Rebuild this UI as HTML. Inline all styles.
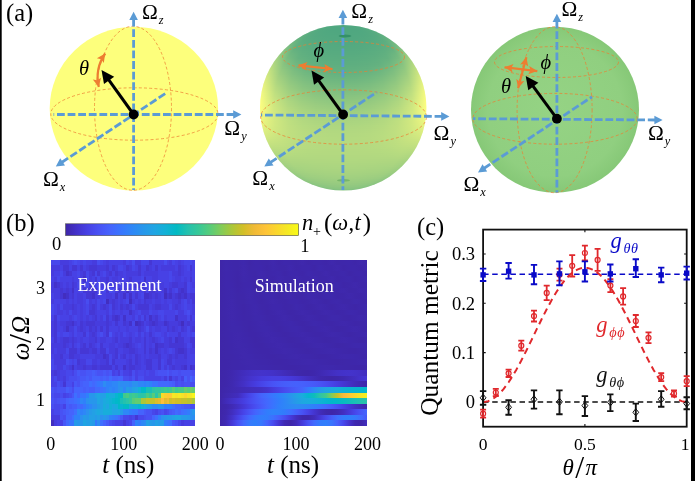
<!DOCTYPE html>
<html lang="en"><head><meta charset="utf-8"><title>Quantum metric figure</title>
<style>html,body{margin:0;padding:0;background:#fff;overflow:hidden}svg{display:block;will-change:transform}</style>
</head><body>
<svg width="695" height="481" viewBox="0 0 695 481">
<rect width="695" height="481" fill="#fff"/>
<ellipse cx="133.9" cy="108.6" rx="84.2" ry="81.9" fill="#fdff7c"/>
<ellipse cx="134.4" cy="114.0" rx="83.6" ry="26.2" fill="none" stroke="#ed7d31" stroke-width="0.9" stroke-dasharray="3 2.2" opacity="0.8"/>
<ellipse cx="133.0" cy="108.3" rx="38.5" ry="82.0" fill="none" stroke="#ed7d31" stroke-width="0.9" stroke-dasharray="3 2.2" opacity="0.8"/>
<line x1="133.6" y1="18.7" x2="133.6" y2="190.0" stroke="#5b9bd5" stroke-width="2.8" stroke-dasharray="7.8 2.8"/>
<polygon points="133.6,11.7 137.9,19.9 129.3,19.9" fill="#5b9bd5"/>
<line x1="234.4" y1="114.5" x2="53.5" y2="114.5" stroke="#5b9bd5" stroke-width="2.8" stroke-dasharray="7.8 2.8"/>
<polygon points="241.4,114.5 233.2,118.8 233.2,110.2" fill="#5b9bd5"/>
<line x1="61.6" y1="162.5" x2="167.2" y2="92.3" stroke="#5b9bd5" stroke-width="2.8" stroke-dasharray="7.8 2.8"/>
<polygon points="55.8,166.4 60.2,158.3 65.0,165.4" fill="#5b9bd5"/>
<line x1="133.6" y1="114.5" x2="106.8" y2="77.2" stroke="#000" stroke-width="3.0"/>
<polygon points="101.5,69.9 114.2,76.8 104.0,84.1" fill="#000"/>
<circle cx="133.6" cy="114.5" r="4.9" fill="#000"/>
<path d="M105.2 53.5Q94.6 68.8 98.8 87.0" fill="none" stroke="#ed7d31" stroke-width="2.2"/>
<polygon points="105.2,53.5 103.8,63.0 101.3,59.2 96.9,58.2" fill="#ed7d31"/>
<polygon points="98.8,87.0 92.8,79.6 97.3,80.3 101.0,77.7" fill="#ed7d31"/>
<text x="79" y="75" font-family="'Liberation Serif', serif" font-size="20.5" font-style="italic">θ</text>
<text x="142.0" y="18.7" font-family="'Liberation Serif', serif" font-size="21.3">Ω<tspan font-style="italic" font-size="12.3" dx="1" dy="5">z</tspan></text>
<text x="224.3" y="135.2" font-family="'Liberation Serif', serif" font-size="21.3">Ω<tspan font-style="italic" font-size="12.3" dx="1" dy="5">y</tspan></text>
<text x="43.0" y="186.1" font-family="'Liberation Serif', serif" font-size="21.3">Ω<tspan font-style="italic" font-size="12.3" dx="1" dy="5">x</tspan></text>
<defs><clipPath id="c2"><ellipse cx="343.2" cy="107.8" rx="83.2" ry="82.8"/></clipPath><linearGradient id="r0" gradientUnits="userSpaceOnUse" x1="330.3" x2="356.1" y1="0" y2="0"><stop offset="0.000" stop-color="#55aa80"/><stop offset="0.083" stop-color="#52a980"/><stop offset="0.167" stop-color="#51a880"/><stop offset="0.250" stop-color="#51a880"/><stop offset="0.333" stop-color="#50a880"/><stop offset="0.417" stop-color="#50a780"/><stop offset="0.500" stop-color="#50a780"/><stop offset="0.583" stop-color="#50a780"/><stop offset="0.667" stop-color="#50a880"/><stop offset="0.750" stop-color="#51a880"/><stop offset="0.833" stop-color="#51a880"/><stop offset="0.917" stop-color="#52a980"/><stop offset="1.000" stop-color="#55aa80"/></linearGradient><linearGradient id="r1" gradientUnits="userSpaceOnUse" x1="321.0" x2="365.4" y1="0" y2="0"><stop offset="0.000" stop-color="#58ab80"/><stop offset="0.083" stop-color="#52a980"/><stop offset="0.167" stop-color="#51a880"/><stop offset="0.250" stop-color="#50a780"/><stop offset="0.333" stop-color="#4fa780"/><stop offset="0.417" stop-color="#4fa780"/><stop offset="0.500" stop-color="#4fa780"/><stop offset="0.583" stop-color="#4fa780"/><stop offset="0.667" stop-color="#4fa780"/><stop offset="0.750" stop-color="#50a780"/><stop offset="0.833" stop-color="#51a880"/><stop offset="0.917" stop-color="#52a980"/><stop offset="1.000" stop-color="#58ab80"/></linearGradient><linearGradient id="r2" gradientUnits="userSpaceOnUse" x1="314.7" x2="371.7" y1="0" y2="0"><stop offset="0.000" stop-color="#5aad80"/><stop offset="0.083" stop-color="#53a980"/><stop offset="0.167" stop-color="#51a880"/><stop offset="0.250" stop-color="#50a780"/><stop offset="0.333" stop-color="#4fa780"/><stop offset="0.417" stop-color="#4fa780"/><stop offset="0.500" stop-color="#4fa780"/><stop offset="0.583" stop-color="#4fa780"/><stop offset="0.667" stop-color="#4fa780"/><stop offset="0.750" stop-color="#50a780"/><stop offset="0.833" stop-color="#51a880"/><stop offset="0.917" stop-color="#53a980"/><stop offset="1.000" stop-color="#5aad80"/></linearGradient><linearGradient id="r3" gradientUnits="userSpaceOnUse" x1="309.7" x2="376.7" y1="0" y2="0"><stop offset="0.000" stop-color="#5dae80"/><stop offset="0.083" stop-color="#54aa80"/><stop offset="0.167" stop-color="#52a880"/><stop offset="0.250" stop-color="#50a880"/><stop offset="0.333" stop-color="#50a780"/><stop offset="0.417" stop-color="#4fa780"/><stop offset="0.500" stop-color="#4fa780"/><stop offset="0.583" stop-color="#4fa780"/><stop offset="0.667" stop-color="#50a780"/><stop offset="0.750" stop-color="#50a880"/><stop offset="0.833" stop-color="#52a880"/><stop offset="0.917" stop-color="#54aa80"/><stop offset="1.000" stop-color="#5dae80"/></linearGradient><linearGradient id="r4" gradientUnits="userSpaceOnUse" x1="305.5" x2="380.9" y1="0" y2="0"><stop offset="0.000" stop-color="#5faf80"/><stop offset="0.083" stop-color="#56aa80"/><stop offset="0.167" stop-color="#53a980"/><stop offset="0.250" stop-color="#51a880"/><stop offset="0.333" stop-color="#50a880"/><stop offset="0.417" stop-color="#50a780"/><stop offset="0.500" stop-color="#50a780"/><stop offset="0.583" stop-color="#50a780"/><stop offset="0.667" stop-color="#50a880"/><stop offset="0.750" stop-color="#51a880"/><stop offset="0.833" stop-color="#53a980"/><stop offset="0.917" stop-color="#56aa80"/><stop offset="1.000" stop-color="#5faf80"/></linearGradient><linearGradient id="r5" gradientUnits="userSpaceOnUse" x1="301.8" x2="384.6" y1="0" y2="0"><stop offset="0.000" stop-color="#62b180"/><stop offset="0.083" stop-color="#57ab80"/><stop offset="0.167" stop-color="#54a980"/><stop offset="0.250" stop-color="#52a880"/><stop offset="0.333" stop-color="#51a880"/><stop offset="0.417" stop-color="#51a880"/><stop offset="0.500" stop-color="#51a880"/><stop offset="0.583" stop-color="#51a880"/><stop offset="0.667" stop-color="#51a880"/><stop offset="0.750" stop-color="#52a880"/><stop offset="0.833" stop-color="#54a980"/><stop offset="0.917" stop-color="#57ab80"/><stop offset="1.000" stop-color="#62b180"/></linearGradient><linearGradient id="r6" gradientUnits="userSpaceOnUse" x1="298.4" x2="388.0" y1="0" y2="0"><stop offset="0.000" stop-color="#66b280"/><stop offset="0.083" stop-color="#59ac80"/><stop offset="0.167" stop-color="#55aa80"/><stop offset="0.250" stop-color="#53a980"/><stop offset="0.333" stop-color="#52a880"/><stop offset="0.417" stop-color="#51a880"/><stop offset="0.500" stop-color="#51a880"/><stop offset="0.583" stop-color="#51a880"/><stop offset="0.667" stop-color="#52a880"/><stop offset="0.750" stop-color="#53a980"/><stop offset="0.833" stop-color="#55aa80"/><stop offset="0.917" stop-color="#59ac80"/><stop offset="1.000" stop-color="#66b280"/></linearGradient><linearGradient id="r7" gradientUnits="userSpaceOnUse" x1="295.4" x2="391.0" y1="0" y2="0"><stop offset="0.000" stop-color="#6cb580"/><stop offset="0.083" stop-color="#5bad80"/><stop offset="0.167" stop-color="#56ab80"/><stop offset="0.250" stop-color="#54a980"/><stop offset="0.333" stop-color="#52a980"/><stop offset="0.417" stop-color="#52a880"/><stop offset="0.500" stop-color="#52a880"/><stop offset="0.583" stop-color="#52a880"/><stop offset="0.667" stop-color="#52a980"/><stop offset="0.750" stop-color="#54a980"/><stop offset="0.833" stop-color="#56ab80"/><stop offset="0.917" stop-color="#5bad80"/><stop offset="1.000" stop-color="#6cb580"/></linearGradient><linearGradient id="r8" gradientUnits="userSpaceOnUse" x1="292.7" x2="393.7" y1="0" y2="0"><stop offset="0.000" stop-color="#72b880"/><stop offset="0.083" stop-color="#5dae80"/><stop offset="0.167" stop-color="#57ab80"/><stop offset="0.250" stop-color="#55aa80"/><stop offset="0.333" stop-color="#53a980"/><stop offset="0.417" stop-color="#53a980"/><stop offset="0.500" stop-color="#52a980"/><stop offset="0.583" stop-color="#53a980"/><stop offset="0.667" stop-color="#53a980"/><stop offset="0.750" stop-color="#55aa80"/><stop offset="0.833" stop-color="#57ab80"/><stop offset="0.917" stop-color="#5dae80"/><stop offset="1.000" stop-color="#72b880"/></linearGradient><linearGradient id="r9" gradientUnits="userSpaceOnUse" x1="290.2" x2="396.2" y1="0" y2="0"><stop offset="0.000" stop-color="#78bb80"/><stop offset="0.083" stop-color="#5faf80"/><stop offset="0.167" stop-color="#59ac80"/><stop offset="0.250" stop-color="#56aa80"/><stop offset="0.333" stop-color="#54aa80"/><stop offset="0.417" stop-color="#53a980"/><stop offset="0.500" stop-color="#53a980"/><stop offset="0.583" stop-color="#53a980"/><stop offset="0.667" stop-color="#54aa80"/><stop offset="0.750" stop-color="#56aa80"/><stop offset="0.833" stop-color="#59ac80"/><stop offset="0.917" stop-color="#5faf80"/><stop offset="1.000" stop-color="#78bb80"/></linearGradient><linearGradient id="r10" gradientUnits="userSpaceOnUse" x1="287.8" x2="398.6" y1="0" y2="0"><stop offset="0.000" stop-color="#7ebe80"/><stop offset="0.083" stop-color="#61b080"/><stop offset="0.167" stop-color="#5aad80"/><stop offset="0.250" stop-color="#57ab80"/><stop offset="0.333" stop-color="#55aa80"/><stop offset="0.417" stop-color="#54aa80"/><stop offset="0.500" stop-color="#54a980"/><stop offset="0.583" stop-color="#54aa80"/><stop offset="0.667" stop-color="#55aa80"/><stop offset="0.750" stop-color="#57ab80"/><stop offset="0.833" stop-color="#5aad80"/><stop offset="0.917" stop-color="#61b080"/><stop offset="1.000" stop-color="#7ebe80"/></linearGradient><linearGradient id="r11" gradientUnits="userSpaceOnUse" x1="285.7" x2="400.7" y1="0" y2="0"><stop offset="0.000" stop-color="#84c280"/><stop offset="0.083" stop-color="#63b180"/><stop offset="0.167" stop-color="#5cad80"/><stop offset="0.250" stop-color="#58ac80"/><stop offset="0.333" stop-color="#56aa80"/><stop offset="0.417" stop-color="#55aa80"/><stop offset="0.500" stop-color="#55aa80"/><stop offset="0.583" stop-color="#55aa80"/><stop offset="0.667" stop-color="#56aa80"/><stop offset="0.750" stop-color="#58ac80"/><stop offset="0.833" stop-color="#5cad80"/><stop offset="0.917" stop-color="#63b180"/><stop offset="1.000" stop-color="#84c280"/></linearGradient><linearGradient id="r12" gradientUnits="userSpaceOnUse" x1="283.6" x2="402.8" y1="0" y2="0"><stop offset="0.000" stop-color="#8ac580"/><stop offset="0.083" stop-color="#66b280"/><stop offset="0.167" stop-color="#5dae80"/><stop offset="0.250" stop-color="#59ac80"/><stop offset="0.333" stop-color="#57ab80"/><stop offset="0.417" stop-color="#56aa80"/><stop offset="0.500" stop-color="#56aa80"/><stop offset="0.583" stop-color="#56aa80"/><stop offset="0.667" stop-color="#57ab80"/><stop offset="0.750" stop-color="#59ac80"/><stop offset="0.833" stop-color="#5dae80"/><stop offset="0.917" stop-color="#66b280"/><stop offset="1.000" stop-color="#8ac580"/></linearGradient><linearGradient id="r13" gradientUnits="userSpaceOnUse" x1="281.7" x2="404.7" y1="0" y2="0"><stop offset="0.000" stop-color="#91c880"/><stop offset="0.083" stop-color="#6ab480"/><stop offset="0.167" stop-color="#5faf80"/><stop offset="0.250" stop-color="#5bad80"/><stop offset="0.333" stop-color="#58ac80"/><stop offset="0.417" stop-color="#57ab80"/><stop offset="0.500" stop-color="#57ab80"/><stop offset="0.583" stop-color="#57ab80"/><stop offset="0.667" stop-color="#58ac80"/><stop offset="0.750" stop-color="#5bad80"/><stop offset="0.833" stop-color="#5faf80"/><stop offset="0.917" stop-color="#6ab480"/><stop offset="1.000" stop-color="#91c880"/></linearGradient><linearGradient id="r14" gradientUnits="userSpaceOnUse" x1="280.0" x2="406.4" y1="0" y2="0"><stop offset="0.000" stop-color="#97cb80"/><stop offset="0.083" stop-color="#6eb780"/><stop offset="0.167" stop-color="#61b080"/><stop offset="0.250" stop-color="#5cad80"/><stop offset="0.333" stop-color="#59ac80"/><stop offset="0.417" stop-color="#58ab80"/><stop offset="0.500" stop-color="#58ab80"/><stop offset="0.583" stop-color="#58ab80"/><stop offset="0.667" stop-color="#59ac80"/><stop offset="0.750" stop-color="#5cad80"/><stop offset="0.833" stop-color="#61b080"/><stop offset="0.917" stop-color="#6eb780"/><stop offset="1.000" stop-color="#97cb80"/></linearGradient><linearGradient id="r15" gradientUnits="userSpaceOnUse" x1="278.3" x2="408.1" y1="0" y2="0"><stop offset="0.000" stop-color="#9dce80"/><stop offset="0.083" stop-color="#73b980"/><stop offset="0.167" stop-color="#63b180"/><stop offset="0.250" stop-color="#5dae80"/><stop offset="0.333" stop-color="#5bad80"/><stop offset="0.417" stop-color="#59ac80"/><stop offset="0.500" stop-color="#59ac80"/><stop offset="0.583" stop-color="#59ac80"/><stop offset="0.667" stop-color="#5bad80"/><stop offset="0.750" stop-color="#5dae80"/><stop offset="0.833" stop-color="#63b180"/><stop offset="0.917" stop-color="#73b980"/><stop offset="1.000" stop-color="#9dce80"/></linearGradient><linearGradient id="r16" gradientUnits="userSpaceOnUse" x1="276.7" x2="409.7" y1="0" y2="0"><stop offset="0.000" stop-color="#a3d180"/><stop offset="0.083" stop-color="#77bb80"/><stop offset="0.167" stop-color="#64b280"/><stop offset="0.250" stop-color="#5faf80"/><stop offset="0.333" stop-color="#5cad80"/><stop offset="0.417" stop-color="#5aad80"/><stop offset="0.500" stop-color="#5aac80"/><stop offset="0.583" stop-color="#5aad80"/><stop offset="0.667" stop-color="#5cad80"/><stop offset="0.750" stop-color="#5faf80"/><stop offset="0.833" stop-color="#64b280"/><stop offset="0.917" stop-color="#77bb80"/><stop offset="1.000" stop-color="#a3d180"/></linearGradient><linearGradient id="r17" gradientUnits="userSpaceOnUse" x1="275.3" x2="411.1" y1="0" y2="0"><stop offset="0.000" stop-color="#a9d480"/><stop offset="0.083" stop-color="#7cbe80"/><stop offset="0.167" stop-color="#68b380"/><stop offset="0.250" stop-color="#60b080"/><stop offset="0.333" stop-color="#5dae80"/><stop offset="0.417" stop-color="#5bad80"/><stop offset="0.500" stop-color="#5bad80"/><stop offset="0.583" stop-color="#5bad80"/><stop offset="0.667" stop-color="#5dae80"/><stop offset="0.750" stop-color="#60b080"/><stop offset="0.833" stop-color="#68b380"/><stop offset="0.917" stop-color="#7cbe80"/><stop offset="1.000" stop-color="#a9d480"/></linearGradient><linearGradient id="r18" gradientUnits="userSpaceOnUse" x1="273.9" x2="412.5" y1="0" y2="0"><stop offset="0.000" stop-color="#afd780"/><stop offset="0.083" stop-color="#81c080"/><stop offset="0.167" stop-color="#6bb580"/><stop offset="0.250" stop-color="#62b080"/><stop offset="0.333" stop-color="#5eaf80"/><stop offset="0.417" stop-color="#5dae80"/><stop offset="0.500" stop-color="#5cae80"/><stop offset="0.583" stop-color="#5dae80"/><stop offset="0.667" stop-color="#5eaf80"/><stop offset="0.750" stop-color="#62b080"/><stop offset="0.833" stop-color="#6bb580"/><stop offset="0.917" stop-color="#81c080"/><stop offset="1.000" stop-color="#afd780"/></linearGradient><linearGradient id="r19" gradientUnits="userSpaceOnUse" x1="272.6" x2="413.8" y1="0" y2="0"><stop offset="0.000" stop-color="#b5da80"/><stop offset="0.083" stop-color="#85c280"/><stop offset="0.167" stop-color="#6fb780"/><stop offset="0.250" stop-color="#63b180"/><stop offset="0.333" stop-color="#60af80"/><stop offset="0.417" stop-color="#5eae80"/><stop offset="0.500" stop-color="#5dae80"/><stop offset="0.583" stop-color="#5eae80"/><stop offset="0.667" stop-color="#60af80"/><stop offset="0.750" stop-color="#63b180"/><stop offset="0.833" stop-color="#6fb780"/><stop offset="0.917" stop-color="#85c280"/><stop offset="1.000" stop-color="#b5da80"/></linearGradient><linearGradient id="r20" gradientUnits="userSpaceOnUse" x1="271.4" x2="415.0" y1="0" y2="0"><stop offset="0.000" stop-color="#bbdd80"/><stop offset="0.083" stop-color="#8ac480"/><stop offset="0.167" stop-color="#73b980"/><stop offset="0.250" stop-color="#65b280"/><stop offset="0.333" stop-color="#61b080"/><stop offset="0.417" stop-color="#5faf80"/><stop offset="0.500" stop-color="#5faf80"/><stop offset="0.583" stop-color="#5faf80"/><stop offset="0.667" stop-color="#61b080"/><stop offset="0.750" stop-color="#65b280"/><stop offset="0.833" stop-color="#73b980"/><stop offset="0.917" stop-color="#8ac480"/><stop offset="1.000" stop-color="#bbdd80"/></linearGradient><linearGradient id="r21" gradientUnits="userSpaceOnUse" x1="270.2" x2="416.2" y1="0" y2="0"><stop offset="0.000" stop-color="#c0e080"/><stop offset="0.083" stop-color="#8ec780"/><stop offset="0.167" stop-color="#76bb80"/><stop offset="0.250" stop-color="#69b480"/><stop offset="0.333" stop-color="#63b180"/><stop offset="0.417" stop-color="#61b080"/><stop offset="0.500" stop-color="#60b080"/><stop offset="0.583" stop-color="#61b080"/><stop offset="0.667" stop-color="#63b180"/><stop offset="0.750" stop-color="#69b480"/><stop offset="0.833" stop-color="#76bb80"/><stop offset="0.917" stop-color="#8ec780"/><stop offset="1.000" stop-color="#c0e080"/></linearGradient><linearGradient id="r22" gradientUnits="userSpaceOnUse" x1="269.2" x2="417.2" y1="0" y2="0"><stop offset="0.000" stop-color="#c5e280"/><stop offset="0.083" stop-color="#93c980"/><stop offset="0.167" stop-color="#7abd80"/><stop offset="0.250" stop-color="#6cb580"/><stop offset="0.333" stop-color="#64b280"/><stop offset="0.417" stop-color="#62b180"/><stop offset="0.500" stop-color="#62b080"/><stop offset="0.583" stop-color="#62b180"/><stop offset="0.667" stop-color="#64b280"/><stop offset="0.750" stop-color="#6cb580"/><stop offset="0.833" stop-color="#7abd80"/><stop offset="0.917" stop-color="#93c980"/><stop offset="1.000" stop-color="#c5e280"/></linearGradient><linearGradient id="r23" gradientUnits="userSpaceOnUse" x1="268.2" x2="418.2" y1="0" y2="0"><stop offset="0.000" stop-color="#cbe580"/><stop offset="0.083" stop-color="#97cb80"/><stop offset="0.167" stop-color="#7ebe80"/><stop offset="0.250" stop-color="#6fb780"/><stop offset="0.333" stop-color="#67b380"/><stop offset="0.417" stop-color="#64b180"/><stop offset="0.500" stop-color="#63b180"/><stop offset="0.583" stop-color="#64b180"/><stop offset="0.667" stop-color="#67b380"/><stop offset="0.750" stop-color="#6fb780"/><stop offset="0.833" stop-color="#7ebe80"/><stop offset="0.917" stop-color="#97cb80"/><stop offset="1.000" stop-color="#cbe580"/></linearGradient><linearGradient id="r24" gradientUnits="userSpaceOnUse" x1="267.2" x2="419.2" y1="0" y2="0"><stop offset="0.000" stop-color="#d0e780"/><stop offset="0.083" stop-color="#9bcd80"/><stop offset="0.167" stop-color="#81c080"/><stop offset="0.250" stop-color="#72b980"/><stop offset="0.333" stop-color="#6ab480"/><stop offset="0.417" stop-color="#66b280"/><stop offset="0.500" stop-color="#64b280"/><stop offset="0.583" stop-color="#66b280"/><stop offset="0.667" stop-color="#6ab480"/><stop offset="0.750" stop-color="#72b980"/><stop offset="0.833" stop-color="#81c080"/><stop offset="0.917" stop-color="#9bcd80"/><stop offset="1.000" stop-color="#d0e780"/></linearGradient><linearGradient id="r25" gradientUnits="userSpaceOnUse" x1="266.4" x2="420.0" y1="0" y2="0"><stop offset="0.000" stop-color="#d4ea80"/><stop offset="0.083" stop-color="#a0cf80"/><stop offset="0.167" stop-color="#85c280"/><stop offset="0.250" stop-color="#76ba80"/><stop offset="0.333" stop-color="#6db680"/><stop offset="0.417" stop-color="#69b480"/><stop offset="0.500" stop-color="#67b380"/><stop offset="0.583" stop-color="#69b480"/><stop offset="0.667" stop-color="#6db680"/><stop offset="0.750" stop-color="#76ba80"/><stop offset="0.833" stop-color="#85c280"/><stop offset="0.917" stop-color="#a0cf80"/><stop offset="1.000" stop-color="#d4ea80"/></linearGradient><linearGradient id="r26" gradientUnits="userSpaceOnUse" x1="265.6" x2="420.8" y1="0" y2="0"><stop offset="0.000" stop-color="#d9ec80"/><stop offset="0.083" stop-color="#a4d180"/><stop offset="0.167" stop-color="#89c480"/><stop offset="0.250" stop-color="#79bc80"/><stop offset="0.333" stop-color="#70b880"/><stop offset="0.417" stop-color="#6cb580"/><stop offset="0.500" stop-color="#6ab580"/><stop offset="0.583" stop-color="#6cb580"/><stop offset="0.667" stop-color="#70b880"/><stop offset="0.750" stop-color="#79bc80"/><stop offset="0.833" stop-color="#89c480"/><stop offset="0.917" stop-color="#a4d180"/><stop offset="1.000" stop-color="#d9ec80"/></linearGradient><linearGradient id="r27" gradientUnits="userSpaceOnUse" x1="264.8" x2="421.6" y1="0" y2="0"><stop offset="0.000" stop-color="#ddee80"/><stop offset="0.083" stop-color="#a8d380"/><stop offset="0.167" stop-color="#8cc680"/><stop offset="0.250" stop-color="#7cbe80"/><stop offset="0.333" stop-color="#73b980"/><stop offset="0.417" stop-color="#6fb780"/><stop offset="0.500" stop-color="#6db680"/><stop offset="0.583" stop-color="#6fb780"/><stop offset="0.667" stop-color="#73b980"/><stop offset="0.750" stop-color="#7cbe80"/><stop offset="0.833" stop-color="#8cc680"/><stop offset="0.917" stop-color="#a8d380"/><stop offset="1.000" stop-color="#ddee80"/></linearGradient><linearGradient id="r28" gradientUnits="userSpaceOnUse" x1="264.1" x2="422.3" y1="0" y2="0"><stop offset="0.000" stop-color="#e1f080"/><stop offset="0.083" stop-color="#acd580"/><stop offset="0.167" stop-color="#90c780"/><stop offset="0.250" stop-color="#80bf80"/><stop offset="0.333" stop-color="#76bb80"/><stop offset="0.417" stop-color="#72b880"/><stop offset="0.500" stop-color="#70b880"/><stop offset="0.583" stop-color="#72b880"/><stop offset="0.667" stop-color="#76bb80"/><stop offset="0.750" stop-color="#80bf80"/><stop offset="0.833" stop-color="#90c780"/><stop offset="0.917" stop-color="#acd580"/><stop offset="1.000" stop-color="#e1f080"/></linearGradient><linearGradient id="r29" gradientUnits="userSpaceOnUse" x1="263.5" x2="422.9" y1="0" y2="0"><stop offset="0.000" stop-color="#e5f280"/><stop offset="0.083" stop-color="#afd780"/><stop offset="0.167" stop-color="#93c980"/><stop offset="0.250" stop-color="#83c180"/><stop offset="0.333" stop-color="#7abc80"/><stop offset="0.417" stop-color="#75ba80"/><stop offset="0.500" stop-color="#73b980"/><stop offset="0.583" stop-color="#75ba80"/><stop offset="0.667" stop-color="#7abc80"/><stop offset="0.750" stop-color="#83c180"/><stop offset="0.833" stop-color="#93c980"/><stop offset="0.917" stop-color="#afd780"/><stop offset="1.000" stop-color="#e5f280"/></linearGradient><linearGradient id="r30" gradientUnits="userSpaceOnUse" x1="262.9" x2="423.5" y1="0" y2="0"><stop offset="0.000" stop-color="#e9f480"/><stop offset="0.083" stop-color="#b3d980"/><stop offset="0.167" stop-color="#97cb80"/><stop offset="0.250" stop-color="#86c380"/><stop offset="0.333" stop-color="#7dbe80"/><stop offset="0.417" stop-color="#78bc80"/><stop offset="0.500" stop-color="#77bb80"/><stop offset="0.583" stop-color="#78bc80"/><stop offset="0.667" stop-color="#7dbe80"/><stop offset="0.750" stop-color="#86c380"/><stop offset="0.833" stop-color="#97cb80"/><stop offset="0.917" stop-color="#b3d980"/><stop offset="1.000" stop-color="#e9f480"/></linearGradient><linearGradient id="r31" gradientUnits="userSpaceOnUse" x1="262.4" x2="424.0" y1="0" y2="0"><stop offset="0.000" stop-color="#ecf580"/><stop offset="0.083" stop-color="#b7db80"/><stop offset="0.167" stop-color="#9acc80"/><stop offset="0.250" stop-color="#89c480"/><stop offset="0.333" stop-color="#80bf80"/><stop offset="0.417" stop-color="#7bbd80"/><stop offset="0.500" stop-color="#7abc80"/><stop offset="0.583" stop-color="#7bbd80"/><stop offset="0.667" stop-color="#80bf80"/><stop offset="0.750" stop-color="#89c480"/><stop offset="0.833" stop-color="#9acc80"/><stop offset="0.917" stop-color="#b7db80"/><stop offset="1.000" stop-color="#ecf580"/></linearGradient><linearGradient id="r32" gradientUnits="userSpaceOnUse" x1="261.9" x2="424.5" y1="0" y2="0"><stop offset="0.000" stop-color="#eff780"/><stop offset="0.083" stop-color="#badc80"/><stop offset="0.167" stop-color="#9dce80"/><stop offset="0.250" stop-color="#8cc680"/><stop offset="0.333" stop-color="#83c180"/><stop offset="0.417" stop-color="#7ebf80"/><stop offset="0.500" stop-color="#7dbe80"/><stop offset="0.583" stop-color="#7ebf80"/><stop offset="0.667" stop-color="#83c180"/><stop offset="0.750" stop-color="#8cc680"/><stop offset="0.833" stop-color="#9dce80"/><stop offset="0.917" stop-color="#badc80"/><stop offset="1.000" stop-color="#eff780"/></linearGradient><linearGradient id="r33" gradientUnits="userSpaceOnUse" x1="261.5" x2="424.9" y1="0" y2="0"><stop offset="0.000" stop-color="#f2f880"/><stop offset="0.083" stop-color="#bdde80"/><stop offset="0.167" stop-color="#a0d080"/><stop offset="0.250" stop-color="#90c780"/><stop offset="0.333" stop-color="#86c380"/><stop offset="0.417" stop-color="#81c080"/><stop offset="0.500" stop-color="#80bf80"/><stop offset="0.583" stop-color="#81c080"/><stop offset="0.667" stop-color="#86c380"/><stop offset="0.750" stop-color="#90c780"/><stop offset="0.833" stop-color="#a0d080"/><stop offset="0.917" stop-color="#bdde80"/><stop offset="1.000" stop-color="#f2f880"/></linearGradient><linearGradient id="r34" gradientUnits="userSpaceOnUse" x1="261.2" x2="425.2" y1="0" y2="0"><stop offset="0.000" stop-color="#f4fa80"/><stop offset="0.083" stop-color="#c0e080"/><stop offset="0.167" stop-color="#a3d180"/><stop offset="0.250" stop-color="#93c980"/><stop offset="0.333" stop-color="#89c480"/><stop offset="0.417" stop-color="#84c280"/><stop offset="0.500" stop-color="#83c180"/><stop offset="0.583" stop-color="#84c280"/><stop offset="0.667" stop-color="#89c480"/><stop offset="0.750" stop-color="#93c980"/><stop offset="0.833" stop-color="#a3d180"/><stop offset="0.917" stop-color="#c0e080"/><stop offset="1.000" stop-color="#f4fa80"/></linearGradient><linearGradient id="r35" gradientUnits="userSpaceOnUse" x1="260.8" x2="425.6" y1="0" y2="0"><stop offset="0.000" stop-color="#f6fb80"/><stop offset="0.083" stop-color="#c3e180"/><stop offset="0.167" stop-color="#a6d380"/><stop offset="0.250" stop-color="#96ca80"/><stop offset="0.333" stop-color="#8cc680"/><stop offset="0.417" stop-color="#88c380"/><stop offset="0.500" stop-color="#86c380"/><stop offset="0.583" stop-color="#88c380"/><stop offset="0.667" stop-color="#8cc680"/><stop offset="0.750" stop-color="#96ca80"/><stop offset="0.833" stop-color="#a6d380"/><stop offset="0.917" stop-color="#c3e180"/><stop offset="1.000" stop-color="#f6fb80"/></linearGradient><linearGradient id="r36" gradientUnits="userSpaceOnUse" x1="260.6" x2="425.8" y1="0" y2="0"><stop offset="0.000" stop-color="#f8fc80"/><stop offset="0.083" stop-color="#c6e280"/><stop offset="0.167" stop-color="#a9d480"/><stop offset="0.250" stop-color="#99cc80"/><stop offset="0.333" stop-color="#8fc780"/><stop offset="0.417" stop-color="#8bc580"/><stop offset="0.500" stop-color="#89c480"/><stop offset="0.583" stop-color="#8bc580"/><stop offset="0.667" stop-color="#8fc780"/><stop offset="0.750" stop-color="#99cc80"/><stop offset="0.833" stop-color="#a9d480"/><stop offset="0.917" stop-color="#c6e280"/><stop offset="1.000" stop-color="#f8fc80"/></linearGradient><linearGradient id="r37" gradientUnits="userSpaceOnUse" x1="260.4" x2="426.0" y1="0" y2="0"><stop offset="0.000" stop-color="#fafc80"/><stop offset="0.083" stop-color="#c8e480"/><stop offset="0.167" stop-color="#acd580"/><stop offset="0.250" stop-color="#9bcd80"/><stop offset="0.333" stop-color="#92c980"/><stop offset="0.417" stop-color="#8ec680"/><stop offset="0.500" stop-color="#8cc680"/><stop offset="0.583" stop-color="#8ec680"/><stop offset="0.667" stop-color="#92c980"/><stop offset="0.750" stop-color="#9bcd80"/><stop offset="0.833" stop-color="#acd580"/><stop offset="0.917" stop-color="#c8e480"/><stop offset="1.000" stop-color="#fafc80"/></linearGradient><linearGradient id="r38" gradientUnits="userSpaceOnUse" x1="260.2" x2="426.2" y1="0" y2="0"><stop offset="0.000" stop-color="#fbfd80"/><stop offset="0.083" stop-color="#cbe580"/><stop offset="0.167" stop-color="#afd780"/><stop offset="0.250" stop-color="#9ecf80"/><stop offset="0.333" stop-color="#95ca80"/><stop offset="0.417" stop-color="#90c880"/><stop offset="0.500" stop-color="#8fc780"/><stop offset="0.583" stop-color="#90c880"/><stop offset="0.667" stop-color="#95ca80"/><stop offset="0.750" stop-color="#9ecf80"/><stop offset="0.833" stop-color="#afd780"/><stop offset="0.917" stop-color="#cbe580"/><stop offset="1.000" stop-color="#fbfd80"/></linearGradient><linearGradient id="r39" gradientUnits="userSpaceOnUse" x1="260.1" x2="426.3" y1="0" y2="0"><stop offset="0.000" stop-color="#fcfd80"/><stop offset="0.083" stop-color="#cde680"/><stop offset="0.167" stop-color="#b1d880"/><stop offset="0.250" stop-color="#a1d080"/><stop offset="0.333" stop-color="#98cb80"/><stop offset="0.417" stop-color="#93c980"/><stop offset="0.500" stop-color="#92c880"/><stop offset="0.583" stop-color="#93c980"/><stop offset="0.667" stop-color="#98cb80"/><stop offset="0.750" stop-color="#a1d080"/><stop offset="0.833" stop-color="#b1d880"/><stop offset="0.917" stop-color="#cde680"/><stop offset="1.000" stop-color="#fcfd80"/></linearGradient><linearGradient id="r40" gradientUnits="userSpaceOnUse" x1="260.0" x2="426.4" y1="0" y2="0"><stop offset="0.000" stop-color="#fcfe80"/><stop offset="0.083" stop-color="#cfe780"/><stop offset="0.167" stop-color="#b3d980"/><stop offset="0.250" stop-color="#a4d180"/><stop offset="0.333" stop-color="#9bcd80"/><stop offset="0.417" stop-color="#96cb80"/><stop offset="0.500" stop-color="#95ca80"/><stop offset="0.583" stop-color="#96cb80"/><stop offset="0.667" stop-color="#9bcd80"/><stop offset="0.750" stop-color="#a4d180"/><stop offset="0.833" stop-color="#b3d980"/><stop offset="0.917" stop-color="#cfe780"/><stop offset="1.000" stop-color="#fcfe80"/></linearGradient><linearGradient id="r41" gradientUnits="userSpaceOnUse" x1="260.0" x2="426.4" y1="0" y2="0"><stop offset="0.000" stop-color="#fcfe80"/><stop offset="0.083" stop-color="#d0e880"/><stop offset="0.167" stop-color="#b6da80"/><stop offset="0.250" stop-color="#a6d380"/><stop offset="0.333" stop-color="#9dce80"/><stop offset="0.417" stop-color="#99cc80"/><stop offset="0.500" stop-color="#98cb80"/><stop offset="0.583" stop-color="#99cc80"/><stop offset="0.667" stop-color="#9dce80"/><stop offset="0.750" stop-color="#a6d380"/><stop offset="0.833" stop-color="#b6da80"/><stop offset="0.917" stop-color="#d0e880"/><stop offset="1.000" stop-color="#fcfe80"/></linearGradient><linearGradient id="r42" gradientUnits="userSpaceOnUse" x1="260.0" x2="426.4" y1="0" y2="0"><stop offset="0.000" stop-color="#fbfd80"/><stop offset="0.083" stop-color="#d1e880"/><stop offset="0.167" stop-color="#b8db80"/><stop offset="0.250" stop-color="#a9d480"/><stop offset="0.333" stop-color="#a0d080"/><stop offset="0.417" stop-color="#9cce80"/><stop offset="0.500" stop-color="#9bcd80"/><stop offset="0.583" stop-color="#9cce80"/><stop offset="0.667" stop-color="#a0d080"/><stop offset="0.750" stop-color="#a9d480"/><stop offset="0.833" stop-color="#b8db80"/><stop offset="0.917" stop-color="#d1e880"/><stop offset="1.000" stop-color="#fbfd80"/></linearGradient><linearGradient id="r43" gradientUnits="userSpaceOnUse" x1="260.1" x2="426.3" y1="0" y2="0"><stop offset="0.000" stop-color="#f9fc80"/><stop offset="0.083" stop-color="#d2e980"/><stop offset="0.167" stop-color="#b9dc80"/><stop offset="0.250" stop-color="#abd580"/><stop offset="0.333" stop-color="#a3d180"/><stop offset="0.417" stop-color="#9fcf80"/><stop offset="0.500" stop-color="#9ece80"/><stop offset="0.583" stop-color="#9fcf80"/><stop offset="0.667" stop-color="#a3d180"/><stop offset="0.750" stop-color="#abd580"/><stop offset="0.833" stop-color="#b9dc80"/><stop offset="0.917" stop-color="#d2e980"/><stop offset="1.000" stop-color="#f9fc80"/></linearGradient><linearGradient id="r44" gradientUnits="userSpaceOnUse" x1="260.2" x2="426.2" y1="0" y2="0"><stop offset="0.000" stop-color="#f8fb80"/><stop offset="0.083" stop-color="#d2e980"/><stop offset="0.167" stop-color="#bbdd80"/><stop offset="0.250" stop-color="#add680"/><stop offset="0.333" stop-color="#a5d280"/><stop offset="0.417" stop-color="#a2d080"/><stop offset="0.500" stop-color="#a0d080"/><stop offset="0.583" stop-color="#a2d080"/><stop offset="0.667" stop-color="#a5d280"/><stop offset="0.750" stop-color="#add680"/><stop offset="0.833" stop-color="#bbdd80"/><stop offset="0.917" stop-color="#d2e980"/><stop offset="1.000" stop-color="#f8fb80"/></linearGradient><linearGradient id="r45" gradientUnits="userSpaceOnUse" x1="260.4" x2="426.0" y1="0" y2="0"><stop offset="0.000" stop-color="#f5fa80"/><stop offset="0.083" stop-color="#d3e980"/><stop offset="0.167" stop-color="#bcde80"/><stop offset="0.250" stop-color="#afd780"/><stop offset="0.333" stop-color="#a8d380"/><stop offset="0.417" stop-color="#a4d280"/><stop offset="0.500" stop-color="#a3d180"/><stop offset="0.583" stop-color="#a4d280"/><stop offset="0.667" stop-color="#a8d380"/><stop offset="0.750" stop-color="#afd780"/><stop offset="0.833" stop-color="#bcde80"/><stop offset="0.917" stop-color="#d3e980"/><stop offset="1.000" stop-color="#f5fa80"/></linearGradient><linearGradient id="r46" gradientUnits="userSpaceOnUse" x1="260.6" x2="425.8" y1="0" y2="0"><stop offset="0.000" stop-color="#f3f980"/><stop offset="0.083" stop-color="#d3e980"/><stop offset="0.167" stop-color="#bdde80"/><stop offset="0.250" stop-color="#b1d880"/><stop offset="0.333" stop-color="#aad480"/><stop offset="0.417" stop-color="#a7d380"/><stop offset="0.500" stop-color="#a5d280"/><stop offset="0.583" stop-color="#a7d380"/><stop offset="0.667" stop-color="#aad480"/><stop offset="0.750" stop-color="#b1d880"/><stop offset="0.833" stop-color="#bdde80"/><stop offset="0.917" stop-color="#d3e980"/><stop offset="1.000" stop-color="#f3f980"/></linearGradient><linearGradient id="r47" gradientUnits="userSpaceOnUse" x1="260.9" x2="425.5" y1="0" y2="0"><stop offset="0.000" stop-color="#f0f880"/><stop offset="0.083" stop-color="#d2e980"/><stop offset="0.167" stop-color="#bedf80"/><stop offset="0.250" stop-color="#b2d980"/><stop offset="0.333" stop-color="#acd580"/><stop offset="0.417" stop-color="#a9d480"/><stop offset="0.500" stop-color="#a8d380"/><stop offset="0.583" stop-color="#a9d480"/><stop offset="0.667" stop-color="#acd580"/><stop offset="0.750" stop-color="#b2d980"/><stop offset="0.833" stop-color="#bedf80"/><stop offset="0.917" stop-color="#d2e980"/><stop offset="1.000" stop-color="#f0f880"/></linearGradient><linearGradient id="r48" gradientUnits="userSpaceOnUse" x1="261.2" x2="425.2" y1="0" y2="0"><stop offset="0.000" stop-color="#edf680"/><stop offset="0.083" stop-color="#d2e880"/><stop offset="0.167" stop-color="#bfdf80"/><stop offset="0.250" stop-color="#b4d980"/><stop offset="0.333" stop-color="#aed680"/><stop offset="0.417" stop-color="#abd580"/><stop offset="0.500" stop-color="#aad480"/><stop offset="0.583" stop-color="#abd580"/><stop offset="0.667" stop-color="#aed680"/><stop offset="0.750" stop-color="#b4d980"/><stop offset="0.833" stop-color="#bfdf80"/><stop offset="0.917" stop-color="#d2e880"/><stop offset="1.000" stop-color="#edf680"/></linearGradient><linearGradient id="r49" gradientUnits="userSpaceOnUse" x1="261.6" x2="424.8" y1="0" y2="0"><stop offset="0.000" stop-color="#eaf580"/><stop offset="0.083" stop-color="#d1e880"/><stop offset="0.167" stop-color="#bfdf80"/><stop offset="0.250" stop-color="#b5da80"/><stop offset="0.333" stop-color="#afd780"/><stop offset="0.417" stop-color="#acd680"/><stop offset="0.500" stop-color="#acd580"/><stop offset="0.583" stop-color="#acd680"/><stop offset="0.667" stop-color="#afd780"/><stop offset="0.750" stop-color="#b5da80"/><stop offset="0.833" stop-color="#bfdf80"/><stop offset="0.917" stop-color="#d1e880"/><stop offset="1.000" stop-color="#eaf580"/></linearGradient><linearGradient id="r50" gradientUnits="userSpaceOnUse" x1="262.0" x2="424.4" y1="0" y2="0"><stop offset="0.000" stop-color="#e7f380"/><stop offset="0.083" stop-color="#d0e880"/><stop offset="0.167" stop-color="#c0df80"/><stop offset="0.250" stop-color="#b6db80"/><stop offset="0.333" stop-color="#b1d880"/><stop offset="0.417" stop-color="#aed780"/><stop offset="0.500" stop-color="#add680"/><stop offset="0.583" stop-color="#aed780"/><stop offset="0.667" stop-color="#b1d880"/><stop offset="0.750" stop-color="#b6db80"/><stop offset="0.833" stop-color="#c0df80"/><stop offset="0.917" stop-color="#d0e880"/><stop offset="1.000" stop-color="#e7f380"/></linearGradient><linearGradient id="r51" gradientUnits="userSpaceOnUse" x1="262.5" x2="423.9" y1="0" y2="0"><stop offset="0.000" stop-color="#e4f180"/><stop offset="0.083" stop-color="#cfe780"/><stop offset="0.167" stop-color="#c0df80"/><stop offset="0.250" stop-color="#b7db80"/><stop offset="0.333" stop-color="#b2d880"/><stop offset="0.417" stop-color="#b0d780"/><stop offset="0.500" stop-color="#afd780"/><stop offset="0.583" stop-color="#b0d780"/><stop offset="0.667" stop-color="#b2d880"/><stop offset="0.750" stop-color="#b7db80"/><stop offset="0.833" stop-color="#c0df80"/><stop offset="0.917" stop-color="#cfe780"/><stop offset="1.000" stop-color="#e4f180"/></linearGradient><linearGradient id="r52" gradientUnits="userSpaceOnUse" x1="263.0" x2="423.4" y1="0" y2="0"><stop offset="0.000" stop-color="#e0f080"/><stop offset="0.083" stop-color="#cee780"/><stop offset="0.167" stop-color="#c0df80"/><stop offset="0.250" stop-color="#b8db80"/><stop offset="0.333" stop-color="#b3d980"/><stop offset="0.417" stop-color="#b1d880"/><stop offset="0.500" stop-color="#b0d880"/><stop offset="0.583" stop-color="#b1d880"/><stop offset="0.667" stop-color="#b3d980"/><stop offset="0.750" stop-color="#b8db80"/><stop offset="0.833" stop-color="#c0df80"/><stop offset="0.917" stop-color="#cee780"/><stop offset="1.000" stop-color="#e0f080"/></linearGradient><linearGradient id="r53" gradientUnits="userSpaceOnUse" x1="263.6" x2="422.8" y1="0" y2="0"><stop offset="0.000" stop-color="#dcee80"/><stop offset="0.083" stop-color="#cde680"/><stop offset="0.167" stop-color="#c0df80"/><stop offset="0.250" stop-color="#b8dc80"/><stop offset="0.333" stop-color="#b4d980"/><stop offset="0.417" stop-color="#b2d880"/><stop offset="0.500" stop-color="#b1d880"/><stop offset="0.583" stop-color="#b2d880"/><stop offset="0.667" stop-color="#b4d980"/><stop offset="0.750" stop-color="#b8dc80"/><stop offset="0.833" stop-color="#c0df80"/><stop offset="0.917" stop-color="#cde680"/><stop offset="1.000" stop-color="#dcee80"/></linearGradient><linearGradient id="r54" gradientUnits="userSpaceOnUse" x1="264.3" x2="422.1" y1="0" y2="0"><stop offset="0.000" stop-color="#d9ec80"/><stop offset="0.083" stop-color="#cbe580"/><stop offset="0.167" stop-color="#bfdf80"/><stop offset="0.250" stop-color="#b8dc80"/><stop offset="0.333" stop-color="#b5da80"/><stop offset="0.417" stop-color="#b3d980"/><stop offset="0.500" stop-color="#b2d980"/><stop offset="0.583" stop-color="#b3d980"/><stop offset="0.667" stop-color="#b5da80"/><stop offset="0.750" stop-color="#b8dc80"/><stop offset="0.833" stop-color="#bfdf80"/><stop offset="0.917" stop-color="#cbe580"/><stop offset="1.000" stop-color="#d9ec80"/></linearGradient><linearGradient id="r55" gradientUnits="userSpaceOnUse" x1="265.0" x2="421.4" y1="0" y2="0"><stop offset="0.000" stop-color="#d5ea80"/><stop offset="0.083" stop-color="#cae480"/><stop offset="0.167" stop-color="#bfdf80"/><stop offset="0.250" stop-color="#b9dc80"/><stop offset="0.333" stop-color="#b5da80"/><stop offset="0.417" stop-color="#b3d980"/><stop offset="0.500" stop-color="#b3d980"/><stop offset="0.583" stop-color="#b3d980"/><stop offset="0.667" stop-color="#b5da80"/><stop offset="0.750" stop-color="#b9dc80"/><stop offset="0.833" stop-color="#bfdf80"/><stop offset="0.917" stop-color="#cae480"/><stop offset="1.000" stop-color="#d5ea80"/></linearGradient><linearGradient id="r56" gradientUnits="userSpaceOnUse" x1="265.7" x2="420.7" y1="0" y2="0"><stop offset="0.000" stop-color="#d1e880"/><stop offset="0.083" stop-color="#c8e380"/><stop offset="0.167" stop-color="#bedf80"/><stop offset="0.250" stop-color="#b9dc80"/><stop offset="0.333" stop-color="#b6da80"/><stop offset="0.417" stop-color="#b4da80"/><stop offset="0.500" stop-color="#b4d980"/><stop offset="0.583" stop-color="#b4da80"/><stop offset="0.667" stop-color="#b6da80"/><stop offset="0.750" stop-color="#b9dc80"/><stop offset="0.833" stop-color="#bedf80"/><stop offset="0.917" stop-color="#c8e380"/><stop offset="1.000" stop-color="#d1e880"/></linearGradient><linearGradient id="r57" gradientUnits="userSpaceOnUse" x1="266.5" x2="419.9" y1="0" y2="0"><stop offset="0.000" stop-color="#cde680"/><stop offset="0.083" stop-color="#c6e280"/><stop offset="0.167" stop-color="#bdde80"/><stop offset="0.250" stop-color="#b8dc80"/><stop offset="0.333" stop-color="#b6da80"/><stop offset="0.417" stop-color="#b4da80"/><stop offset="0.500" stop-color="#b4da80"/><stop offset="0.583" stop-color="#b4da80"/><stop offset="0.667" stop-color="#b6da80"/><stop offset="0.750" stop-color="#b8dc80"/><stop offset="0.833" stop-color="#bdde80"/><stop offset="0.917" stop-color="#c6e280"/><stop offset="1.000" stop-color="#cde680"/></linearGradient><linearGradient id="r58" gradientUnits="userSpaceOnUse" x1="267.4" x2="419.0" y1="0" y2="0"><stop offset="0.000" stop-color="#c9e480"/><stop offset="0.083" stop-color="#c4e180"/><stop offset="0.167" stop-color="#bcde80"/><stop offset="0.250" stop-color="#b8dc80"/><stop offset="0.333" stop-color="#b6da80"/><stop offset="0.417" stop-color="#b5da80"/><stop offset="0.500" stop-color="#b4da80"/><stop offset="0.583" stop-color="#b5da80"/><stop offset="0.667" stop-color="#b6da80"/><stop offset="0.750" stop-color="#b8dc80"/><stop offset="0.833" stop-color="#bcde80"/><stop offset="0.917" stop-color="#c4e180"/><stop offset="1.000" stop-color="#c9e480"/></linearGradient><linearGradient id="r59" gradientUnits="userSpaceOnUse" x1="268.4" x2="418.0" y1="0" y2="0"><stop offset="0.000" stop-color="#c5e280"/><stop offset="0.083" stop-color="#c2e080"/><stop offset="0.167" stop-color="#bbdd80"/><stop offset="0.250" stop-color="#b8db80"/><stop offset="0.333" stop-color="#b6da80"/><stop offset="0.417" stop-color="#b5da80"/><stop offset="0.500" stop-color="#b4da80"/><stop offset="0.583" stop-color="#b5da80"/><stop offset="0.667" stop-color="#b6da80"/><stop offset="0.750" stop-color="#b8db80"/><stop offset="0.833" stop-color="#bbdd80"/><stop offset="0.917" stop-color="#c2e080"/><stop offset="1.000" stop-color="#c5e280"/></linearGradient><linearGradient id="r60" gradientUnits="userSpaceOnUse" x1="269.4" x2="417.0" y1="0" y2="0"><stop offset="0.000" stop-color="#c1e080"/><stop offset="0.083" stop-color="#c0df80"/><stop offset="0.167" stop-color="#badd80"/><stop offset="0.250" stop-color="#b7db80"/><stop offset="0.333" stop-color="#b5da80"/><stop offset="0.417" stop-color="#b5da80"/><stop offset="0.500" stop-color="#b4da80"/><stop offset="0.583" stop-color="#b5da80"/><stop offset="0.667" stop-color="#b5da80"/><stop offset="0.750" stop-color="#b7db80"/><stop offset="0.833" stop-color="#badd80"/><stop offset="0.917" stop-color="#c0df80"/><stop offset="1.000" stop-color="#c1e080"/></linearGradient><linearGradient id="r61" gradientUnits="userSpaceOnUse" x1="270.5" x2="415.9" y1="0" y2="0"><stop offset="0.000" stop-color="#bede80"/><stop offset="0.083" stop-color="#bdde80"/><stop offset="0.167" stop-color="#b9dc80"/><stop offset="0.250" stop-color="#b6db80"/><stop offset="0.333" stop-color="#b5da80"/><stop offset="0.417" stop-color="#b4da80"/><stop offset="0.500" stop-color="#b4da80"/><stop offset="0.583" stop-color="#b4da80"/><stop offset="0.667" stop-color="#b5da80"/><stop offset="0.750" stop-color="#b6db80"/><stop offset="0.833" stop-color="#b9dc80"/><stop offset="0.917" stop-color="#bdde80"/><stop offset="1.000" stop-color="#bede80"/></linearGradient><linearGradient id="r62" gradientUnits="userSpaceOnUse" x1="271.6" x2="414.8" y1="0" y2="0"><stop offset="0.000" stop-color="#badc80"/><stop offset="0.083" stop-color="#bbdd80"/><stop offset="0.167" stop-color="#b7db80"/><stop offset="0.250" stop-color="#b5da80"/><stop offset="0.333" stop-color="#b4da80"/><stop offset="0.417" stop-color="#b4d980"/><stop offset="0.500" stop-color="#b4d980"/><stop offset="0.583" stop-color="#b4d980"/><stop offset="0.667" stop-color="#b4da80"/><stop offset="0.750" stop-color="#b5da80"/><stop offset="0.833" stop-color="#b7db80"/><stop offset="0.917" stop-color="#bbdd80"/><stop offset="1.000" stop-color="#badc80"/></linearGradient><linearGradient id="r63" gradientUnits="userSpaceOnUse" x1="272.8" x2="413.6" y1="0" y2="0"><stop offset="0.000" stop-color="#b6db80"/><stop offset="0.083" stop-color="#b9dc80"/><stop offset="0.167" stop-color="#b6db80"/><stop offset="0.250" stop-color="#b4da80"/><stop offset="0.333" stop-color="#b4d980"/><stop offset="0.417" stop-color="#b3d980"/><stop offset="0.500" stop-color="#b3d980"/><stop offset="0.583" stop-color="#b3d980"/><stop offset="0.667" stop-color="#b4d980"/><stop offset="0.750" stop-color="#b4da80"/><stop offset="0.833" stop-color="#b6db80"/><stop offset="0.917" stop-color="#b9dc80"/><stop offset="1.000" stop-color="#b6db80"/></linearGradient><linearGradient id="r64" gradientUnits="userSpaceOnUse" x1="274.2" x2="412.2" y1="0" y2="0"><stop offset="0.000" stop-color="#b3d980"/><stop offset="0.083" stop-color="#b6db80"/><stop offset="0.167" stop-color="#b4da80"/><stop offset="0.250" stop-color="#b3d980"/><stop offset="0.333" stop-color="#b3d980"/><stop offset="0.417" stop-color="#b3d980"/><stop offset="0.500" stop-color="#b3d980"/><stop offset="0.583" stop-color="#b3d980"/><stop offset="0.667" stop-color="#b3d980"/><stop offset="0.750" stop-color="#b3d980"/><stop offset="0.833" stop-color="#b4da80"/><stop offset="0.917" stop-color="#b6db80"/><stop offset="1.000" stop-color="#b3d980"/></linearGradient><linearGradient id="r65" gradientUnits="userSpaceOnUse" x1="275.6" x2="410.8" y1="0" y2="0"><stop offset="0.000" stop-color="#afd780"/><stop offset="0.083" stop-color="#b4da80"/><stop offset="0.167" stop-color="#b3d980"/><stop offset="0.250" stop-color="#b2d980"/><stop offset="0.333" stop-color="#b2d880"/><stop offset="0.417" stop-color="#b2d880"/><stop offset="0.500" stop-color="#b2d880"/><stop offset="0.583" stop-color="#b2d880"/><stop offset="0.667" stop-color="#b2d880"/><stop offset="0.750" stop-color="#b2d980"/><stop offset="0.833" stop-color="#b3d980"/><stop offset="0.917" stop-color="#b4da80"/><stop offset="1.000" stop-color="#afd780"/></linearGradient><linearGradient id="r66" gradientUnits="userSpaceOnUse" x1="277.0" x2="409.4" y1="0" y2="0"><stop offset="0.000" stop-color="#acd680"/><stop offset="0.083" stop-color="#b2d880"/><stop offset="0.167" stop-color="#b1d880"/><stop offset="0.250" stop-color="#b1d880"/><stop offset="0.333" stop-color="#b1d880"/><stop offset="0.417" stop-color="#b1d880"/><stop offset="0.500" stop-color="#b1d880"/><stop offset="0.583" stop-color="#b1d880"/><stop offset="0.667" stop-color="#b1d880"/><stop offset="0.750" stop-color="#b1d880"/><stop offset="0.833" stop-color="#b1d880"/><stop offset="0.917" stop-color="#b2d880"/><stop offset="1.000" stop-color="#acd680"/></linearGradient><linearGradient id="r67" gradientUnits="userSpaceOnUse" x1="278.6" x2="407.8" y1="0" y2="0"><stop offset="0.000" stop-color="#a9d480"/><stop offset="0.083" stop-color="#afd780"/><stop offset="0.167" stop-color="#afd780"/><stop offset="0.250" stop-color="#b0d780"/><stop offset="0.333" stop-color="#b0d780"/><stop offset="0.417" stop-color="#b0d880"/><stop offset="0.500" stop-color="#b0d880"/><stop offset="0.583" stop-color="#b0d880"/><stop offset="0.667" stop-color="#b0d780"/><stop offset="0.750" stop-color="#b0d780"/><stop offset="0.833" stop-color="#afd780"/><stop offset="0.917" stop-color="#afd780"/><stop offset="1.000" stop-color="#a9d480"/></linearGradient><linearGradient id="r68" gradientUnits="userSpaceOnUse" x1="280.3" x2="406.1" y1="0" y2="0"><stop offset="0.000" stop-color="#a6d280"/><stop offset="0.083" stop-color="#add680"/><stop offset="0.167" stop-color="#aed680"/><stop offset="0.250" stop-color="#aed780"/><stop offset="0.333" stop-color="#afd780"/><stop offset="0.417" stop-color="#afd780"/><stop offset="0.500" stop-color="#afd780"/><stop offset="0.583" stop-color="#afd780"/><stop offset="0.667" stop-color="#afd780"/><stop offset="0.750" stop-color="#aed780"/><stop offset="0.833" stop-color="#aed680"/><stop offset="0.917" stop-color="#add680"/><stop offset="1.000" stop-color="#a6d280"/></linearGradient><linearGradient id="r69" gradientUnits="userSpaceOnUse" x1="282.1" x2="404.3" y1="0" y2="0"><stop offset="0.000" stop-color="#a3d180"/><stop offset="0.083" stop-color="#abd580"/><stop offset="0.167" stop-color="#acd580"/><stop offset="0.250" stop-color="#add680"/><stop offset="0.333" stop-color="#add680"/><stop offset="0.417" stop-color="#aed680"/><stop offset="0.500" stop-color="#aed680"/><stop offset="0.583" stop-color="#aed680"/><stop offset="0.667" stop-color="#add680"/><stop offset="0.750" stop-color="#add680"/><stop offset="0.833" stop-color="#acd580"/><stop offset="0.917" stop-color="#abd580"/><stop offset="1.000" stop-color="#a3d180"/></linearGradient><linearGradient id="r70" gradientUnits="userSpaceOnUse" x1="284.0" x2="402.4" y1="0" y2="0"><stop offset="0.000" stop-color="#a0d080"/><stop offset="0.083" stop-color="#a9d480"/><stop offset="0.167" stop-color="#aad580"/><stop offset="0.250" stop-color="#abd580"/><stop offset="0.333" stop-color="#acd580"/><stop offset="0.417" stop-color="#acd680"/><stop offset="0.500" stop-color="#acd680"/><stop offset="0.583" stop-color="#acd680"/><stop offset="0.667" stop-color="#acd580"/><stop offset="0.750" stop-color="#abd580"/><stop offset="0.833" stop-color="#aad580"/><stop offset="0.917" stop-color="#a9d480"/><stop offset="1.000" stop-color="#a0d080"/></linearGradient><linearGradient id="r71" gradientUnits="userSpaceOnUse" x1="286.1" x2="400.3" y1="0" y2="0"><stop offset="0.000" stop-color="#9ecf80"/><stop offset="0.083" stop-color="#a6d380"/><stop offset="0.167" stop-color="#a8d480"/><stop offset="0.250" stop-color="#aad480"/><stop offset="0.333" stop-color="#aad580"/><stop offset="0.417" stop-color="#abd580"/><stop offset="0.500" stop-color="#abd580"/><stop offset="0.583" stop-color="#abd580"/><stop offset="0.667" stop-color="#aad580"/><stop offset="0.750" stop-color="#aad480"/><stop offset="0.833" stop-color="#a8d480"/><stop offset="0.917" stop-color="#a6d380"/><stop offset="1.000" stop-color="#9ecf80"/></linearGradient><linearGradient id="r72" gradientUnits="userSpaceOnUse" x1="288.3" x2="398.1" y1="0" y2="0"><stop offset="0.000" stop-color="#9ccd80"/><stop offset="0.083" stop-color="#a4d280"/><stop offset="0.167" stop-color="#a7d380"/><stop offset="0.250" stop-color="#a8d380"/><stop offset="0.333" stop-color="#a9d480"/><stop offset="0.417" stop-color="#a9d480"/><stop offset="0.500" stop-color="#aad480"/><stop offset="0.583" stop-color="#a9d480"/><stop offset="0.667" stop-color="#a9d480"/><stop offset="0.750" stop-color="#a8d380"/><stop offset="0.833" stop-color="#a7d380"/><stop offset="0.917" stop-color="#a4d280"/><stop offset="1.000" stop-color="#9ccd80"/></linearGradient><linearGradient id="r73" gradientUnits="userSpaceOnUse" x1="290.7" x2="395.7" y1="0" y2="0"><stop offset="0.000" stop-color="#9acc80"/><stop offset="0.083" stop-color="#a2d180"/><stop offset="0.167" stop-color="#a5d280"/><stop offset="0.250" stop-color="#a6d380"/><stop offset="0.333" stop-color="#a7d380"/><stop offset="0.417" stop-color="#a8d380"/><stop offset="0.500" stop-color="#a8d380"/><stop offset="0.583" stop-color="#a8d380"/><stop offset="0.667" stop-color="#a7d380"/><stop offset="0.750" stop-color="#a6d380"/><stop offset="0.833" stop-color="#a5d280"/><stop offset="0.917" stop-color="#a2d180"/><stop offset="1.000" stop-color="#9acc80"/></linearGradient><linearGradient id="r74" gradientUnits="userSpaceOnUse" x1="293.2" x2="393.2" y1="0" y2="0"><stop offset="0.000" stop-color="#97cb80"/><stop offset="0.083" stop-color="#a0cf80"/><stop offset="0.167" stop-color="#a2d180"/><stop offset="0.250" stop-color="#a4d180"/><stop offset="0.333" stop-color="#a5d280"/><stop offset="0.417" stop-color="#a6d280"/><stop offset="0.500" stop-color="#a6d280"/><stop offset="0.583" stop-color="#a6d280"/><stop offset="0.667" stop-color="#a5d280"/><stop offset="0.750" stop-color="#a4d180"/><stop offset="0.833" stop-color="#a2d180"/><stop offset="0.917" stop-color="#a0cf80"/><stop offset="1.000" stop-color="#97cb80"/></linearGradient><linearGradient id="r75" gradientUnits="userSpaceOnUse" x1="296.0" x2="390.4" y1="0" y2="0"><stop offset="0.000" stop-color="#94ca80"/><stop offset="0.083" stop-color="#9dce80"/><stop offset="0.167" stop-color="#a0cf80"/><stop offset="0.250" stop-color="#a1d080"/><stop offset="0.333" stop-color="#a3d180"/><stop offset="0.417" stop-color="#a3d180"/><stop offset="0.500" stop-color="#a4d180"/><stop offset="0.583" stop-color="#a3d180"/><stop offset="0.667" stop-color="#a3d180"/><stop offset="0.750" stop-color="#a1d080"/><stop offset="0.833" stop-color="#a0cf80"/><stop offset="0.917" stop-color="#9dce80"/><stop offset="1.000" stop-color="#94ca80"/></linearGradient><linearGradient id="r76" gradientUnits="userSpaceOnUse" x1="299.1" x2="387.3" y1="0" y2="0"><stop offset="0.000" stop-color="#91c880"/><stop offset="0.083" stop-color="#9acd80"/><stop offset="0.167" stop-color="#9dce80"/><stop offset="0.250" stop-color="#9fcf80"/><stop offset="0.333" stop-color="#a0cf80"/><stop offset="0.417" stop-color="#a1d080"/><stop offset="0.500" stop-color="#a1d080"/><stop offset="0.583" stop-color="#a1d080"/><stop offset="0.667" stop-color="#a0cf80"/><stop offset="0.750" stop-color="#9fcf80"/><stop offset="0.833" stop-color="#9dce80"/><stop offset="0.917" stop-color="#9acd80"/><stop offset="1.000" stop-color="#91c880"/></linearGradient><linearGradient id="r77" gradientUnits="userSpaceOnUse" x1="302.5" x2="383.9" y1="0" y2="0"><stop offset="0.000" stop-color="#8fc780"/><stop offset="0.083" stop-color="#97cb80"/><stop offset="0.167" stop-color="#9acc80"/><stop offset="0.250" stop-color="#9ccd80"/><stop offset="0.333" stop-color="#9dce80"/><stop offset="0.417" stop-color="#9ece80"/><stop offset="0.500" stop-color="#9ece80"/><stop offset="0.583" stop-color="#9ece80"/><stop offset="0.667" stop-color="#9dce80"/><stop offset="0.750" stop-color="#9ccd80"/><stop offset="0.833" stop-color="#9acc80"/><stop offset="0.917" stop-color="#97cb80"/><stop offset="1.000" stop-color="#8fc780"/></linearGradient><linearGradient id="r78" gradientUnits="userSpaceOnUse" x1="306.3" x2="380.1" y1="0" y2="0"><stop offset="0.000" stop-color="#8cc580"/><stop offset="0.083" stop-color="#94c980"/><stop offset="0.167" stop-color="#97cb80"/><stop offset="0.250" stop-color="#98cc80"/><stop offset="0.333" stop-color="#9acc80"/><stop offset="0.417" stop-color="#9acd80"/><stop offset="0.500" stop-color="#9bcd80"/><stop offset="0.583" stop-color="#9acd80"/><stop offset="0.667" stop-color="#9acc80"/><stop offset="0.750" stop-color="#98cc80"/><stop offset="0.833" stop-color="#97cb80"/><stop offset="0.917" stop-color="#94c980"/><stop offset="1.000" stop-color="#8cc580"/></linearGradient><linearGradient id="r79" gradientUnits="userSpaceOnUse" x1="310.6" x2="375.8" y1="0" y2="0"><stop offset="0.000" stop-color="#89c480"/><stop offset="0.083" stop-color="#91c880"/><stop offset="0.167" stop-color="#93c980"/><stop offset="0.250" stop-color="#95ca80"/><stop offset="0.333" stop-color="#96ca80"/><stop offset="0.417" stop-color="#97cb80"/><stop offset="0.500" stop-color="#97cb80"/><stop offset="0.583" stop-color="#97cb80"/><stop offset="0.667" stop-color="#96ca80"/><stop offset="0.750" stop-color="#95ca80"/><stop offset="0.833" stop-color="#93c980"/><stop offset="0.917" stop-color="#91c880"/><stop offset="1.000" stop-color="#89c480"/></linearGradient><linearGradient id="r80" gradientUnits="userSpaceOnUse" x1="315.9" x2="370.5" y1="0" y2="0"><stop offset="0.000" stop-color="#87c380"/><stop offset="0.083" stop-color="#8dc680"/><stop offset="0.167" stop-color="#8fc780"/><stop offset="0.250" stop-color="#91c880"/><stop offset="0.333" stop-color="#92c880"/><stop offset="0.417" stop-color="#92c980"/><stop offset="0.500" stop-color="#92c980"/><stop offset="0.583" stop-color="#92c980"/><stop offset="0.667" stop-color="#92c880"/><stop offset="0.750" stop-color="#91c880"/><stop offset="0.833" stop-color="#8fc780"/><stop offset="0.917" stop-color="#8dc680"/><stop offset="1.000" stop-color="#87c380"/></linearGradient><linearGradient id="r81" gradientUnits="userSpaceOnUse" x1="322.5" x2="363.9" y1="0" y2="0"><stop offset="0.000" stop-color="#84c280"/><stop offset="0.083" stop-color="#89c480"/><stop offset="0.167" stop-color="#8bc580"/><stop offset="0.250" stop-color="#8cc580"/><stop offset="0.333" stop-color="#8dc680"/><stop offset="0.417" stop-color="#8dc680"/><stop offset="0.500" stop-color="#8dc680"/><stop offset="0.583" stop-color="#8dc680"/><stop offset="0.667" stop-color="#8dc680"/><stop offset="0.750" stop-color="#8cc580"/><stop offset="0.833" stop-color="#8bc580"/><stop offset="0.917" stop-color="#89c480"/><stop offset="1.000" stop-color="#84c280"/></linearGradient><linearGradient id="r82" gradientUnits="userSpaceOnUse" x1="333.2" x2="353.2" y1="0" y2="0"><stop offset="0.000" stop-color="#82c080"/><stop offset="0.083" stop-color="#84c280"/><stop offset="0.167" stop-color="#85c280"/><stop offset="0.250" stop-color="#85c280"/><stop offset="0.333" stop-color="#86c280"/><stop offset="0.417" stop-color="#86c380"/><stop offset="0.500" stop-color="#86c380"/><stop offset="0.583" stop-color="#86c380"/><stop offset="0.667" stop-color="#86c280"/><stop offset="0.750" stop-color="#85c280"/><stop offset="0.833" stop-color="#85c280"/><stop offset="0.917" stop-color="#84c280"/><stop offset="1.000" stop-color="#82c080"/></linearGradient></defs>
<g clip-path="url(#c2)"><rect x="259.0" y="24.70" width="168.4" height="2.60" fill="url(#r0)"/><rect x="259.0" y="26.70" width="168.4" height="2.60" fill="url(#r1)"/><rect x="259.0" y="28.70" width="168.4" height="2.60" fill="url(#r2)"/><rect x="259.0" y="30.70" width="168.4" height="2.60" fill="url(#r3)"/><rect x="259.0" y="32.70" width="168.4" height="2.60" fill="url(#r4)"/><rect x="259.0" y="34.70" width="168.4" height="2.60" fill="url(#r5)"/><rect x="259.0" y="36.70" width="168.4" height="2.60" fill="url(#r6)"/><rect x="259.0" y="38.70" width="168.4" height="2.60" fill="url(#r7)"/><rect x="259.0" y="40.70" width="168.4" height="2.60" fill="url(#r8)"/><rect x="259.0" y="42.70" width="168.4" height="2.60" fill="url(#r9)"/><rect x="259.0" y="44.70" width="168.4" height="2.60" fill="url(#r10)"/><rect x="259.0" y="46.70" width="168.4" height="2.60" fill="url(#r11)"/><rect x="259.0" y="48.70" width="168.4" height="2.60" fill="url(#r12)"/><rect x="259.0" y="50.70" width="168.4" height="2.60" fill="url(#r13)"/><rect x="259.0" y="52.70" width="168.4" height="2.60" fill="url(#r14)"/><rect x="259.0" y="54.70" width="168.4" height="2.60" fill="url(#r15)"/><rect x="259.0" y="56.70" width="168.4" height="2.60" fill="url(#r16)"/><rect x="259.0" y="58.70" width="168.4" height="2.60" fill="url(#r17)"/><rect x="259.0" y="60.70" width="168.4" height="2.60" fill="url(#r18)"/><rect x="259.0" y="62.70" width="168.4" height="2.60" fill="url(#r19)"/><rect x="259.0" y="64.70" width="168.4" height="2.60" fill="url(#r20)"/><rect x="259.0" y="66.70" width="168.4" height="2.60" fill="url(#r21)"/><rect x="259.0" y="68.70" width="168.4" height="2.60" fill="url(#r22)"/><rect x="259.0" y="70.70" width="168.4" height="2.60" fill="url(#r23)"/><rect x="259.0" y="72.70" width="168.4" height="2.60" fill="url(#r24)"/><rect x="259.0" y="74.70" width="168.4" height="2.60" fill="url(#r25)"/><rect x="259.0" y="76.70" width="168.4" height="2.60" fill="url(#r26)"/><rect x="259.0" y="78.70" width="168.4" height="2.60" fill="url(#r27)"/><rect x="259.0" y="80.70" width="168.4" height="2.60" fill="url(#r28)"/><rect x="259.0" y="82.70" width="168.4" height="2.60" fill="url(#r29)"/><rect x="259.0" y="84.70" width="168.4" height="2.60" fill="url(#r30)"/><rect x="259.0" y="86.70" width="168.4" height="2.60" fill="url(#r31)"/><rect x="259.0" y="88.70" width="168.4" height="2.60" fill="url(#r32)"/><rect x="259.0" y="90.70" width="168.4" height="2.60" fill="url(#r33)"/><rect x="259.0" y="92.70" width="168.4" height="2.60" fill="url(#r34)"/><rect x="259.0" y="94.70" width="168.4" height="2.60" fill="url(#r35)"/><rect x="259.0" y="96.70" width="168.4" height="2.60" fill="url(#r36)"/><rect x="259.0" y="98.70" width="168.4" height="2.60" fill="url(#r37)"/><rect x="259.0" y="100.70" width="168.4" height="2.60" fill="url(#r38)"/><rect x="259.0" y="102.70" width="168.4" height="2.60" fill="url(#r39)"/><rect x="259.0" y="104.70" width="168.4" height="2.60" fill="url(#r40)"/><rect x="259.0" y="106.70" width="168.4" height="2.60" fill="url(#r41)"/><rect x="259.0" y="108.70" width="168.4" height="2.60" fill="url(#r42)"/><rect x="259.0" y="110.70" width="168.4" height="2.60" fill="url(#r43)"/><rect x="259.0" y="112.70" width="168.4" height="2.60" fill="url(#r44)"/><rect x="259.0" y="114.70" width="168.4" height="2.60" fill="url(#r45)"/><rect x="259.0" y="116.70" width="168.4" height="2.60" fill="url(#r46)"/><rect x="259.0" y="118.70" width="168.4" height="2.60" fill="url(#r47)"/><rect x="259.0" y="120.70" width="168.4" height="2.60" fill="url(#r48)"/><rect x="259.0" y="122.70" width="168.4" height="2.60" fill="url(#r49)"/><rect x="259.0" y="124.70" width="168.4" height="2.60" fill="url(#r50)"/><rect x="259.0" y="126.70" width="168.4" height="2.60" fill="url(#r51)"/><rect x="259.0" y="128.70" width="168.4" height="2.60" fill="url(#r52)"/><rect x="259.0" y="130.70" width="168.4" height="2.60" fill="url(#r53)"/><rect x="259.0" y="132.70" width="168.4" height="2.60" fill="url(#r54)"/><rect x="259.0" y="134.70" width="168.4" height="2.60" fill="url(#r55)"/><rect x="259.0" y="136.70" width="168.4" height="2.60" fill="url(#r56)"/><rect x="259.0" y="138.70" width="168.4" height="2.60" fill="url(#r57)"/><rect x="259.0" y="140.70" width="168.4" height="2.60" fill="url(#r58)"/><rect x="259.0" y="142.70" width="168.4" height="2.60" fill="url(#r59)"/><rect x="259.0" y="144.70" width="168.4" height="2.60" fill="url(#r60)"/><rect x="259.0" y="146.70" width="168.4" height="2.60" fill="url(#r61)"/><rect x="259.0" y="148.70" width="168.4" height="2.60" fill="url(#r62)"/><rect x="259.0" y="150.70" width="168.4" height="2.60" fill="url(#r63)"/><rect x="259.0" y="152.70" width="168.4" height="2.60" fill="url(#r64)"/><rect x="259.0" y="154.70" width="168.4" height="2.60" fill="url(#r65)"/><rect x="259.0" y="156.70" width="168.4" height="2.60" fill="url(#r66)"/><rect x="259.0" y="158.70" width="168.4" height="2.60" fill="url(#r67)"/><rect x="259.0" y="160.70" width="168.4" height="2.60" fill="url(#r68)"/><rect x="259.0" y="162.70" width="168.4" height="2.60" fill="url(#r69)"/><rect x="259.0" y="164.70" width="168.4" height="2.60" fill="url(#r70)"/><rect x="259.0" y="166.70" width="168.4" height="2.60" fill="url(#r71)"/><rect x="259.0" y="168.70" width="168.4" height="2.60" fill="url(#r72)"/><rect x="259.0" y="170.70" width="168.4" height="2.60" fill="url(#r73)"/><rect x="259.0" y="172.70" width="168.4" height="2.60" fill="url(#r74)"/><rect x="259.0" y="174.70" width="168.4" height="2.60" fill="url(#r75)"/><rect x="259.0" y="176.70" width="168.4" height="2.60" fill="url(#r76)"/><rect x="259.0" y="178.70" width="168.4" height="2.60" fill="url(#r77)"/><rect x="259.0" y="180.70" width="168.4" height="2.60" fill="url(#r78)"/><rect x="259.0" y="182.70" width="168.4" height="2.60" fill="url(#r79)"/><rect x="259.0" y="184.70" width="168.4" height="2.60" fill="url(#r80)"/><rect x="259.0" y="186.70" width="168.4" height="2.60" fill="url(#r81)"/><rect x="259.0" y="188.70" width="168.4" height="2.60" fill="url(#r82)"/></g>
<ellipse cx="345" cy="36" rx="6.3" ry="1.5" fill="#2d8a63" opacity="0.8"/>
<ellipse cx="343.5" cy="180.4" rx="6.5" ry="1.3" fill="#6fb063" opacity="0.8"/>
<ellipse cx="343.6" cy="117.0" rx="82.9" ry="27.2" fill="none" stroke="#ed7d31" stroke-width="0.9" stroke-dasharray="3 2.2" opacity="0.8"/>
<ellipse cx="343.5" cy="57.0" rx="61.0" ry="15.5" fill="none" stroke="#ed7d31" stroke-width="0.9" stroke-dasharray="3 2.2" opacity="0.8"/>
<line x1="342.9" y1="16.7" x2="342.9" y2="190.0" stroke="#5b9bd5" stroke-width="2.8" stroke-dasharray="7.8 2.8"/>
<polygon points="342.9,9.7 347.2,17.9 338.6,17.9" fill="#5b9bd5"/>
<line x1="442.4" y1="116.4" x2="261.0" y2="115.0" stroke="#5b9bd5" stroke-width="2.8" stroke-dasharray="7.8 2.8"/>
<polygon points="449.4,116.4 441.2,120.7 441.2,112.1" fill="#5b9bd5"/>
<line x1="270.1" y1="162.6" x2="376.7" y2="92.3" stroke="#5b9bd5" stroke-width="2.8" stroke-dasharray="7.8 2.8"/>
<polygon points="264.3,166.5 268.8,158.4 273.5,165.6" fill="#5b9bd5"/>
<line x1="343.1" y1="114.5" x2="316.7" y2="77.8" stroke="#000" stroke-width="3.0"/>
<polygon points="311.5,70.5 324.2,77.4 314.0,84.7" fill="#000"/>
<circle cx="343.1" cy="114.5" r="4.9" fill="#000"/>
<text x="313.5" y="57" font-family="'Liberation Serif', serif" font-size="20.5" font-style="italic">ϕ</text>
<path d="M298.5 65.3Q315.5 67.2 332.5 69.0" fill="none" stroke="#ed7d31" stroke-width="2.2"/>
<polygon points="298.5,65.3 307.5,62.1 305.3,66.0 306.6,70.4" fill="#ed7d31"/>
<polygon points="332.5,69.0 323.5,72.2 325.7,68.3 324.4,63.9" fill="#ed7d31"/>
<text x="351.3" y="17.6" font-family="'Liberation Serif', serif" font-size="21.3">Ω<tspan font-style="italic" font-size="12.3" dx="1" dy="5">z</tspan></text>
<text x="433.6" y="139.7" font-family="'Liberation Serif', serif" font-size="21.3">Ω<tspan font-style="italic" font-size="12.3" dx="1" dy="5">y</tspan></text>
<text x="252.3" y="184.5" font-family="'Liberation Serif', serif" font-size="21.3">Ω<tspan font-style="italic" font-size="12.3" dx="1" dy="5">x</tspan></text>
<defs><radialGradient id="g3" cx="0.5" cy="0.5" r="0.5"><stop offset="0" stop-color="#95d384"/><stop offset="0.8" stop-color="#90cf80"/><stop offset="1" stop-color="#86c877"/></radialGradient></defs>
<ellipse cx="555" cy="109.7" rx="84" ry="83" fill="url(#g3)"/>
<ellipse cx="555.0" cy="118.8" rx="82.2" ry="25.4" fill="none" stroke="#ed7d31" stroke-width="0.9" stroke-dasharray="3 2.2" opacity="0.8"/>
<ellipse cx="554.6" cy="109.7" rx="37.5" ry="83.0" fill="none" stroke="#ed7d31" stroke-width="0.9" stroke-dasharray="3 2.2" opacity="0.8"/>
<ellipse cx="556.5" cy="62.0" rx="62.0" ry="15.5" fill="none" stroke="#ed7d31" stroke-width="0.9" stroke-dasharray="3 2.2" opacity="0.8"/>
<line x1="556.9" y1="20.7" x2="556.9" y2="192.5" stroke="#5b9bd5" stroke-width="2.8" stroke-dasharray="7.8 2.8"/>
<polygon points="556.9,13.7 561.2,21.9 552.6,21.9" fill="#5b9bd5"/>
<line x1="655.6" y1="120.0" x2="473.0" y2="118.7" stroke="#5b9bd5" stroke-width="2.8" stroke-dasharray="7.8 2.8"/>
<polygon points="662.6,120.0 654.4,124.3 654.4,115.7" fill="#5b9bd5"/>
<line x1="483.8" y1="168.5" x2="592.0" y2="96.8" stroke="#5b9bd5" stroke-width="2.8" stroke-dasharray="7.8 2.8"/>
<polygon points="478.0,172.4 482.5,164.3 487.2,171.5" fill="#5b9bd5"/>
<line x1="556.9" y1="118.7" x2="531.0" y2="83.3" stroke="#000" stroke-width="3.0"/>
<polygon points="525.7,76.0 538.4,82.8 528.3,90.2" fill="#000"/>
<circle cx="556.9" cy="118.7" r="4.9" fill="#000"/>
<path d="M504.5 67.3Q520.9 69.2 537.3 71.1" fill="none" stroke="#ed7d31" stroke-width="2.2"/>
<polygon points="504.5,67.3 513.5,64.1 511.3,68.1 512.6,72.5" fill="#ed7d31"/>
<polygon points="537.3,71.1 528.3,74.3 530.5,70.3 529.2,65.9" fill="#ed7d31"/>
<path d="M526.4 57.2Q522.2 72.8 518.1 88.3" fill="none" stroke="#ed7d31" stroke-width="2.2"/>
<polygon points="526.4,57.2 528.2,66.6 524.6,63.8 520.1,64.4" fill="#ed7d31"/>
<polygon points="518.1,88.3 516.3,78.9 519.9,81.7 524.4,81.1" fill="#ed7d31"/>
<text x="501" y="92.6" font-family="'Liberation Serif', serif" font-size="20.5" font-style="italic">θ</text>
<text x="540.5" y="69" font-family="'Liberation Serif', serif" font-size="20.5" font-style="italic">ϕ</text>
<text x="561.5" y="15.6" font-family="'Liberation Serif', serif" font-size="21.3">Ω<tspan font-style="italic" font-size="12.3" dx="1" dy="5">z</tspan></text>
<text x="648.0" y="140.2" font-family="'Liberation Serif', serif" font-size="21.3">Ω<tspan font-style="italic" font-size="12.3" dx="1" dy="5">y</tspan></text>
<text x="463.4" y="190.8" font-family="'Liberation Serif', serif" font-size="21.3">Ω<tspan font-style="italic" font-size="12.3" dx="1" dy="5">x</tspan></text>
<text x="6" y="20.8" font-family="'Liberation Serif', serif" font-size="24.5">(a)</text>
<text x="6" y="230.5" font-family="'Liberation Serif', serif" font-size="24.5">(b)</text>
<defs><linearGradient id="cb" x1="0" x2="1" y1="0" y2="0"><stop offset="0.0000" stop-color="#3e26a8"/><stop offset="0.0476" stop-color="#4332cb"/><stop offset="0.0952" stop-color="#4741e5"/><stop offset="0.1429" stop-color="#4852f4"/><stop offset="0.1905" stop-color="#4563fd"/><stop offset="0.2381" stop-color="#3875fe"/><stop offset="0.2857" stop-color="#2e87f7"/><stop offset="0.3333" stop-color="#2797eb"/><stop offset="0.3810" stop-color="#20a5e3"/><stop offset="0.4286" stop-color="#12b1d6"/><stop offset="0.4762" stop-color="#02bac3"/><stop offset="0.5238" stop-color="#24c1ae"/><stop offset="0.5714" stop-color="#37c897"/><stop offset="0.6190" stop-color="#57cc7a"/><stop offset="0.6667" stop-color="#81cc59"/><stop offset="0.7143" stop-color="#abc739"/><stop offset="0.7619" stop-color="#d1bf27"/><stop offset="0.8095" stop-color="#f0ba36"/><stop offset="0.8571" stop-color="#fec338"/><stop offset="0.9048" stop-color="#fad62d"/><stop offset="0.9524" stop-color="#f5e924"/><stop offset="1.0000" stop-color="#f9fb15"/></linearGradient></defs>
<rect x="65.6" y="223.8" width="233.0" height="11.8" fill="url(#cb)" stroke="#4a4a4a" stroke-width="0.6"/>
<text x="52" y="249.8" font-family="'Liberation Serif', serif" font-size="18.5">0</text>
<text x="300.3" y="251.5" font-family="'Liberation Serif', serif" font-size="18.5">1</text>
<text font-family="'Liberation Serif', serif" font-size="22.5" y="229.5"><tspan x="302" font-style="italic">n</tspan><tspan x="313" dy="6.6" font-size="14">+</tspan><tspan x="324" dy="-5.6" font-size="25">(</tspan><tspan x="332.3" dy="-1" font-style="italic">ω</tspan><tspan x="348.5">,</tspan><tspan x="354.5" font-style="italic">t</tspan><tspan x="362.8" dy="1" font-size="25">)</tspan></text>
<g shape-rendering="crispEdges">
<rect x="51.30" y="259.90" width="144.00" height="165.80" fill="#4537d5"/>
<path fill="#422ec0" d="M62.8 293.06h2.9v5.58h-2.9zM163.6 293.06h2.9v5.58h-2.9zM106.0 298.59h2.9v5.58h-2.9zM129.1 298.59h2.9v5.58h-2.9zM134.8 320.69h2.9v5.58h-2.9zM180.9 320.69h2.9v5.58h-2.9zM51.3 420.17h2.9v5.58h-2.9z"/>
<path fill="#4332cb" d="M65.7 270.95h2.9v5.58h-2.9zM83.0 276.48h2.9v5.58h-2.9zM143.5 276.48h2.9v5.58h-2.9zM54.2 282.01h2.9v5.58h-2.9zM71.5 287.53h2.9v5.58h-2.9zM126.2 287.53h2.9v5.58h-2.9zM163.6 287.53h2.9v5.58h-2.9zM180.9 287.53h2.9v5.58h-2.9zM65.7 293.06h2.9v5.58h-2.9zM91.6 293.06h2.9v5.58h-2.9zM114.7 293.06h2.9v5.58h-2.9zM123.3 293.06h2.9v5.58h-2.9zM129.1 293.06h2.9v5.58h-2.9zM143.5 293.06h2.9v5.58h-2.9zM146.3 293.06h2.9v5.58h-2.9zM169.4 293.06h2.9v5.58h-2.9zM178.0 293.06h2.9v5.58h-2.9zM183.8 293.06h2.9v5.58h-2.9zM129.1 309.64h2.9v5.58h-2.9zM114.7 315.17h2.9v5.58h-2.9zM123.3 315.17h2.9v5.58h-2.9zM149.2 315.17h2.9v5.58h-2.9zM175.1 315.17h2.9v5.58h-2.9zM71.5 320.69h2.9v5.58h-2.9zM129.1 320.69h2.9v5.58h-2.9zM137.7 320.69h2.9v5.58h-2.9zM152.1 320.69h2.9v5.58h-2.9zM163.6 320.69h2.9v5.58h-2.9zM65.7 326.22h2.9v5.58h-2.9zM175.1 337.27h2.9v5.58h-2.9zM126.2 342.80h2.9v5.58h-2.9zM155.0 342.80h2.9v5.58h-2.9zM155.0 348.33h2.9v5.58h-2.9zM178.0 348.33h2.9v5.58h-2.9zM180.9 348.33h2.9v5.58h-2.9zM103.1 353.85h2.9v5.58h-2.9zM71.5 364.91h2.9v5.58h-2.9zM123.3 364.91h2.9v5.58h-2.9zM183.8 364.91h2.9v5.58h-2.9zM189.5 364.91h2.9v5.58h-2.9z"/>
<path fill="#463cde" d="M59.9 259.90h2.9v5.58h-2.9zM62.8 259.90h2.9v5.58h-2.9zM65.7 259.90h2.9v5.58h-2.9zM91.6 259.90h2.9v5.58h-2.9zM94.5 259.90h2.9v5.58h-2.9zM106.0 259.90h2.9v5.58h-2.9zM123.3 259.90h2.9v5.58h-2.9zM134.8 259.90h2.9v5.58h-2.9zM137.7 259.90h2.9v5.58h-2.9zM169.4 259.90h2.9v5.58h-2.9zM178.0 259.90h2.9v5.58h-2.9zM51.3 265.43h2.9v5.58h-2.9zM54.2 265.43h2.9v5.58h-2.9zM57.1 265.43h2.9v5.58h-2.9zM85.9 265.43h2.9v5.58h-2.9zM97.4 265.43h2.9v5.58h-2.9zM100.3 265.43h2.9v5.58h-2.9zM103.1 265.43h2.9v5.58h-2.9zM114.7 265.43h2.9v5.58h-2.9zM129.1 265.43h2.9v5.58h-2.9zM149.2 265.43h2.9v5.58h-2.9zM160.7 265.43h2.9v5.58h-2.9zM163.6 265.43h2.9v5.58h-2.9zM166.5 265.43h2.9v5.58h-2.9zM169.4 265.43h2.9v5.58h-2.9zM172.3 265.43h2.9v5.58h-2.9zM180.9 265.43h2.9v5.58h-2.9zM51.3 270.95h2.9v5.58h-2.9zM62.8 270.95h2.9v5.58h-2.9zM80.1 270.95h2.9v5.58h-2.9zM88.7 270.95h2.9v5.58h-2.9zM106.0 270.95h2.9v5.58h-2.9zM117.5 270.95h2.9v5.58h-2.9zM120.4 270.95h2.9v5.58h-2.9zM126.2 270.95h2.9v5.58h-2.9zM129.1 270.95h2.9v5.58h-2.9zM131.9 270.95h2.9v5.58h-2.9zM134.8 270.95h2.9v5.58h-2.9zM143.5 270.95h2.9v5.58h-2.9zM146.3 270.95h2.9v5.58h-2.9zM149.2 270.95h2.9v5.58h-2.9zM152.1 270.95h2.9v5.58h-2.9zM155.0 270.95h2.9v5.58h-2.9zM172.3 270.95h2.9v5.58h-2.9zM175.1 270.95h2.9v5.58h-2.9zM180.9 270.95h2.9v5.58h-2.9zM189.5 270.95h2.9v5.58h-2.9zM54.2 276.48h2.9v5.58h-2.9zM71.5 276.48h2.9v5.58h-2.9zM80.1 276.48h2.9v5.58h-2.9zM88.7 276.48h2.9v5.58h-2.9zM100.3 276.48h2.9v5.58h-2.9zM103.1 276.48h2.9v5.58h-2.9zM111.8 276.48h2.9v5.58h-2.9zM114.7 276.48h2.9v5.58h-2.9zM120.4 276.48h2.9v5.58h-2.9zM126.2 276.48h2.9v5.58h-2.9zM152.1 276.48h2.9v5.58h-2.9zM155.0 276.48h2.9v5.58h-2.9zM175.1 276.48h2.9v5.58h-2.9zM178.0 276.48h2.9v5.58h-2.9zM183.8 276.48h2.9v5.58h-2.9zM51.3 282.01h2.9v5.58h-2.9zM59.9 282.01h2.9v5.58h-2.9zM65.7 282.01h2.9v5.58h-2.9zM74.3 282.01h2.9v5.58h-2.9zM83.0 282.01h2.9v5.58h-2.9zM91.6 282.01h2.9v5.58h-2.9zM100.3 282.01h2.9v5.58h-2.9zM111.8 282.01h2.9v5.58h-2.9zM123.3 282.01h2.9v5.58h-2.9zM126.2 282.01h2.9v5.58h-2.9zM131.9 282.01h2.9v5.58h-2.9zM157.9 282.01h2.9v5.58h-2.9zM160.7 282.01h2.9v5.58h-2.9zM169.4 282.01h2.9v5.58h-2.9zM178.0 282.01h2.9v5.58h-2.9zM180.9 282.01h2.9v5.58h-2.9zM192.4 282.01h2.9v5.58h-2.9zM51.3 287.53h2.9v5.58h-2.9zM54.2 287.53h2.9v5.58h-2.9zM57.1 287.53h2.9v5.58h-2.9zM62.8 287.53h2.9v5.58h-2.9zM68.6 287.53h2.9v5.58h-2.9zM114.7 287.53h2.9v5.58h-2.9zM120.4 287.53h2.9v5.58h-2.9zM123.3 287.53h2.9v5.58h-2.9zM129.1 287.53h2.9v5.58h-2.9zM134.8 287.53h2.9v5.58h-2.9zM155.0 287.53h2.9v5.58h-2.9zM160.7 287.53h2.9v5.58h-2.9zM54.2 293.06h2.9v5.58h-2.9zM57.1 293.06h2.9v5.58h-2.9zM68.6 293.06h2.9v5.58h-2.9zM77.2 293.06h2.9v5.58h-2.9zM80.1 293.06h2.9v5.58h-2.9zM94.5 293.06h2.9v5.58h-2.9zM97.4 293.06h2.9v5.58h-2.9zM106.0 293.06h2.9v5.58h-2.9zM108.9 293.06h2.9v5.58h-2.9zM120.4 293.06h2.9v5.58h-2.9zM152.1 293.06h2.9v5.58h-2.9zM157.9 293.06h2.9v5.58h-2.9zM172.3 293.06h2.9v5.58h-2.9zM186.7 293.06h2.9v5.58h-2.9zM51.3 298.59h2.9v5.58h-2.9zM65.7 298.59h2.9v5.58h-2.9zM71.5 298.59h2.9v5.58h-2.9zM77.2 298.59h2.9v5.58h-2.9zM80.1 298.59h2.9v5.58h-2.9zM88.7 298.59h2.9v5.58h-2.9zM94.5 298.59h2.9v5.58h-2.9zM108.9 298.59h2.9v5.58h-2.9zM114.7 298.59h2.9v5.58h-2.9zM120.4 298.59h2.9v5.58h-2.9zM131.9 298.59h2.9v5.58h-2.9zM137.7 298.59h2.9v5.58h-2.9zM146.3 298.59h2.9v5.58h-2.9zM149.2 298.59h2.9v5.58h-2.9zM155.0 298.59h2.9v5.58h-2.9zM157.9 298.59h2.9v5.58h-2.9zM163.6 298.59h2.9v5.58h-2.9zM172.3 298.59h2.9v5.58h-2.9zM175.1 298.59h2.9v5.58h-2.9zM186.7 298.59h2.9v5.58h-2.9zM57.1 304.11h2.9v5.58h-2.9zM62.8 304.11h2.9v5.58h-2.9zM65.7 304.11h2.9v5.58h-2.9zM68.6 304.11h2.9v5.58h-2.9zM74.3 304.11h2.9v5.58h-2.9zM80.1 304.11h2.9v5.58h-2.9zM88.7 304.11h2.9v5.58h-2.9zM94.5 304.11h2.9v5.58h-2.9zM100.3 304.11h2.9v5.58h-2.9zM106.0 304.11h2.9v5.58h-2.9zM114.7 304.11h2.9v5.58h-2.9zM123.3 304.11h2.9v5.58h-2.9zM129.1 304.11h2.9v5.58h-2.9zM134.8 304.11h2.9v5.58h-2.9zM152.1 304.11h2.9v5.58h-2.9zM160.7 304.11h2.9v5.58h-2.9zM163.6 304.11h2.9v5.58h-2.9zM166.5 304.11h2.9v5.58h-2.9zM172.3 304.11h2.9v5.58h-2.9zM178.0 304.11h2.9v5.58h-2.9zM192.4 304.11h2.9v5.58h-2.9zM57.1 309.64h2.9v5.58h-2.9zM59.9 309.64h2.9v5.58h-2.9zM65.7 309.64h2.9v5.58h-2.9zM71.5 309.64h2.9v5.58h-2.9zM74.3 309.64h2.9v5.58h-2.9zM80.1 309.64h2.9v5.58h-2.9zM94.5 309.64h2.9v5.58h-2.9zM106.0 309.64h2.9v5.58h-2.9zM111.8 309.64h2.9v5.58h-2.9zM120.4 309.64h2.9v5.58h-2.9zM131.9 309.64h2.9v5.58h-2.9zM140.6 309.64h2.9v5.58h-2.9zM143.5 309.64h2.9v5.58h-2.9zM146.3 309.64h2.9v5.58h-2.9zM178.0 309.64h2.9v5.58h-2.9zM180.9 309.64h2.9v5.58h-2.9zM192.4 309.64h2.9v5.58h-2.9zM68.6 315.17h2.9v5.58h-2.9zM80.1 315.17h2.9v5.58h-2.9zM85.9 315.17h2.9v5.58h-2.9zM91.6 315.17h2.9v5.58h-2.9zM100.3 315.17h2.9v5.58h-2.9zM131.9 315.17h2.9v5.58h-2.9zM137.7 315.17h2.9v5.58h-2.9zM152.1 315.17h2.9v5.58h-2.9zM163.6 315.17h2.9v5.58h-2.9zM178.0 315.17h2.9v5.58h-2.9zM180.9 315.17h2.9v5.58h-2.9zM183.8 315.17h2.9v5.58h-2.9zM51.3 320.69h2.9v5.58h-2.9zM59.9 320.69h2.9v5.58h-2.9zM62.8 320.69h2.9v5.58h-2.9zM74.3 320.69h2.9v5.58h-2.9zM83.0 320.69h2.9v5.58h-2.9zM94.5 320.69h2.9v5.58h-2.9zM97.4 320.69h2.9v5.58h-2.9zM100.3 320.69h2.9v5.58h-2.9zM103.1 320.69h2.9v5.58h-2.9zM108.9 320.69h2.9v5.58h-2.9zM126.2 320.69h2.9v5.58h-2.9zM146.3 320.69h2.9v5.58h-2.9zM157.9 320.69h2.9v5.58h-2.9zM160.7 320.69h2.9v5.58h-2.9zM169.4 320.69h2.9v5.58h-2.9zM172.3 320.69h2.9v5.58h-2.9zM175.1 320.69h2.9v5.58h-2.9zM183.8 320.69h2.9v5.58h-2.9zM189.5 320.69h2.9v5.58h-2.9zM192.4 320.69h2.9v5.58h-2.9zM51.3 326.22h2.9v5.58h-2.9zM62.8 326.22h2.9v5.58h-2.9zM68.6 326.22h2.9v5.58h-2.9zM71.5 326.22h2.9v5.58h-2.9zM77.2 326.22h2.9v5.58h-2.9zM83.0 326.22h2.9v5.58h-2.9zM91.6 326.22h2.9v5.58h-2.9zM117.5 326.22h2.9v5.58h-2.9zM126.2 326.22h2.9v5.58h-2.9zM140.6 326.22h2.9v5.58h-2.9zM149.2 326.22h2.9v5.58h-2.9zM155.0 326.22h2.9v5.58h-2.9zM157.9 326.22h2.9v5.58h-2.9zM169.4 326.22h2.9v5.58h-2.9zM175.1 326.22h2.9v5.58h-2.9zM183.8 326.22h2.9v5.58h-2.9zM189.5 326.22h2.9v5.58h-2.9zM51.3 331.75h2.9v5.58h-2.9zM71.5 331.75h2.9v5.58h-2.9zM88.7 331.75h2.9v5.58h-2.9zM94.5 331.75h2.9v5.58h-2.9zM114.7 331.75h2.9v5.58h-2.9zM120.4 331.75h2.9v5.58h-2.9zM129.1 331.75h2.9v5.58h-2.9zM137.7 331.75h2.9v5.58h-2.9zM143.5 331.75h2.9v5.58h-2.9zM163.6 331.75h2.9v5.58h-2.9zM59.9 337.27h2.9v5.58h-2.9zM68.6 337.27h2.9v5.58h-2.9zM74.3 337.27h2.9v5.58h-2.9zM80.1 337.27h2.9v5.58h-2.9zM88.7 337.27h2.9v5.58h-2.9zM91.6 337.27h2.9v5.58h-2.9zM100.3 337.27h2.9v5.58h-2.9zM103.1 337.27h2.9v5.58h-2.9zM111.8 337.27h2.9v5.58h-2.9zM120.4 337.27h2.9v5.58h-2.9zM123.3 337.27h2.9v5.58h-2.9zM126.2 337.27h2.9v5.58h-2.9zM134.8 337.27h2.9v5.58h-2.9zM137.7 337.27h2.9v5.58h-2.9zM149.2 337.27h2.9v5.58h-2.9zM155.0 337.27h2.9v5.58h-2.9zM163.6 337.27h2.9v5.58h-2.9zM166.5 337.27h2.9v5.58h-2.9zM51.3 342.80h2.9v5.58h-2.9zM54.2 342.80h2.9v5.58h-2.9zM57.1 342.80h2.9v5.58h-2.9zM59.9 342.80h2.9v5.58h-2.9zM65.7 342.80h2.9v5.58h-2.9zM80.1 342.80h2.9v5.58h-2.9zM91.6 342.80h2.9v5.58h-2.9zM108.9 342.80h2.9v5.58h-2.9zM111.8 342.80h2.9v5.58h-2.9zM117.5 342.80h2.9v5.58h-2.9zM120.4 342.80h2.9v5.58h-2.9zM131.9 342.80h2.9v5.58h-2.9zM149.2 342.80h2.9v5.58h-2.9zM163.6 342.80h2.9v5.58h-2.9zM166.5 342.80h2.9v5.58h-2.9zM183.8 342.80h2.9v5.58h-2.9zM51.3 348.33h2.9v5.58h-2.9zM57.1 348.33h2.9v5.58h-2.9zM59.9 348.33h2.9v5.58h-2.9zM62.8 348.33h2.9v5.58h-2.9zM88.7 348.33h2.9v5.58h-2.9zM108.9 348.33h2.9v5.58h-2.9zM111.8 348.33h2.9v5.58h-2.9zM123.3 348.33h2.9v5.58h-2.9zM126.2 348.33h2.9v5.58h-2.9zM134.8 348.33h2.9v5.58h-2.9zM152.1 348.33h2.9v5.58h-2.9zM157.9 348.33h2.9v5.58h-2.9zM163.6 348.33h2.9v5.58h-2.9zM189.5 348.33h2.9v5.58h-2.9zM192.4 348.33h2.9v5.58h-2.9zM54.2 353.85h2.9v5.58h-2.9zM57.1 353.85h2.9v5.58h-2.9zM74.3 353.85h2.9v5.58h-2.9zM77.2 353.85h2.9v5.58h-2.9zM94.5 353.85h2.9v5.58h-2.9zM97.4 353.85h2.9v5.58h-2.9zM100.3 353.85h2.9v5.58h-2.9zM111.8 353.85h2.9v5.58h-2.9zM120.4 353.85h2.9v5.58h-2.9zM129.1 353.85h2.9v5.58h-2.9zM137.7 353.85h2.9v5.58h-2.9zM143.5 353.85h2.9v5.58h-2.9zM149.2 353.85h2.9v5.58h-2.9zM152.1 353.85h2.9v5.58h-2.9zM155.0 353.85h2.9v5.58h-2.9zM166.5 353.85h2.9v5.58h-2.9zM172.3 353.85h2.9v5.58h-2.9zM178.0 353.85h2.9v5.58h-2.9zM180.9 353.85h2.9v5.58h-2.9zM54.2 359.38h2.9v5.58h-2.9zM57.1 359.38h2.9v5.58h-2.9zM59.9 359.38h2.9v5.58h-2.9zM62.8 359.38h2.9v5.58h-2.9zM80.1 359.38h2.9v5.58h-2.9zM83.0 359.38h2.9v5.58h-2.9zM91.6 359.38h2.9v5.58h-2.9zM94.5 359.38h2.9v5.58h-2.9zM100.3 359.38h2.9v5.58h-2.9zM103.1 359.38h2.9v5.58h-2.9zM126.2 359.38h2.9v5.58h-2.9zM137.7 359.38h2.9v5.58h-2.9zM143.5 359.38h2.9v5.58h-2.9zM175.1 359.38h2.9v5.58h-2.9zM178.0 359.38h2.9v5.58h-2.9zM180.9 359.38h2.9v5.58h-2.9zM183.8 359.38h2.9v5.58h-2.9zM57.1 364.91h2.9v5.58h-2.9zM59.9 364.91h2.9v5.58h-2.9zM68.6 364.91h2.9v5.58h-2.9zM77.2 364.91h2.9v5.58h-2.9zM80.1 364.91h2.9v5.58h-2.9zM85.9 364.91h2.9v5.58h-2.9zM88.7 364.91h2.9v5.58h-2.9zM97.4 364.91h2.9v5.58h-2.9zM126.2 364.91h2.9v5.58h-2.9zM134.8 364.91h2.9v5.58h-2.9zM137.7 364.91h2.9v5.58h-2.9zM163.6 364.91h2.9v5.58h-2.9zM169.4 364.91h2.9v5.58h-2.9zM175.1 364.91h2.9v5.58h-2.9zM178.0 364.91h2.9v5.58h-2.9zM51.3 370.43h2.9v5.58h-2.9zM57.1 370.43h2.9v5.58h-2.9zM117.5 370.43h2.9v5.58h-2.9zM129.1 370.43h2.9v5.58h-2.9zM57.1 375.96h2.9v5.58h-2.9zM62.8 375.96h2.9v5.58h-2.9zM163.6 375.96h2.9v5.58h-2.9zM51.3 414.65h2.9v5.58h-2.9zM54.2 414.65h2.9v5.58h-2.9zM57.1 414.65h2.9v5.58h-2.9zM54.2 420.17h2.9v5.58h-2.9zM180.9 420.17h2.9v5.58h-2.9z"/>
<path fill="#4741e5" d="M68.6 259.90h2.9v5.58h-2.9zM80.1 259.90h2.9v5.58h-2.9zM85.9 259.90h2.9v5.58h-2.9zM88.7 259.90h2.9v5.58h-2.9zM103.1 259.90h2.9v5.58h-2.9zM108.9 259.90h2.9v5.58h-2.9zM111.8 259.90h2.9v5.58h-2.9zM114.7 259.90h2.9v5.58h-2.9zM117.5 259.90h2.9v5.58h-2.9zM120.4 259.90h2.9v5.58h-2.9zM129.1 259.90h2.9v5.58h-2.9zM152.1 259.90h2.9v5.58h-2.9zM155.0 259.90h2.9v5.58h-2.9zM157.9 259.90h2.9v5.58h-2.9zM160.7 259.90h2.9v5.58h-2.9zM166.5 259.90h2.9v5.58h-2.9zM175.1 259.90h2.9v5.58h-2.9zM180.9 259.90h2.9v5.58h-2.9zM192.4 259.90h2.9v5.58h-2.9zM59.9 265.43h2.9v5.58h-2.9zM68.6 265.43h2.9v5.58h-2.9zM77.2 265.43h2.9v5.58h-2.9zM83.0 265.43h2.9v5.58h-2.9zM108.9 265.43h2.9v5.58h-2.9zM123.3 265.43h2.9v5.58h-2.9zM134.8 265.43h2.9v5.58h-2.9zM140.6 265.43h2.9v5.58h-2.9zM143.5 265.43h2.9v5.58h-2.9zM152.1 265.43h2.9v5.58h-2.9zM157.9 265.43h2.9v5.58h-2.9zM175.1 265.43h2.9v5.58h-2.9zM183.8 265.43h2.9v5.58h-2.9zM192.4 265.43h2.9v5.58h-2.9zM54.2 270.95h2.9v5.58h-2.9zM57.1 270.95h2.9v5.58h-2.9zM71.5 270.95h2.9v5.58h-2.9zM74.3 270.95h2.9v5.58h-2.9zM100.3 270.95h2.9v5.58h-2.9zM111.8 270.95h2.9v5.58h-2.9zM123.3 270.95h2.9v5.58h-2.9zM140.6 270.95h2.9v5.58h-2.9zM157.9 270.95h2.9v5.58h-2.9zM160.7 270.95h2.9v5.58h-2.9zM163.6 270.95h2.9v5.58h-2.9zM166.5 270.95h2.9v5.58h-2.9zM183.8 270.95h2.9v5.58h-2.9zM186.7 270.95h2.9v5.58h-2.9zM192.4 270.95h2.9v5.58h-2.9zM51.3 276.48h2.9v5.58h-2.9zM59.9 276.48h2.9v5.58h-2.9zM62.8 276.48h2.9v5.58h-2.9zM65.7 276.48h2.9v5.58h-2.9zM68.6 276.48h2.9v5.58h-2.9zM74.3 276.48h2.9v5.58h-2.9zM77.2 276.48h2.9v5.58h-2.9zM91.6 276.48h2.9v5.58h-2.9zM108.9 276.48h2.9v5.58h-2.9zM117.5 276.48h2.9v5.58h-2.9zM123.3 276.48h2.9v5.58h-2.9zM131.9 276.48h2.9v5.58h-2.9zM134.8 276.48h2.9v5.58h-2.9zM137.7 276.48h2.9v5.58h-2.9zM146.3 276.48h2.9v5.58h-2.9zM149.2 276.48h2.9v5.58h-2.9zM157.9 276.48h2.9v5.58h-2.9zM160.7 276.48h2.9v5.58h-2.9zM163.6 276.48h2.9v5.58h-2.9zM166.5 276.48h2.9v5.58h-2.9zM172.3 276.48h2.9v5.58h-2.9zM180.9 276.48h2.9v5.58h-2.9zM186.7 276.48h2.9v5.58h-2.9zM192.4 276.48h2.9v5.58h-2.9zM62.8 282.01h2.9v5.58h-2.9zM68.6 282.01h2.9v5.58h-2.9zM80.1 282.01h2.9v5.58h-2.9zM94.5 282.01h2.9v5.58h-2.9zM108.9 282.01h2.9v5.58h-2.9zM117.5 282.01h2.9v5.58h-2.9zM120.4 282.01h2.9v5.58h-2.9zM129.1 282.01h2.9v5.58h-2.9zM143.5 282.01h2.9v5.58h-2.9zM146.3 282.01h2.9v5.58h-2.9zM163.6 282.01h2.9v5.58h-2.9zM166.5 282.01h2.9v5.58h-2.9zM189.5 282.01h2.9v5.58h-2.9zM74.3 287.53h2.9v5.58h-2.9zM77.2 287.53h2.9v5.58h-2.9zM97.4 287.53h2.9v5.58h-2.9zM100.3 287.53h2.9v5.58h-2.9zM131.9 287.53h2.9v5.58h-2.9zM137.7 287.53h2.9v5.58h-2.9zM140.6 287.53h2.9v5.58h-2.9zM146.3 287.53h2.9v5.58h-2.9zM157.9 287.53h2.9v5.58h-2.9zM166.5 287.53h2.9v5.58h-2.9zM172.3 287.53h2.9v5.58h-2.9zM189.5 287.53h2.9v5.58h-2.9zM192.4 287.53h2.9v5.58h-2.9zM51.3 293.06h2.9v5.58h-2.9zM74.3 293.06h2.9v5.58h-2.9zM83.0 293.06h2.9v5.58h-2.9zM100.3 293.06h2.9v5.58h-2.9zM103.1 293.06h2.9v5.58h-2.9zM111.8 293.06h2.9v5.58h-2.9zM117.5 293.06h2.9v5.58h-2.9zM126.2 293.06h2.9v5.58h-2.9zM131.9 293.06h2.9v5.58h-2.9zM137.7 293.06h2.9v5.58h-2.9zM160.7 293.06h2.9v5.58h-2.9zM54.2 298.59h2.9v5.58h-2.9zM57.1 298.59h2.9v5.58h-2.9zM59.9 298.59h2.9v5.58h-2.9zM62.8 298.59h2.9v5.58h-2.9zM68.6 298.59h2.9v5.58h-2.9zM74.3 298.59h2.9v5.58h-2.9zM83.0 298.59h2.9v5.58h-2.9zM91.6 298.59h2.9v5.58h-2.9zM100.3 298.59h2.9v5.58h-2.9zM117.5 298.59h2.9v5.58h-2.9zM123.3 298.59h2.9v5.58h-2.9zM134.8 298.59h2.9v5.58h-2.9zM140.6 298.59h2.9v5.58h-2.9zM152.1 298.59h2.9v5.58h-2.9zM160.7 298.59h2.9v5.58h-2.9zM166.5 298.59h2.9v5.58h-2.9zM169.4 298.59h2.9v5.58h-2.9zM180.9 298.59h2.9v5.58h-2.9zM189.5 298.59h2.9v5.58h-2.9zM54.2 304.11h2.9v5.58h-2.9zM77.2 304.11h2.9v5.58h-2.9zM83.0 304.11h2.9v5.58h-2.9zM117.5 304.11h2.9v5.58h-2.9zM149.2 304.11h2.9v5.58h-2.9zM180.9 304.11h2.9v5.58h-2.9zM186.7 304.11h2.9v5.58h-2.9zM189.5 304.11h2.9v5.58h-2.9zM54.2 309.64h2.9v5.58h-2.9zM62.8 309.64h2.9v5.58h-2.9zM77.2 309.64h2.9v5.58h-2.9zM83.0 309.64h2.9v5.58h-2.9zM97.4 309.64h2.9v5.58h-2.9zM100.3 309.64h2.9v5.58h-2.9zM103.1 309.64h2.9v5.58h-2.9zM114.7 309.64h2.9v5.58h-2.9zM117.5 309.64h2.9v5.58h-2.9zM123.3 309.64h2.9v5.58h-2.9zM126.2 309.64h2.9v5.58h-2.9zM134.8 309.64h2.9v5.58h-2.9zM152.1 309.64h2.9v5.58h-2.9zM155.0 309.64h2.9v5.58h-2.9zM163.6 309.64h2.9v5.58h-2.9zM166.5 309.64h2.9v5.58h-2.9zM169.4 309.64h2.9v5.58h-2.9zM172.3 309.64h2.9v5.58h-2.9zM189.5 309.64h2.9v5.58h-2.9zM51.3 315.17h2.9v5.58h-2.9zM59.9 315.17h2.9v5.58h-2.9zM62.8 315.17h2.9v5.58h-2.9zM65.7 315.17h2.9v5.58h-2.9zM71.5 315.17h2.9v5.58h-2.9zM77.2 315.17h2.9v5.58h-2.9zM83.0 315.17h2.9v5.58h-2.9zM88.7 315.17h2.9v5.58h-2.9zM97.4 315.17h2.9v5.58h-2.9zM108.9 315.17h2.9v5.58h-2.9zM120.4 315.17h2.9v5.58h-2.9zM126.2 315.17h2.9v5.58h-2.9zM129.1 315.17h2.9v5.58h-2.9zM146.3 315.17h2.9v5.58h-2.9zM157.9 315.17h2.9v5.58h-2.9zM166.5 315.17h2.9v5.58h-2.9zM169.4 315.17h2.9v5.58h-2.9zM172.3 315.17h2.9v5.58h-2.9zM192.4 315.17h2.9v5.58h-2.9zM57.1 320.69h2.9v5.58h-2.9zM77.2 320.69h2.9v5.58h-2.9zM111.8 320.69h2.9v5.58h-2.9zM117.5 320.69h2.9v5.58h-2.9zM120.4 320.69h2.9v5.58h-2.9zM143.5 320.69h2.9v5.58h-2.9zM57.1 326.22h2.9v5.58h-2.9zM59.9 326.22h2.9v5.58h-2.9zM85.9 326.22h2.9v5.58h-2.9zM97.4 326.22h2.9v5.58h-2.9zM103.1 326.22h2.9v5.58h-2.9zM108.9 326.22h2.9v5.58h-2.9zM111.8 326.22h2.9v5.58h-2.9zM114.7 326.22h2.9v5.58h-2.9zM120.4 326.22h2.9v5.58h-2.9zM123.3 326.22h2.9v5.58h-2.9zM129.1 326.22h2.9v5.58h-2.9zM131.9 326.22h2.9v5.58h-2.9zM134.8 326.22h2.9v5.58h-2.9zM143.5 326.22h2.9v5.58h-2.9zM152.1 326.22h2.9v5.58h-2.9zM160.7 326.22h2.9v5.58h-2.9zM163.6 326.22h2.9v5.58h-2.9zM178.0 326.22h2.9v5.58h-2.9zM59.9 331.75h2.9v5.58h-2.9zM68.6 331.75h2.9v5.58h-2.9zM77.2 331.75h2.9v5.58h-2.9zM80.1 331.75h2.9v5.58h-2.9zM103.1 331.75h2.9v5.58h-2.9zM111.8 331.75h2.9v5.58h-2.9zM117.5 331.75h2.9v5.58h-2.9zM126.2 331.75h2.9v5.58h-2.9zM131.9 331.75h2.9v5.58h-2.9zM146.3 331.75h2.9v5.58h-2.9zM152.1 331.75h2.9v5.58h-2.9zM160.7 331.75h2.9v5.58h-2.9zM169.4 331.75h2.9v5.58h-2.9zM172.3 331.75h2.9v5.58h-2.9zM175.1 331.75h2.9v5.58h-2.9zM180.9 331.75h2.9v5.58h-2.9zM183.8 331.75h2.9v5.58h-2.9zM189.5 331.75h2.9v5.58h-2.9zM51.3 337.27h2.9v5.58h-2.9zM57.1 337.27h2.9v5.58h-2.9zM77.2 337.27h2.9v5.58h-2.9zM83.0 337.27h2.9v5.58h-2.9zM85.9 337.27h2.9v5.58h-2.9zM97.4 337.27h2.9v5.58h-2.9zM106.0 337.27h2.9v5.58h-2.9zM108.9 337.27h2.9v5.58h-2.9zM117.5 337.27h2.9v5.58h-2.9zM131.9 337.27h2.9v5.58h-2.9zM140.6 337.27h2.9v5.58h-2.9zM146.3 337.27h2.9v5.58h-2.9zM157.9 337.27h2.9v5.58h-2.9zM172.3 337.27h2.9v5.58h-2.9zM183.8 337.27h2.9v5.58h-2.9zM186.7 337.27h2.9v5.58h-2.9zM68.6 342.80h2.9v5.58h-2.9zM74.3 342.80h2.9v5.58h-2.9zM85.9 342.80h2.9v5.58h-2.9zM94.5 342.80h2.9v5.58h-2.9zM103.1 342.80h2.9v5.58h-2.9zM106.0 342.80h2.9v5.58h-2.9zM114.7 342.80h2.9v5.58h-2.9zM134.8 342.80h2.9v5.58h-2.9zM140.6 342.80h2.9v5.58h-2.9zM146.3 342.80h2.9v5.58h-2.9zM152.1 342.80h2.9v5.58h-2.9zM189.5 342.80h2.9v5.58h-2.9zM54.2 348.33h2.9v5.58h-2.9zM77.2 348.33h2.9v5.58h-2.9zM97.4 348.33h2.9v5.58h-2.9zM117.5 348.33h2.9v5.58h-2.9zM120.4 348.33h2.9v5.58h-2.9zM137.7 348.33h2.9v5.58h-2.9zM140.6 348.33h2.9v5.58h-2.9zM146.3 348.33h2.9v5.58h-2.9zM160.7 348.33h2.9v5.58h-2.9zM166.5 348.33h2.9v5.58h-2.9zM172.3 348.33h2.9v5.58h-2.9zM186.7 348.33h2.9v5.58h-2.9zM51.3 353.85h2.9v5.58h-2.9zM62.8 353.85h2.9v5.58h-2.9zM65.7 353.85h2.9v5.58h-2.9zM80.1 353.85h2.9v5.58h-2.9zM83.0 353.85h2.9v5.58h-2.9zM85.9 353.85h2.9v5.58h-2.9zM88.7 353.85h2.9v5.58h-2.9zM91.6 353.85h2.9v5.58h-2.9zM126.2 353.85h2.9v5.58h-2.9zM131.9 353.85h2.9v5.58h-2.9zM140.6 353.85h2.9v5.58h-2.9zM146.3 353.85h2.9v5.58h-2.9zM160.7 353.85h2.9v5.58h-2.9zM163.6 353.85h2.9v5.58h-2.9zM186.7 353.85h2.9v5.58h-2.9zM189.5 353.85h2.9v5.58h-2.9zM192.4 353.85h2.9v5.58h-2.9zM71.5 359.38h2.9v5.58h-2.9zM97.4 359.38h2.9v5.58h-2.9zM114.7 359.38h2.9v5.58h-2.9zM117.5 359.38h2.9v5.58h-2.9zM120.4 359.38h2.9v5.58h-2.9zM123.3 359.38h2.9v5.58h-2.9zM131.9 359.38h2.9v5.58h-2.9zM140.6 359.38h2.9v5.58h-2.9zM152.1 359.38h2.9v5.58h-2.9zM155.0 359.38h2.9v5.58h-2.9zM163.6 359.38h2.9v5.58h-2.9zM172.3 359.38h2.9v5.58h-2.9zM186.7 359.38h2.9v5.58h-2.9zM189.5 359.38h2.9v5.58h-2.9zM192.4 359.38h2.9v5.58h-2.9zM54.2 364.91h2.9v5.58h-2.9zM65.7 364.91h2.9v5.58h-2.9zM74.3 364.91h2.9v5.58h-2.9zM111.8 364.91h2.9v5.58h-2.9zM117.5 364.91h2.9v5.58h-2.9zM120.4 364.91h2.9v5.58h-2.9zM140.6 364.91h2.9v5.58h-2.9zM143.5 364.91h2.9v5.58h-2.9zM152.1 364.91h2.9v5.58h-2.9zM155.0 364.91h2.9v5.58h-2.9zM186.7 364.91h2.9v5.58h-2.9zM59.9 370.43h2.9v5.58h-2.9zM62.8 370.43h2.9v5.58h-2.9zM71.5 370.43h2.9v5.58h-2.9zM111.8 370.43h2.9v5.58h-2.9zM123.3 370.43h2.9v5.58h-2.9zM126.2 370.43h2.9v5.58h-2.9zM134.8 370.43h2.9v5.58h-2.9zM143.5 370.43h2.9v5.58h-2.9zM149.2 370.43h2.9v5.58h-2.9zM152.1 370.43h2.9v5.58h-2.9zM51.3 375.96h2.9v5.58h-2.9zM59.9 375.96h2.9v5.58h-2.9zM134.8 375.96h2.9v5.58h-2.9zM143.5 375.96h2.9v5.58h-2.9zM146.3 375.96h2.9v5.58h-2.9zM149.2 375.96h2.9v5.58h-2.9zM152.1 375.96h2.9v5.58h-2.9zM155.0 375.96h2.9v5.58h-2.9zM157.9 375.96h2.9v5.58h-2.9zM175.1 375.96h2.9v5.58h-2.9zM180.9 375.96h2.9v5.58h-2.9zM51.3 381.49h2.9v5.58h-2.9zM54.2 381.49h2.9v5.58h-2.9zM71.5 381.49h2.9v5.58h-2.9zM62.8 392.54h2.9v5.58h-2.9zM62.8 403.59h2.9v5.58h-2.9zM51.3 409.12h2.9v5.58h-2.9zM155.0 409.12h2.9v5.58h-2.9zM129.1 414.65h2.9v5.58h-2.9zM57.1 420.17h2.9v5.58h-2.9zM59.9 420.17h2.9v5.58h-2.9zM114.7 420.17h2.9v5.58h-2.9zM117.5 420.17h2.9v5.58h-2.9zM120.4 420.17h2.9v5.58h-2.9zM126.2 420.17h2.9v5.58h-2.9zM183.8 420.17h2.9v5.58h-2.9zM186.7 420.17h2.9v5.58h-2.9zM189.5 420.17h2.9v5.58h-2.9zM192.4 420.17h2.9v5.58h-2.9z"/>
<path fill="#4747eb" d="M51.3 259.90h2.9v5.58h-2.9zM54.2 259.90h2.9v5.58h-2.9zM57.1 259.90h2.9v5.58h-2.9zM71.5 259.90h2.9v5.58h-2.9zM77.2 259.90h2.9v5.58h-2.9zM83.0 259.90h2.9v5.58h-2.9zM100.3 259.90h2.9v5.58h-2.9zM126.2 259.90h2.9v5.58h-2.9zM140.6 259.90h2.9v5.58h-2.9zM143.5 259.90h2.9v5.58h-2.9zM146.3 259.90h2.9v5.58h-2.9zM172.3 259.90h2.9v5.58h-2.9zM183.8 259.90h2.9v5.58h-2.9zM186.7 259.90h2.9v5.58h-2.9zM189.5 259.90h2.9v5.58h-2.9zM117.5 265.43h2.9v5.58h-2.9zM120.4 265.43h2.9v5.58h-2.9zM131.9 265.43h2.9v5.58h-2.9zM186.7 265.43h2.9v5.58h-2.9zM59.9 270.95h2.9v5.58h-2.9zM77.2 270.95h2.9v5.58h-2.9zM85.9 270.95h2.9v5.58h-2.9zM94.5 270.95h2.9v5.58h-2.9zM103.1 270.95h2.9v5.58h-2.9zM169.4 270.95h2.9v5.58h-2.9zM57.1 276.48h2.9v5.58h-2.9zM85.9 276.48h2.9v5.58h-2.9zM97.4 276.48h2.9v5.58h-2.9zM140.6 276.48h2.9v5.58h-2.9zM169.4 276.48h2.9v5.58h-2.9zM77.2 282.01h2.9v5.58h-2.9zM85.9 282.01h2.9v5.58h-2.9zM97.4 282.01h2.9v5.58h-2.9zM103.1 282.01h2.9v5.58h-2.9zM155.0 282.01h2.9v5.58h-2.9zM186.7 282.01h2.9v5.58h-2.9zM80.1 287.53h2.9v5.58h-2.9zM103.1 287.53h2.9v5.58h-2.9zM111.8 287.53h2.9v5.58h-2.9zM175.1 287.53h2.9v5.58h-2.9zM186.7 287.53h2.9v5.58h-2.9zM140.6 293.06h2.9v5.58h-2.9zM97.4 298.59h2.9v5.58h-2.9zM103.1 298.59h2.9v5.58h-2.9zM126.2 298.59h2.9v5.58h-2.9zM183.8 298.59h2.9v5.58h-2.9zM51.3 304.11h2.9v5.58h-2.9zM59.9 304.11h2.9v5.58h-2.9zM85.9 304.11h2.9v5.58h-2.9zM97.4 304.11h2.9v5.58h-2.9zM108.9 304.11h2.9v5.58h-2.9zM131.9 304.11h2.9v5.58h-2.9zM169.4 304.11h2.9v5.58h-2.9zM183.8 304.11h2.9v5.58h-2.9zM51.3 309.64h2.9v5.58h-2.9zM68.6 309.64h2.9v5.58h-2.9zM85.9 309.64h2.9v5.58h-2.9zM108.9 309.64h2.9v5.58h-2.9zM137.7 309.64h2.9v5.58h-2.9zM149.2 309.64h2.9v5.58h-2.9zM157.9 309.64h2.9v5.58h-2.9zM160.7 309.64h2.9v5.58h-2.9zM175.1 309.64h2.9v5.58h-2.9zM183.8 309.64h2.9v5.58h-2.9zM57.1 315.17h2.9v5.58h-2.9zM74.3 315.17h2.9v5.58h-2.9zM103.1 315.17h2.9v5.58h-2.9zM134.8 315.17h2.9v5.58h-2.9zM140.6 315.17h2.9v5.58h-2.9zM160.7 315.17h2.9v5.58h-2.9zM186.7 315.17h2.9v5.58h-2.9zM131.9 320.69h2.9v5.58h-2.9zM74.3 326.22h2.9v5.58h-2.9zM186.7 326.22h2.9v5.58h-2.9zM57.1 331.75h2.9v5.58h-2.9zM62.8 331.75h2.9v5.58h-2.9zM65.7 331.75h2.9v5.58h-2.9zM74.3 331.75h2.9v5.58h-2.9zM85.9 331.75h2.9v5.58h-2.9zM97.4 331.75h2.9v5.58h-2.9zM123.3 331.75h2.9v5.58h-2.9zM134.8 331.75h2.9v5.58h-2.9zM140.6 331.75h2.9v5.58h-2.9zM155.0 331.75h2.9v5.58h-2.9zM157.9 331.75h2.9v5.58h-2.9zM166.5 331.75h2.9v5.58h-2.9zM186.7 331.75h2.9v5.58h-2.9zM192.4 331.75h2.9v5.58h-2.9zM160.7 337.27h2.9v5.58h-2.9zM77.2 342.80h2.9v5.58h-2.9zM97.4 342.80h2.9v5.58h-2.9zM137.7 342.80h2.9v5.58h-2.9zM186.7 342.80h2.9v5.58h-2.9zM65.7 348.33h2.9v5.58h-2.9zM106.0 348.33h2.9v5.58h-2.9zM169.4 348.33h2.9v5.58h-2.9zM108.9 353.85h2.9v5.58h-2.9zM117.5 353.85h2.9v5.58h-2.9zM51.3 359.38h2.9v5.58h-2.9zM68.6 359.38h2.9v5.58h-2.9zM74.3 359.38h2.9v5.58h-2.9zM85.9 359.38h2.9v5.58h-2.9zM88.7 359.38h2.9v5.58h-2.9zM108.9 359.38h2.9v5.58h-2.9zM160.7 359.38h2.9v5.58h-2.9zM51.3 364.91h2.9v5.58h-2.9zM62.8 364.91h2.9v5.58h-2.9zM160.7 364.91h2.9v5.58h-2.9zM166.5 364.91h2.9v5.58h-2.9zM65.7 370.43h2.9v5.58h-2.9zM68.6 370.43h2.9v5.58h-2.9zM114.7 370.43h2.9v5.58h-2.9zM137.7 370.43h2.9v5.58h-2.9zM140.6 370.43h2.9v5.58h-2.9zM146.3 370.43h2.9v5.58h-2.9zM54.2 375.96h2.9v5.58h-2.9zM65.7 375.96h2.9v5.58h-2.9zM129.1 375.96h2.9v5.58h-2.9zM160.7 375.96h2.9v5.58h-2.9zM172.3 375.96h2.9v5.58h-2.9zM59.9 381.49h2.9v5.58h-2.9zM54.2 392.54h2.9v5.58h-2.9zM57.1 392.54h2.9v5.58h-2.9zM65.7 392.54h2.9v5.58h-2.9zM54.2 403.59h2.9v5.58h-2.9zM57.1 403.59h2.9v5.58h-2.9zM54.2 409.12h2.9v5.58h-2.9zM57.1 409.12h2.9v5.58h-2.9zM152.1 409.12h2.9v5.58h-2.9zM163.6 409.12h2.9v5.58h-2.9zM123.3 414.65h2.9v5.58h-2.9zM126.2 414.65h2.9v5.58h-2.9zM131.9 414.65h2.9v5.58h-2.9zM137.7 414.65h2.9v5.58h-2.9zM140.6 414.65h2.9v5.58h-2.9zM111.8 420.17h2.9v5.58h-2.9zM129.1 420.17h2.9v5.58h-2.9zM178.0 420.17h2.9v5.58h-2.9z"/>
<path fill="#484df0" d="M74.3 259.90h2.9v5.58h-2.9zM97.4 259.90h2.9v5.58h-2.9zM131.9 259.90h2.9v5.58h-2.9zM163.6 259.90h2.9v5.58h-2.9zM108.9 287.53h2.9v5.58h-2.9zM85.9 298.59h2.9v5.58h-2.9zM186.7 309.64h2.9v5.58h-2.9zM146.3 326.22h2.9v5.58h-2.9zM100.3 331.75h2.9v5.58h-2.9zM65.7 359.38h2.9v5.58h-2.9zM74.3 370.43h2.9v5.58h-2.9zM120.4 370.43h2.9v5.58h-2.9zM131.9 370.43h2.9v5.58h-2.9zM155.0 370.43h2.9v5.58h-2.9zM169.4 370.43h2.9v5.58h-2.9zM178.0 370.43h2.9v5.58h-2.9zM192.4 370.43h2.9v5.58h-2.9zM68.6 375.96h2.9v5.58h-2.9zM71.5 375.96h2.9v5.58h-2.9zM74.3 375.96h2.9v5.58h-2.9zM123.3 375.96h2.9v5.58h-2.9zM126.2 375.96h2.9v5.58h-2.9zM137.7 375.96h2.9v5.58h-2.9zM140.6 375.96h2.9v5.58h-2.9zM166.5 375.96h2.9v5.58h-2.9zM178.0 375.96h2.9v5.58h-2.9zM57.1 381.49h2.9v5.58h-2.9zM65.7 381.49h2.9v5.58h-2.9zM68.6 381.49h2.9v5.58h-2.9zM175.1 381.49h2.9v5.58h-2.9zM180.9 381.49h2.9v5.58h-2.9zM189.5 381.49h2.9v5.58h-2.9zM192.4 381.49h2.9v5.58h-2.9zM54.2 387.01h2.9v5.58h-2.9zM71.5 387.01h2.9v5.58h-2.9zM51.3 392.54h2.9v5.58h-2.9zM59.9 392.54h2.9v5.58h-2.9zM68.6 392.54h2.9v5.58h-2.9zM54.2 398.07h2.9v5.58h-2.9zM51.3 403.59h2.9v5.58h-2.9zM59.9 403.59h2.9v5.58h-2.9zM189.5 403.59h2.9v5.58h-2.9zM192.4 403.59h2.9v5.58h-2.9zM157.9 409.12h2.9v5.58h-2.9zM166.5 409.12h2.9v5.58h-2.9zM62.8 414.65h2.9v5.58h-2.9zM143.5 414.65h2.9v5.58h-2.9zM108.9 420.17h2.9v5.58h-2.9z"/>
<path fill="#4852f4" d="M108.9 331.75h2.9v5.58h-2.9zM80.1 370.43h2.9v5.58h-2.9zM83.0 370.43h2.9v5.58h-2.9zM97.4 370.43h2.9v5.58h-2.9zM100.3 370.43h2.9v5.58h-2.9zM106.0 370.43h2.9v5.58h-2.9zM157.9 370.43h2.9v5.58h-2.9zM160.7 370.43h2.9v5.58h-2.9zM163.6 370.43h2.9v5.58h-2.9zM172.3 370.43h2.9v5.58h-2.9zM175.1 370.43h2.9v5.58h-2.9zM180.9 370.43h2.9v5.58h-2.9zM183.8 370.43h2.9v5.58h-2.9zM186.7 370.43h2.9v5.58h-2.9zM189.5 370.43h2.9v5.58h-2.9zM77.2 375.96h2.9v5.58h-2.9zM131.9 375.96h2.9v5.58h-2.9zM186.7 375.96h2.9v5.58h-2.9zM77.2 381.49h2.9v5.58h-2.9zM178.0 381.49h2.9v5.58h-2.9zM183.8 381.49h2.9v5.58h-2.9zM186.7 381.49h2.9v5.58h-2.9zM51.3 387.01h2.9v5.58h-2.9zM57.1 387.01h2.9v5.58h-2.9zM59.9 387.01h2.9v5.58h-2.9zM62.8 387.01h2.9v5.58h-2.9zM51.3 398.07h2.9v5.58h-2.9zM57.1 398.07h2.9v5.58h-2.9zM59.9 409.12h2.9v5.58h-2.9zM146.3 409.12h2.9v5.58h-2.9zM149.2 409.12h2.9v5.58h-2.9zM160.7 409.12h2.9v5.58h-2.9zM59.9 414.65h2.9v5.58h-2.9zM146.3 414.65h2.9v5.58h-2.9zM149.2 414.65h2.9v5.58h-2.9zM175.1 420.17h2.9v5.58h-2.9z"/>
<path fill="#4758f8" d="M77.2 370.43h2.9v5.58h-2.9zM85.9 370.43h2.9v5.58h-2.9zM88.7 370.43h2.9v5.58h-2.9zM94.5 370.43h2.9v5.58h-2.9zM103.1 370.43h2.9v5.58h-2.9zM108.9 370.43h2.9v5.58h-2.9zM166.5 370.43h2.9v5.58h-2.9zM80.1 375.96h2.9v5.58h-2.9zM83.0 375.96h2.9v5.58h-2.9zM88.7 375.96h2.9v5.58h-2.9zM192.4 375.96h2.9v5.58h-2.9zM74.3 381.49h2.9v5.58h-2.9zM68.6 387.01h2.9v5.58h-2.9zM71.5 392.54h2.9v5.58h-2.9zM59.9 398.07h2.9v5.58h-2.9zM62.8 398.07h2.9v5.58h-2.9zM68.6 403.59h2.9v5.58h-2.9zM183.8 403.59h2.9v5.58h-2.9zM186.7 403.59h2.9v5.58h-2.9zM62.8 409.12h2.9v5.58h-2.9zM143.5 409.12h2.9v5.58h-2.9zM169.4 409.12h2.9v5.58h-2.9zM120.4 414.65h2.9v5.58h-2.9zM62.8 420.17h2.9v5.58h-2.9zM106.0 420.17h2.9v5.58h-2.9zM172.3 420.17h2.9v5.58h-2.9z"/>
<path fill="#465efb" d="M91.6 370.43h2.9v5.58h-2.9zM85.9 375.96h2.9v5.58h-2.9zM100.3 375.96h2.9v5.58h-2.9zM106.0 375.96h2.9v5.58h-2.9zM111.8 375.96h2.9v5.58h-2.9zM114.7 375.96h2.9v5.58h-2.9zM183.8 375.96h2.9v5.58h-2.9zM80.1 381.49h2.9v5.58h-2.9zM172.3 381.49h2.9v5.58h-2.9zM65.7 387.01h2.9v5.58h-2.9zM83.0 387.01h2.9v5.58h-2.9zM88.7 387.01h2.9v5.58h-2.9zM91.6 387.01h2.9v5.58h-2.9zM65.7 403.59h2.9v5.58h-2.9zM71.5 403.59h2.9v5.58h-2.9zM74.3 403.59h2.9v5.58h-2.9zM180.9 403.59h2.9v5.58h-2.9zM65.7 409.12h2.9v5.58h-2.9zM172.3 409.12h2.9v5.58h-2.9z"/>
<path fill="#4563fd" d="M91.6 375.96h2.9v5.58h-2.9zM94.5 375.96h2.9v5.58h-2.9zM97.4 375.96h2.9v5.58h-2.9zM103.1 375.96h2.9v5.58h-2.9zM117.5 375.96h2.9v5.58h-2.9zM120.4 375.96h2.9v5.58h-2.9zM189.5 375.96h2.9v5.58h-2.9zM83.0 381.49h2.9v5.58h-2.9zM85.9 381.49h2.9v5.58h-2.9zM169.4 381.49h2.9v5.58h-2.9zM74.3 387.01h2.9v5.58h-2.9zM77.2 387.01h2.9v5.58h-2.9zM80.1 387.01h2.9v5.58h-2.9zM85.9 387.01h2.9v5.58h-2.9zM77.2 392.54h2.9v5.58h-2.9zM65.7 398.07h2.9v5.58h-2.9zM175.1 403.59h2.9v5.58h-2.9zM178.0 403.59h2.9v5.58h-2.9zM68.6 409.12h2.9v5.58h-2.9zM71.5 409.12h2.9v5.58h-2.9zM137.7 409.12h2.9v5.58h-2.9zM140.6 409.12h2.9v5.58h-2.9zM178.0 409.12h2.9v5.58h-2.9zM65.7 414.65h2.9v5.58h-2.9zM68.6 414.65h2.9v5.58h-2.9zM152.1 414.65h2.9v5.58h-2.9zM103.1 420.17h2.9v5.58h-2.9zM131.9 420.17h2.9v5.58h-2.9z"/>
<path fill="#4269fe" d="M108.9 375.96h2.9v5.58h-2.9zM91.6 381.49h2.9v5.58h-2.9zM157.9 381.49h2.9v5.58h-2.9zM160.7 381.49h2.9v5.58h-2.9zM163.6 381.49h2.9v5.58h-2.9zM166.5 381.49h2.9v5.58h-2.9zM94.5 387.01h2.9v5.58h-2.9zM97.4 387.01h2.9v5.58h-2.9zM68.6 398.07h2.9v5.58h-2.9zM71.5 398.07h2.9v5.58h-2.9zM77.2 403.59h2.9v5.58h-2.9zM80.1 403.59h2.9v5.58h-2.9zM175.1 409.12h2.9v5.58h-2.9zM117.5 414.65h2.9v5.58h-2.9zM65.7 420.17h2.9v5.58h-2.9z"/>
<path fill="#3e6fff" d="M88.7 381.49h2.9v5.58h-2.9zM94.5 381.49h2.9v5.58h-2.9zM100.3 387.01h2.9v5.58h-2.9zM74.3 392.54h2.9v5.58h-2.9zM74.3 398.07h2.9v5.58h-2.9zM172.3 403.59h2.9v5.58h-2.9zM74.3 409.12h2.9v5.58h-2.9zM180.9 409.12h2.9v5.58h-2.9zM71.5 414.65h2.9v5.58h-2.9zM155.0 414.65h2.9v5.58h-2.9zM100.3 420.17h2.9v5.58h-2.9zM169.4 420.17h2.9v5.58h-2.9z"/>
<path fill="#3875fe" d="M97.4 381.49h2.9v5.58h-2.9zM152.1 381.49h2.9v5.58h-2.9zM155.0 381.49h2.9v5.58h-2.9zM103.1 387.01h2.9v5.58h-2.9zM80.1 392.54h2.9v5.58h-2.9zM83.0 392.54h2.9v5.58h-2.9zM77.2 398.07h2.9v5.58h-2.9zM83.0 403.59h2.9v5.58h-2.9zM131.9 409.12h2.9v5.58h-2.9zM134.8 409.12h2.9v5.58h-2.9zM183.8 409.12h2.9v5.58h-2.9zM114.7 414.65h2.9v5.58h-2.9zM68.6 420.17h2.9v5.58h-2.9zM71.5 420.17h2.9v5.58h-2.9zM166.5 420.17h2.9v5.58h-2.9z"/>
<path fill="#327cfc" d="M100.3 381.49h2.9v5.58h-2.9zM163.6 403.59h2.9v5.58h-2.9zM169.4 403.59h2.9v5.58h-2.9zM129.1 409.12h2.9v5.58h-2.9zM186.7 409.12h2.9v5.58h-2.9zM111.8 414.65h2.9v5.58h-2.9zM94.5 420.17h2.9v5.58h-2.9zM137.7 420.17h2.9v5.58h-2.9zM163.6 420.17h2.9v5.58h-2.9z"/>
<path fill="#2f81fa" d="M106.0 381.49h2.9v5.58h-2.9zM108.9 381.49h2.9v5.58h-2.9zM143.5 381.49h2.9v5.58h-2.9zM149.2 381.49h2.9v5.58h-2.9zM106.0 387.01h2.9v5.58h-2.9zM111.8 387.01h2.9v5.58h-2.9zM85.9 392.54h2.9v5.58h-2.9zM83.0 398.07h2.9v5.58h-2.9zM85.9 403.59h2.9v5.58h-2.9zM166.5 403.59h2.9v5.58h-2.9zM80.1 409.12h2.9v5.58h-2.9zM74.3 414.65h2.9v5.58h-2.9zM77.2 414.65h2.9v5.58h-2.9zM108.9 414.65h2.9v5.58h-2.9zM157.9 414.65h2.9v5.58h-2.9zM134.8 420.17h2.9v5.58h-2.9z"/>
<path fill="#2e87f7" d="M111.8 381.49h2.9v5.58h-2.9zM114.7 381.49h2.9v5.58h-2.9zM129.1 381.49h2.9v5.58h-2.9zM137.7 381.49h2.9v5.58h-2.9zM140.6 381.49h2.9v5.58h-2.9zM146.3 381.49h2.9v5.58h-2.9zM108.9 387.01h2.9v5.58h-2.9zM114.7 387.01h2.9v5.58h-2.9zM123.3 387.01h2.9v5.58h-2.9zM80.1 398.07h2.9v5.58h-2.9zM88.7 403.59h2.9v5.58h-2.9zM77.2 409.12h2.9v5.58h-2.9zM83.0 409.12h2.9v5.58h-2.9zM123.3 409.12h2.9v5.58h-2.9zM126.2 409.12h2.9v5.58h-2.9zM140.6 420.17h2.9v5.58h-2.9z"/>
<path fill="#2d8cf3" d="M103.1 381.49h2.9v5.58h-2.9zM120.4 381.49h2.9v5.58h-2.9zM123.3 381.49h2.9v5.58h-2.9zM126.2 381.49h2.9v5.58h-2.9zM152.1 403.59h2.9v5.58h-2.9zM155.0 403.59h2.9v5.58h-2.9zM189.5 409.12h2.9v5.58h-2.9zM192.4 414.65h2.9v5.58h-2.9zM97.4 420.17h2.9v5.58h-2.9zM143.5 420.17h2.9v5.58h-2.9z"/>
<path fill="#2b91ef" d="M117.5 381.49h2.9v5.58h-2.9zM131.9 381.49h2.9v5.58h-2.9zM134.8 381.49h2.9v5.58h-2.9zM117.5 387.01h2.9v5.58h-2.9zM85.9 398.07h2.9v5.58h-2.9zM91.6 403.59h2.9v5.58h-2.9zM94.5 403.59h2.9v5.58h-2.9zM160.7 403.59h2.9v5.58h-2.9zM85.9 409.12h2.9v5.58h-2.9zM80.1 414.65h2.9v5.58h-2.9zM100.3 414.65h2.9v5.58h-2.9zM106.0 414.65h2.9v5.58h-2.9zM160.7 414.65h2.9v5.58h-2.9zM189.5 414.65h2.9v5.58h-2.9z"/>
<path fill="#2797eb" d="M120.4 387.01h2.9v5.58h-2.9zM129.1 387.01h2.9v5.58h-2.9zM88.7 392.54h2.9v5.58h-2.9zM91.6 392.54h2.9v5.58h-2.9zM88.7 398.07h2.9v5.58h-2.9zM91.6 398.07h2.9v5.58h-2.9zM94.5 398.07h2.9v5.58h-2.9zM157.9 403.59h2.9v5.58h-2.9zM192.4 409.12h2.9v5.58h-2.9zM85.9 414.65h2.9v5.58h-2.9zM103.1 414.65h2.9v5.58h-2.9zM163.6 414.65h2.9v5.58h-2.9zM186.7 414.65h2.9v5.58h-2.9zM77.2 420.17h2.9v5.58h-2.9zM80.1 420.17h2.9v5.58h-2.9zM152.1 420.17h2.9v5.58h-2.9z"/>
<path fill="#259be8" d="M126.2 387.01h2.9v5.58h-2.9zM97.4 403.59h2.9v5.58h-2.9zM149.2 403.59h2.9v5.58h-2.9zM88.7 409.12h2.9v5.58h-2.9zM120.4 409.12h2.9v5.58h-2.9zM83.0 414.65h2.9v5.58h-2.9zM94.5 414.65h2.9v5.58h-2.9zM166.5 414.65h2.9v5.58h-2.9zM169.4 414.65h2.9v5.58h-2.9zM180.9 414.65h2.9v5.58h-2.9zM183.8 414.65h2.9v5.58h-2.9zM74.3 420.17h2.9v5.58h-2.9zM91.6 420.17h2.9v5.58h-2.9zM149.2 420.17h2.9v5.58h-2.9zM157.9 420.17h2.9v5.58h-2.9zM160.7 420.17h2.9v5.58h-2.9z"/>
<path fill="#23a0e5" d="M131.9 387.01h2.9v5.58h-2.9zM94.5 392.54h2.9v5.58h-2.9zM100.3 392.54h2.9v5.58h-2.9zM103.1 392.54h2.9v5.58h-2.9zM100.3 398.07h2.9v5.58h-2.9zM100.3 403.59h2.9v5.58h-2.9zM146.3 403.59h2.9v5.58h-2.9zM91.6 409.12h2.9v5.58h-2.9zM88.7 414.65h2.9v5.58h-2.9zM91.6 414.65h2.9v5.58h-2.9zM97.4 414.65h2.9v5.58h-2.9zM172.3 414.65h2.9v5.58h-2.9zM85.9 420.17h2.9v5.58h-2.9zM88.7 420.17h2.9v5.58h-2.9zM146.3 420.17h2.9v5.58h-2.9zM155.0 420.17h2.9v5.58h-2.9z"/>
<path fill="#20a5e3" d="M134.8 387.01h2.9v5.58h-2.9zM97.4 392.54h2.9v5.58h-2.9zM97.4 398.07h2.9v5.58h-2.9zM106.0 403.59h2.9v5.58h-2.9zM94.5 409.12h2.9v5.58h-2.9zM100.3 409.12h2.9v5.58h-2.9zM111.8 409.12h2.9v5.58h-2.9zM114.7 409.12h2.9v5.58h-2.9zM175.1 414.65h2.9v5.58h-2.9zM178.0 414.65h2.9v5.58h-2.9zM83.0 420.17h2.9v5.58h-2.9z"/>
<path fill="#1ca9df" d="M103.1 398.07h2.9v5.58h-2.9zM111.8 403.59h2.9v5.58h-2.9zM143.5 403.59h2.9v5.58h-2.9zM97.4 409.12h2.9v5.58h-2.9zM117.5 409.12h2.9v5.58h-2.9z"/>
<path fill="#18addb" d="M108.9 392.54h2.9v5.58h-2.9zM111.8 392.54h2.9v5.58h-2.9zM106.0 398.07h2.9v5.58h-2.9zM103.1 403.59h2.9v5.58h-2.9zM114.7 403.59h2.9v5.58h-2.9zM129.1 403.59h2.9v5.58h-2.9zM103.1 409.12h2.9v5.58h-2.9zM106.0 409.12h2.9v5.58h-2.9zM108.9 409.12h2.9v5.58h-2.9z"/>
<path fill="#12b1d6" d="M137.7 387.01h2.9v5.58h-2.9zM106.0 392.54h2.9v5.58h-2.9zM108.9 398.07h2.9v5.58h-2.9zM108.9 403.59h2.9v5.58h-2.9zM131.9 403.59h2.9v5.58h-2.9zM134.8 403.59h2.9v5.58h-2.9zM140.6 403.59h2.9v5.58h-2.9z"/>
<path fill="#08b5d0" d="M114.7 392.54h2.9v5.58h-2.9zM111.8 398.07h2.9v5.58h-2.9zM120.4 403.59h2.9v5.58h-2.9zM137.7 403.59h2.9v5.58h-2.9z"/>
<path fill="#01b8ca" d="M143.5 387.01h2.9v5.58h-2.9zM114.7 398.07h2.9v5.58h-2.9zM117.5 403.59h2.9v5.58h-2.9z"/>
<path fill="#02bac3" d="M140.6 387.01h2.9v5.58h-2.9zM117.5 392.54h2.9v5.58h-2.9zM120.4 392.54h2.9v5.58h-2.9zM117.5 398.07h2.9v5.58h-2.9zM123.3 403.59h2.9v5.58h-2.9zM126.2 403.59h2.9v5.58h-2.9z"/>
<path fill="#19bfb6" d="M146.3 387.01h2.9v5.58h-2.9zM149.2 387.01h2.9v5.58h-2.9zM120.4 398.07h2.9v5.58h-2.9z"/>
<path fill="#24c1ae" d="M123.3 398.07h2.9v5.58h-2.9z"/>
<path fill="#2cc4a7" d="M152.1 387.01h2.9v5.58h-2.9zM137.7 392.54h2.9v5.58h-2.9zM140.6 392.54h2.9v5.58h-2.9zM155.0 392.54h2.9v5.58h-2.9zM126.2 398.07h2.9v5.58h-2.9z"/>
<path fill="#31c69f" d="M155.0 387.01h2.9v5.58h-2.9zM157.9 387.01h2.9v5.58h-2.9zM143.5 392.54h2.9v5.58h-2.9z"/>
<path fill="#37c897" d="M160.7 387.01h2.9v5.58h-2.9zM166.5 387.01h2.9v5.58h-2.9zM129.1 392.54h2.9v5.58h-2.9zM134.8 392.54h2.9v5.58h-2.9zM149.2 392.54h2.9v5.58h-2.9zM129.1 398.07h2.9v5.58h-2.9z"/>
<path fill="#3fca8e" d="M163.6 387.01h2.9v5.58h-2.9zM169.4 387.01h2.9v5.58h-2.9zM175.1 387.01h2.9v5.58h-2.9zM123.3 392.54h2.9v5.58h-2.9zM131.9 392.54h2.9v5.58h-2.9z"/>
<path fill="#4acb84" d="M178.0 387.01h2.9v5.58h-2.9zM180.9 387.01h2.9v5.58h-2.9zM126.2 392.54h2.9v5.58h-2.9zM146.3 392.54h2.9v5.58h-2.9z"/>
<path fill="#57cc7a" d="M172.3 387.01h2.9v5.58h-2.9zM186.7 387.01h2.9v5.58h-2.9zM152.1 392.54h2.9v5.58h-2.9zM157.9 392.54h2.9v5.58h-2.9zM131.9 398.07h2.9v5.58h-2.9z"/>
<path fill="#64cd6f" d="M183.8 387.01h2.9v5.58h-2.9zM192.4 387.01h2.9v5.58h-2.9zM134.8 398.07h2.9v5.58h-2.9zM137.7 398.07h2.9v5.58h-2.9z"/>
<path fill="#72cd64" d="M189.5 387.01h2.9v5.58h-2.9z"/>
<path fill="#abc739" d="M140.6 398.07h2.9v5.58h-2.9zM143.5 398.07h2.9v5.58h-2.9zM192.4 398.07h2.9v5.58h-2.9z"/>
<path fill="#b9c431" d="M186.7 398.07h2.9v5.58h-2.9z"/>
<path fill="#c5c22a" d="M146.3 398.07h2.9v5.58h-2.9zM149.2 398.07h2.9v5.58h-2.9zM152.1 398.07h2.9v5.58h-2.9zM180.9 398.07h2.9v5.58h-2.9zM183.8 398.07h2.9v5.58h-2.9zM189.5 398.07h2.9v5.58h-2.9z"/>
<path fill="#d1bf27" d="M169.4 398.07h2.9v5.58h-2.9zM175.1 398.07h2.9v5.58h-2.9zM178.0 398.07h2.9v5.58h-2.9z"/>
<path fill="#dcbd29" d="M155.0 398.07h2.9v5.58h-2.9zM172.3 398.07h2.9v5.58h-2.9z"/>
<path fill="#e6bb2d" d="M157.9 398.07h2.9v5.58h-2.9zM163.6 398.07h2.9v5.58h-2.9z"/>
<path fill="#f0ba36" d="M166.5 398.07h2.9v5.58h-2.9z"/>
<path fill="#febe3c" d="M160.7 398.07h2.9v5.58h-2.9z"/>
<path fill="#fec934" d="M166.5 392.54h2.9v5.58h-2.9zM169.4 392.54h2.9v5.58h-2.9z"/>
<path fill="#fccf30" d="M163.6 392.54h2.9v5.58h-2.9z"/>
<path fill="#fad62d" d="M183.8 392.54h2.9v5.58h-2.9z"/>
<path fill="#f7dc2a" d="M160.7 392.54h2.9v5.58h-2.9z"/>
<path fill="#f5e327" d="M175.1 392.54h2.9v5.58h-2.9zM180.9 392.54h2.9v5.58h-2.9zM186.7 392.54h2.9v5.58h-2.9z"/>
<path fill="#f5e924" d="M172.3 392.54h2.9v5.58h-2.9zM178.0 392.54h2.9v5.58h-2.9zM189.5 392.54h2.9v5.58h-2.9z"/>
<path fill="#f7f51b" d="M192.4 392.54h2.9v5.58h-2.9z"/>
</g>
<defs><linearGradient id="s0" x1="0" x2="1" y1="0" y2="0"><stop offset="0.000" stop-color="#3e26a8"/><stop offset="0.040" stop-color="#3e28ac"/><stop offset="0.080" stop-color="#3e27aa"/><stop offset="0.120" stop-color="#3e27aa"/><stop offset="0.160" stop-color="#3e28ad"/><stop offset="0.200" stop-color="#3e26a8"/><stop offset="0.240" stop-color="#3e27ac"/><stop offset="0.280" stop-color="#3e27aa"/><stop offset="0.320" stop-color="#3e27a9"/><stop offset="0.360" stop-color="#3f28ad"/><stop offset="0.400" stop-color="#3e26a9"/><stop offset="0.440" stop-color="#3e27ac"/><stop offset="0.480" stop-color="#3e27ab"/><stop offset="0.520" stop-color="#3e27a9"/><stop offset="0.560" stop-color="#3f28ad"/><stop offset="0.600" stop-color="#3e26a9"/><stop offset="0.640" stop-color="#3e27ab"/><stop offset="0.680" stop-color="#3e27ab"/><stop offset="0.720" stop-color="#3e26a9"/><stop offset="0.760" stop-color="#3f28ad"/><stop offset="0.800" stop-color="#3e27a9"/><stop offset="0.840" stop-color="#3e27ab"/><stop offset="0.880" stop-color="#3e27ac"/><stop offset="0.920" stop-color="#3e26a9"/><stop offset="0.960" stop-color="#3f28ad"/><stop offset="1.000" stop-color="#3e27a9"/></linearGradient><linearGradient id="s1" x1="0" x2="1" y1="0" y2="0"><stop offset="0.000" stop-color="#3e26a8"/><stop offset="0.040" stop-color="#3e28ac"/><stop offset="0.080" stop-color="#3e27ab"/><stop offset="0.120" stop-color="#3e27a9"/><stop offset="0.160" stop-color="#3f28ad"/><stop offset="0.200" stop-color="#3e27a9"/><stop offset="0.240" stop-color="#3e27ab"/><stop offset="0.280" stop-color="#3e27ac"/><stop offset="0.320" stop-color="#3e26a8"/><stop offset="0.360" stop-color="#3e28ac"/><stop offset="0.400" stop-color="#3e27aa"/><stop offset="0.440" stop-color="#3e27a9"/><stop offset="0.480" stop-color="#3f28ad"/><stop offset="0.520" stop-color="#3e26a9"/><stop offset="0.560" stop-color="#3e27ab"/><stop offset="0.600" stop-color="#3e27ac"/><stop offset="0.640" stop-color="#3e26a8"/><stop offset="0.680" stop-color="#3e28ad"/><stop offset="0.720" stop-color="#3e27aa"/><stop offset="0.760" stop-color="#3e27aa"/><stop offset="0.800" stop-color="#3f28ad"/><stop offset="0.840" stop-color="#3e26a9"/><stop offset="0.880" stop-color="#3e27ab"/><stop offset="0.920" stop-color="#3e27ab"/><stop offset="0.960" stop-color="#3e26a9"/><stop offset="1.000" stop-color="#3f28ad"/></linearGradient><linearGradient id="s2" x1="0" x2="1" y1="0" y2="0"><stop offset="0.000" stop-color="#3e26a8"/><stop offset="0.040" stop-color="#3e27ac"/><stop offset="0.080" stop-color="#3e27ab"/><stop offset="0.120" stop-color="#3e26a9"/><stop offset="0.160" stop-color="#3f28ad"/><stop offset="0.200" stop-color="#3e27aa"/><stop offset="0.240" stop-color="#3e27a9"/><stop offset="0.280" stop-color="#3f28ad"/><stop offset="0.320" stop-color="#3e27a9"/><stop offset="0.360" stop-color="#3e27ab"/><stop offset="0.400" stop-color="#3e28ac"/><stop offset="0.440" stop-color="#3e26a8"/><stop offset="0.480" stop-color="#3e27ac"/><stop offset="0.520" stop-color="#3e27ab"/><stop offset="0.560" stop-color="#3e26a9"/><stop offset="0.600" stop-color="#3e28ad"/><stop offset="0.640" stop-color="#3e27aa"/><stop offset="0.680" stop-color="#3e27a9"/><stop offset="0.720" stop-color="#3f28ad"/><stop offset="0.760" stop-color="#3e27a9"/><stop offset="0.800" stop-color="#3e27aa"/><stop offset="0.840" stop-color="#3e28ac"/><stop offset="0.880" stop-color="#3e26a8"/><stop offset="0.920" stop-color="#3e27ab"/><stop offset="0.960" stop-color="#3e27ac"/><stop offset="1.000" stop-color="#3e26a8"/></linearGradient><linearGradient id="s3" x1="0" x2="1" y1="0" y2="0"><stop offset="0.000" stop-color="#3e26a8"/><stop offset="0.040" stop-color="#3e27ac"/><stop offset="0.080" stop-color="#3e27ab"/><stop offset="0.120" stop-color="#3e26a8"/><stop offset="0.160" stop-color="#3e28ac"/><stop offset="0.200" stop-color="#3e27ab"/><stop offset="0.240" stop-color="#3e26a9"/><stop offset="0.280" stop-color="#3e28ac"/><stop offset="0.320" stop-color="#3e27aa"/><stop offset="0.360" stop-color="#3e26a9"/><stop offset="0.400" stop-color="#3f28ad"/><stop offset="0.440" stop-color="#3e27aa"/><stop offset="0.480" stop-color="#3e27a9"/><stop offset="0.520" stop-color="#3f28ad"/><stop offset="0.560" stop-color="#3e27aa"/><stop offset="0.600" stop-color="#3e27aa"/><stop offset="0.640" stop-color="#3f28ad"/><stop offset="0.680" stop-color="#3e27a9"/><stop offset="0.720" stop-color="#3e27aa"/><stop offset="0.760" stop-color="#3f28ad"/><stop offset="0.800" stop-color="#3e26a9"/><stop offset="0.840" stop-color="#3e27ab"/><stop offset="0.880" stop-color="#3e28ac"/><stop offset="0.920" stop-color="#3e26a9"/><stop offset="0.960" stop-color="#3e27ab"/><stop offset="1.000" stop-color="#3e28ac"/></linearGradient><linearGradient id="s4" x1="0" x2="1" y1="0" y2="0"><stop offset="0.000" stop-color="#3e26a8"/><stop offset="0.040" stop-color="#3e27ac"/><stop offset="0.080" stop-color="#3e27ac"/><stop offset="0.120" stop-color="#3e26a8"/><stop offset="0.160" stop-color="#3e27ab"/><stop offset="0.200" stop-color="#3e27ac"/><stop offset="0.240" stop-color="#3e26a8"/><stop offset="0.280" stop-color="#3e27ab"/><stop offset="0.320" stop-color="#3e28ac"/><stop offset="0.360" stop-color="#3e26a8"/><stop offset="0.400" stop-color="#3e27ab"/><stop offset="0.440" stop-color="#3e28ac"/><stop offset="0.480" stop-color="#3e26a9"/><stop offset="0.520" stop-color="#3e27ab"/><stop offset="0.560" stop-color="#3e28ac"/><stop offset="0.600" stop-color="#3e26a9"/><stop offset="0.640" stop-color="#3e27ab"/><stop offset="0.680" stop-color="#3e28ac"/><stop offset="0.720" stop-color="#3e26a9"/><stop offset="0.760" stop-color="#3e27aa"/><stop offset="0.800" stop-color="#3e28ad"/><stop offset="0.840" stop-color="#3e26a9"/><stop offset="0.880" stop-color="#3e27aa"/><stop offset="0.920" stop-color="#3f28ad"/><stop offset="0.960" stop-color="#3e27a9"/><stop offset="1.000" stop-color="#3e27aa"/></linearGradient><linearGradient id="s5" x1="0" x2="1" y1="0" y2="0"><stop offset="0.000" stop-color="#3e26a8"/><stop offset="0.040" stop-color="#3e27ab"/><stop offset="0.080" stop-color="#3e28ac"/><stop offset="0.120" stop-color="#3e26a9"/><stop offset="0.160" stop-color="#3e27ab"/><stop offset="0.200" stop-color="#3e28ad"/><stop offset="0.240" stop-color="#3e27a9"/><stop offset="0.280" stop-color="#3e27aa"/><stop offset="0.320" stop-color="#3f28ad"/><stop offset="0.360" stop-color="#3e27aa"/><stop offset="0.400" stop-color="#3e27a9"/><stop offset="0.440" stop-color="#3e28ad"/><stop offset="0.480" stop-color="#3e27ab"/><stop offset="0.520" stop-color="#3e26a9"/><stop offset="0.560" stop-color="#3e28ac"/><stop offset="0.600" stop-color="#3e27ab"/><stop offset="0.640" stop-color="#3e26a8"/><stop offset="0.680" stop-color="#3e27ab"/><stop offset="0.720" stop-color="#3e28ac"/><stop offset="0.760" stop-color="#3e26a9"/><stop offset="0.800" stop-color="#3e27ab"/><stop offset="0.840" stop-color="#3f28ad"/><stop offset="0.880" stop-color="#3e27a9"/><stop offset="0.920" stop-color="#3e27aa"/><stop offset="0.960" stop-color="#3f28ad"/><stop offset="1.000" stop-color="#3e27aa"/></linearGradient><linearGradient id="s6" x1="0" x2="1" y1="0" y2="0"><stop offset="0.000" stop-color="#3e26a8"/><stop offset="0.040" stop-color="#3e27ab"/><stop offset="0.080" stop-color="#3e28ac"/><stop offset="0.120" stop-color="#3e27a9"/><stop offset="0.160" stop-color="#3e27aa"/><stop offset="0.200" stop-color="#3f28ad"/><stop offset="0.240" stop-color="#3e27aa"/><stop offset="0.280" stop-color="#3e26a9"/><stop offset="0.320" stop-color="#3e27ac"/><stop offset="0.360" stop-color="#3e27ac"/><stop offset="0.400" stop-color="#3e26a8"/><stop offset="0.440" stop-color="#3e27ab"/><stop offset="0.480" stop-color="#3f28ad"/><stop offset="0.520" stop-color="#3e27a9"/><stop offset="0.560" stop-color="#3e27a9"/><stop offset="0.600" stop-color="#3e28ad"/><stop offset="0.640" stop-color="#3e27ab"/><stop offset="0.680" stop-color="#3e26a8"/><stop offset="0.720" stop-color="#3e27ac"/><stop offset="0.760" stop-color="#3e28ac"/><stop offset="0.800" stop-color="#3e26a9"/><stop offset="0.840" stop-color="#3e27aa"/><stop offset="0.880" stop-color="#3f28ad"/><stop offset="0.920" stop-color="#3e27aa"/><stop offset="0.960" stop-color="#3e26a9"/><stop offset="1.000" stop-color="#3e28ac"/></linearGradient><linearGradient id="s7" x1="0" x2="1" y1="0" y2="0"><stop offset="0.000" stop-color="#3e26a8"/><stop offset="0.040" stop-color="#3e27ab"/><stop offset="0.080" stop-color="#3f28ad"/><stop offset="0.120" stop-color="#3e27a9"/><stop offset="0.160" stop-color="#3e27a9"/><stop offset="0.200" stop-color="#3e28ac"/><stop offset="0.240" stop-color="#3e27ac"/><stop offset="0.280" stop-color="#3e26a8"/><stop offset="0.320" stop-color="#3e27aa"/><stop offset="0.360" stop-color="#3f28ad"/><stop offset="0.400" stop-color="#3e27aa"/><stop offset="0.440" stop-color="#3e26a9"/><stop offset="0.480" stop-color="#3e27ac"/><stop offset="0.520" stop-color="#3e27ac"/><stop offset="0.560" stop-color="#3e26a9"/><stop offset="0.600" stop-color="#3e27aa"/><stop offset="0.640" stop-color="#3f28ad"/><stop offset="0.680" stop-color="#3e27ab"/><stop offset="0.720" stop-color="#3e26a8"/><stop offset="0.760" stop-color="#3e27ab"/><stop offset="0.800" stop-color="#3e28ac"/><stop offset="0.840" stop-color="#3e27a9"/><stop offset="0.880" stop-color="#3e27a9"/><stop offset="0.920" stop-color="#3e28ad"/><stop offset="0.960" stop-color="#3e27ab"/><stop offset="1.000" stop-color="#3e26a8"/></linearGradient><linearGradient id="s8" x1="0" x2="1" y1="0" y2="0"><stop offset="0.000" stop-color="#3e26a8"/><stop offset="0.040" stop-color="#3e27ab"/><stop offset="0.080" stop-color="#3f28ad"/><stop offset="0.120" stop-color="#3e27aa"/><stop offset="0.160" stop-color="#3e26a8"/><stop offset="0.200" stop-color="#3e27ab"/><stop offset="0.240" stop-color="#3e28ad"/><stop offset="0.280" stop-color="#3e27a9"/><stop offset="0.320" stop-color="#3e26a9"/><stop offset="0.360" stop-color="#3e27ac"/><stop offset="0.400" stop-color="#3e27ac"/><stop offset="0.440" stop-color="#3e26a9"/><stop offset="0.480" stop-color="#3e27a9"/><stop offset="0.520" stop-color="#3e28ad"/><stop offset="0.560" stop-color="#3e27ab"/><stop offset="0.600" stop-color="#3e26a8"/><stop offset="0.640" stop-color="#3e27aa"/><stop offset="0.680" stop-color="#3f28ad"/><stop offset="0.720" stop-color="#3e27ab"/><stop offset="0.760" stop-color="#3e26a8"/><stop offset="0.800" stop-color="#3e27ab"/><stop offset="0.840" stop-color="#3f28ad"/><stop offset="0.880" stop-color="#3e27aa"/><stop offset="0.920" stop-color="#3e26a8"/><stop offset="0.960" stop-color="#3e27ab"/><stop offset="1.000" stop-color="#3e28ad"/></linearGradient><linearGradient id="s9" x1="0" x2="1" y1="0" y2="0"><stop offset="0.000" stop-color="#3e26a8"/><stop offset="0.040" stop-color="#3e27ab"/><stop offset="0.080" stop-color="#3f28ad"/><stop offset="0.120" stop-color="#3e27ab"/><stop offset="0.160" stop-color="#3e26a8"/><stop offset="0.200" stop-color="#3e27aa"/><stop offset="0.240" stop-color="#3f28ad"/><stop offset="0.280" stop-color="#3e27ab"/><stop offset="0.320" stop-color="#3e26a8"/><stop offset="0.360" stop-color="#3e27aa"/><stop offset="0.400" stop-color="#3f28ad"/><stop offset="0.440" stop-color="#3e27ab"/><stop offset="0.480" stop-color="#3e26a8"/><stop offset="0.520" stop-color="#3e27aa"/><stop offset="0.560" stop-color="#3f28ad"/><stop offset="0.600" stop-color="#3e27ab"/><stop offset="0.640" stop-color="#3e26a8"/><stop offset="0.680" stop-color="#3e27aa"/><stop offset="0.720" stop-color="#3f28ad"/><stop offset="0.760" stop-color="#3e27ab"/><stop offset="0.800" stop-color="#3e26a9"/><stop offset="0.840" stop-color="#3e27aa"/><stop offset="0.880" stop-color="#3e28ad"/><stop offset="0.920" stop-color="#3e27ac"/><stop offset="0.960" stop-color="#3e26a9"/><stop offset="1.000" stop-color="#3e27aa"/></linearGradient><linearGradient id="s10" x1="0" x2="1" y1="0" y2="0"><stop offset="0.000" stop-color="#3e26a8"/><stop offset="0.040" stop-color="#3e27aa"/><stop offset="0.080" stop-color="#3f28ad"/><stop offset="0.120" stop-color="#3e27ab"/><stop offset="0.160" stop-color="#3e26a9"/><stop offset="0.200" stop-color="#3e27a9"/><stop offset="0.240" stop-color="#3e28ac"/><stop offset="0.280" stop-color="#3e28ac"/><stop offset="0.320" stop-color="#3e27a9"/><stop offset="0.360" stop-color="#3e26a9"/><stop offset="0.400" stop-color="#3e27ab"/><stop offset="0.440" stop-color="#3f28ad"/><stop offset="0.480" stop-color="#3e27aa"/><stop offset="0.520" stop-color="#3e26a8"/><stop offset="0.560" stop-color="#3e27aa"/><stop offset="0.600" stop-color="#3f28ad"/><stop offset="0.640" stop-color="#3e27ab"/><stop offset="0.680" stop-color="#3e26a9"/><stop offset="0.720" stop-color="#3e27a9"/><stop offset="0.760" stop-color="#3e28ac"/><stop offset="0.800" stop-color="#3e28ac"/><stop offset="0.840" stop-color="#3e27a9"/><stop offset="0.880" stop-color="#3e26a9"/><stop offset="0.920" stop-color="#3e27ab"/><stop offset="0.960" stop-color="#3f28ad"/><stop offset="1.000" stop-color="#3e27aa"/></linearGradient><linearGradient id="s11" x1="0" x2="1" y1="0" y2="0"><stop offset="0.000" stop-color="#3e26a8"/><stop offset="0.040" stop-color="#3e27aa"/><stop offset="0.080" stop-color="#3e28ad"/><stop offset="0.120" stop-color="#3e27ac"/><stop offset="0.160" stop-color="#3e27a9"/><stop offset="0.200" stop-color="#3e26a9"/><stop offset="0.240" stop-color="#3e27ab"/><stop offset="0.280" stop-color="#3f28ad"/><stop offset="0.320" stop-color="#3e27ab"/><stop offset="0.360" stop-color="#3e26a9"/><stop offset="0.400" stop-color="#3e27a9"/><stop offset="0.440" stop-color="#3e27ac"/><stop offset="0.480" stop-color="#3e28ad"/><stop offset="0.520" stop-color="#3e27aa"/><stop offset="0.560" stop-color="#3e26a8"/><stop offset="0.600" stop-color="#3e27aa"/><stop offset="0.640" stop-color="#3e28ad"/><stop offset="0.680" stop-color="#3e27ac"/><stop offset="0.720" stop-color="#3e27a9"/><stop offset="0.760" stop-color="#3e26a9"/><stop offset="0.800" stop-color="#3e27ab"/><stop offset="0.840" stop-color="#3f28ad"/><stop offset="0.880" stop-color="#3e27ab"/><stop offset="0.920" stop-color="#3e26a9"/><stop offset="0.960" stop-color="#3e27a9"/><stop offset="1.000" stop-color="#3e27ac"/></linearGradient><linearGradient id="s12" x1="0" x2="1" y1="0" y2="0"><stop offset="0.000" stop-color="#3e26a8"/><stop offset="0.040" stop-color="#3e27aa"/><stop offset="0.080" stop-color="#3e28ac"/><stop offset="0.120" stop-color="#3e28ac"/><stop offset="0.160" stop-color="#3e27aa"/><stop offset="0.200" stop-color="#3e26a8"/><stop offset="0.240" stop-color="#3e27aa"/><stop offset="0.280" stop-color="#3e28ac"/><stop offset="0.320" stop-color="#3e28ad"/><stop offset="0.360" stop-color="#3e27aa"/><stop offset="0.400" stop-color="#3e26a8"/><stop offset="0.440" stop-color="#3e27aa"/><stop offset="0.480" stop-color="#3e28ac"/><stop offset="0.520" stop-color="#3e28ad"/><stop offset="0.560" stop-color="#3e27aa"/><stop offset="0.600" stop-color="#3e26a8"/><stop offset="0.640" stop-color="#3e27a9"/><stop offset="0.680" stop-color="#3e27ac"/><stop offset="0.720" stop-color="#3f28ad"/><stop offset="0.760" stop-color="#3e27aa"/><stop offset="0.800" stop-color="#3e26a8"/><stop offset="0.840" stop-color="#3e27a9"/><stop offset="0.880" stop-color="#3e27ac"/><stop offset="0.920" stop-color="#3f28ad"/><stop offset="0.960" stop-color="#3e27ab"/><stop offset="1.000" stop-color="#3e26a9"/></linearGradient><linearGradient id="s13" x1="0" x2="1" y1="0" y2="0"><stop offset="0.000" stop-color="#3e26a8"/><stop offset="0.040" stop-color="#3e27aa"/><stop offset="0.080" stop-color="#3e27ac"/><stop offset="0.120" stop-color="#3f28ad"/><stop offset="0.160" stop-color="#3e27ab"/><stop offset="0.200" stop-color="#3e26a9"/><stop offset="0.240" stop-color="#3e26a9"/><stop offset="0.280" stop-color="#3e27ab"/><stop offset="0.320" stop-color="#3f28ad"/><stop offset="0.360" stop-color="#3e27ac"/><stop offset="0.400" stop-color="#3e27aa"/><stop offset="0.440" stop-color="#3e26a8"/><stop offset="0.480" stop-color="#3e27aa"/><stop offset="0.520" stop-color="#3e27ac"/><stop offset="0.560" stop-color="#3f28ad"/><stop offset="0.600" stop-color="#3e27ab"/><stop offset="0.640" stop-color="#3e26a9"/><stop offset="0.680" stop-color="#3e26a9"/><stop offset="0.720" stop-color="#3e27ab"/><stop offset="0.760" stop-color="#3f28ad"/><stop offset="0.800" stop-color="#3e28ac"/><stop offset="0.840" stop-color="#3e27aa"/><stop offset="0.880" stop-color="#3e26a8"/><stop offset="0.920" stop-color="#3e27aa"/><stop offset="0.960" stop-color="#3e27ac"/><stop offset="1.000" stop-color="#3f28ad"/></linearGradient><linearGradient id="s14" x1="0" x2="1" y1="0" y2="0"><stop offset="0.000" stop-color="#3e26a8"/><stop offset="0.040" stop-color="#3e27a9"/><stop offset="0.080" stop-color="#3e27ac"/><stop offset="0.120" stop-color="#3f28ad"/><stop offset="0.160" stop-color="#3e27ac"/><stop offset="0.200" stop-color="#3e27aa"/><stop offset="0.240" stop-color="#3e26a8"/><stop offset="0.280" stop-color="#3e27a9"/><stop offset="0.320" stop-color="#3e27ac"/><stop offset="0.360" stop-color="#3f28ad"/><stop offset="0.400" stop-color="#3e27ac"/><stop offset="0.440" stop-color="#3e27aa"/><stop offset="0.480" stop-color="#3e26a8"/><stop offset="0.520" stop-color="#3e27a9"/><stop offset="0.560" stop-color="#3e27ab"/><stop offset="0.600" stop-color="#3f28ad"/><stop offset="0.640" stop-color="#3e27ac"/><stop offset="0.680" stop-color="#3e27aa"/><stop offset="0.720" stop-color="#3e26a8"/><stop offset="0.760" stop-color="#3e27a9"/><stop offset="0.800" stop-color="#3e27ab"/><stop offset="0.840" stop-color="#3f28ad"/><stop offset="0.880" stop-color="#3e27ac"/><stop offset="0.920" stop-color="#3e27aa"/><stop offset="0.960" stop-color="#3e26a8"/><stop offset="1.000" stop-color="#3e27a9"/></linearGradient><linearGradient id="s15" x1="0" x2="1" y1="0" y2="0"><stop offset="0.000" stop-color="#3e26a8"/><stop offset="0.040" stop-color="#3e27a9"/><stop offset="0.080" stop-color="#3e27ab"/><stop offset="0.120" stop-color="#3f28ad"/><stop offset="0.160" stop-color="#3e28ac"/><stop offset="0.200" stop-color="#3e27ab"/><stop offset="0.240" stop-color="#3e26a9"/><stop offset="0.280" stop-color="#3e26a8"/><stop offset="0.320" stop-color="#3e27aa"/><stop offset="0.360" stop-color="#3e27ac"/><stop offset="0.400" stop-color="#3f28ad"/><stop offset="0.440" stop-color="#3e27ac"/><stop offset="0.480" stop-color="#3e27aa"/><stop offset="0.520" stop-color="#3e26a9"/><stop offset="0.560" stop-color="#3e26a9"/><stop offset="0.600" stop-color="#3e27aa"/><stop offset="0.640" stop-color="#3e28ac"/><stop offset="0.680" stop-color="#3f28ad"/><stop offset="0.720" stop-color="#3e27ac"/><stop offset="0.760" stop-color="#3e27aa"/><stop offset="0.800" stop-color="#3e26a8"/><stop offset="0.840" stop-color="#3e27a9"/><stop offset="0.880" stop-color="#3e27ab"/><stop offset="0.920" stop-color="#3e28ad"/><stop offset="0.960" stop-color="#3e28ad"/><stop offset="1.000" stop-color="#3e27ab"/></linearGradient><linearGradient id="s16" x1="0" x2="1" y1="0" y2="0"><stop offset="0.000" stop-color="#3e26a8"/><stop offset="0.040" stop-color="#3e27a9"/><stop offset="0.080" stop-color="#3e27ab"/><stop offset="0.120" stop-color="#3e28ac"/><stop offset="0.160" stop-color="#3f28ad"/><stop offset="0.200" stop-color="#3e27ac"/><stop offset="0.240" stop-color="#3e27aa"/><stop offset="0.280" stop-color="#3e26a9"/><stop offset="0.320" stop-color="#3e26a9"/><stop offset="0.360" stop-color="#3e27aa"/><stop offset="0.400" stop-color="#3e27ac"/><stop offset="0.440" stop-color="#3f28ad"/><stop offset="0.480" stop-color="#3e28ac"/><stop offset="0.520" stop-color="#3e27ab"/><stop offset="0.560" stop-color="#3e27a9"/><stop offset="0.600" stop-color="#3e26a8"/><stop offset="0.640" stop-color="#3e27a9"/><stop offset="0.680" stop-color="#3e27ab"/><stop offset="0.720" stop-color="#3e28ac"/><stop offset="0.760" stop-color="#3f28ad"/><stop offset="0.800" stop-color="#3e27ac"/><stop offset="0.840" stop-color="#3e27aa"/><stop offset="0.880" stop-color="#3e26a9"/><stop offset="0.920" stop-color="#3e26a8"/><stop offset="0.960" stop-color="#3e27aa"/><stop offset="1.000" stop-color="#3e27ac"/></linearGradient><linearGradient id="s17" x1="0" x2="1" y1="0" y2="0"><stop offset="0.000" stop-color="#3e26a8"/><stop offset="0.040" stop-color="#3e27a9"/><stop offset="0.080" stop-color="#3e27aa"/><stop offset="0.120" stop-color="#3e27ac"/><stop offset="0.160" stop-color="#3f28ad"/><stop offset="0.200" stop-color="#3e28ad"/><stop offset="0.240" stop-color="#3e27ab"/><stop offset="0.280" stop-color="#3e27aa"/><stop offset="0.320" stop-color="#3e26a9"/><stop offset="0.360" stop-color="#3e26a8"/><stop offset="0.400" stop-color="#3e27a9"/><stop offset="0.440" stop-color="#3e27ab"/><stop offset="0.480" stop-color="#3e28ac"/><stop offset="0.520" stop-color="#3f28ad"/><stop offset="0.560" stop-color="#3e27ac"/><stop offset="0.600" stop-color="#3e27ab"/><stop offset="0.640" stop-color="#3e27a9"/><stop offset="0.680" stop-color="#3e26a8"/><stop offset="0.720" stop-color="#3e26a9"/><stop offset="0.760" stop-color="#3e27aa"/><stop offset="0.800" stop-color="#3e27ac"/><stop offset="0.840" stop-color="#3f28ad"/><stop offset="0.880" stop-color="#3e28ad"/><stop offset="0.920" stop-color="#3e27ac"/><stop offset="0.960" stop-color="#3e27aa"/><stop offset="1.000" stop-color="#3e26a9"/></linearGradient><linearGradient id="s18" x1="0" x2="1" y1="0" y2="0"><stop offset="0.000" stop-color="#3e26a8"/><stop offset="0.040" stop-color="#3e26a9"/><stop offset="0.080" stop-color="#3e27aa"/><stop offset="0.120" stop-color="#3e27ab"/><stop offset="0.160" stop-color="#3e28ac"/><stop offset="0.200" stop-color="#3f28ad"/><stop offset="0.240" stop-color="#3e28ac"/><stop offset="0.280" stop-color="#3e27ab"/><stop offset="0.320" stop-color="#3e27aa"/><stop offset="0.360" stop-color="#3e26a9"/><stop offset="0.400" stop-color="#3e26a8"/><stop offset="0.440" stop-color="#3e26a9"/><stop offset="0.480" stop-color="#3e27aa"/><stop offset="0.520" stop-color="#3e27ab"/><stop offset="0.560" stop-color="#3e28ac"/><stop offset="0.600" stop-color="#3f28ad"/><stop offset="0.640" stop-color="#3e28ac"/><stop offset="0.680" stop-color="#3e27ab"/><stop offset="0.720" stop-color="#3e27aa"/><stop offset="0.760" stop-color="#3e26a9"/><stop offset="0.800" stop-color="#3e26a8"/><stop offset="0.840" stop-color="#3e27a9"/><stop offset="0.880" stop-color="#3e27aa"/><stop offset="0.920" stop-color="#3e27ab"/><stop offset="0.960" stop-color="#3e28ac"/><stop offset="1.000" stop-color="#3f28ad"/></linearGradient><linearGradient id="s19" x1="0" x2="1" y1="0" y2="0"><stop offset="0.000" stop-color="#3e26a8"/><stop offset="0.040" stop-color="#3e26a9"/><stop offset="0.080" stop-color="#3e27aa"/><stop offset="0.120" stop-color="#3e27ab"/><stop offset="0.160" stop-color="#3e27ac"/><stop offset="0.200" stop-color="#3e28ad"/><stop offset="0.240" stop-color="#3f28ad"/><stop offset="0.280" stop-color="#3e28ac"/><stop offset="0.320" stop-color="#3e27ac"/><stop offset="0.360" stop-color="#3e27aa"/><stop offset="0.400" stop-color="#3e27a9"/><stop offset="0.440" stop-color="#3e26a9"/><stop offset="0.480" stop-color="#3e26a8"/><stop offset="0.520" stop-color="#3e26a9"/><stop offset="0.560" stop-color="#3e27aa"/><stop offset="0.600" stop-color="#3e27ab"/><stop offset="0.640" stop-color="#3e27ac"/><stop offset="0.680" stop-color="#3e28ad"/><stop offset="0.720" stop-color="#3f28ad"/><stop offset="0.760" stop-color="#3e28ac"/><stop offset="0.800" stop-color="#3e27ab"/><stop offset="0.840" stop-color="#3e27aa"/><stop offset="0.880" stop-color="#3e27a9"/><stop offset="0.920" stop-color="#3e26a9"/><stop offset="0.960" stop-color="#3e26a8"/><stop offset="1.000" stop-color="#3e27a9"/></linearGradient><linearGradient id="s20" x1="0" x2="1" y1="0" y2="0"><stop offset="0.000" stop-color="#3e26a8"/><stop offset="0.040" stop-color="#3e27aa"/><stop offset="0.080" stop-color="#3f28af"/><stop offset="0.120" stop-color="#402bb6"/><stop offset="0.160" stop-color="#412dbd"/><stop offset="0.200" stop-color="#4230c4"/><stop offset="0.240" stop-color="#4332c9"/><stop offset="0.280" stop-color="#4433cb"/><stop offset="0.320" stop-color="#4332cb"/><stop offset="0.360" stop-color="#4331c7"/><stop offset="0.400" stop-color="#422fc1"/><stop offset="0.440" stop-color="#412cba"/><stop offset="0.480" stop-color="#402ab3"/><stop offset="0.520" stop-color="#3e28ac"/><stop offset="0.560" stop-color="#3e27a9"/><stop offset="0.600" stop-color="#3e26a9"/><stop offset="0.640" stop-color="#3e27ac"/><stop offset="0.680" stop-color="#3f29b2"/><stop offset="0.720" stop-color="#412cb9"/><stop offset="0.760" stop-color="#422ec0"/><stop offset="0.800" stop-color="#4331c6"/><stop offset="0.840" stop-color="#4332ca"/><stop offset="0.880" stop-color="#4433cb"/><stop offset="0.920" stop-color="#4332c9"/><stop offset="0.960" stop-color="#4330c5"/><stop offset="1.000" stop-color="#412ebe"/></linearGradient><linearGradient id="s21" x1="0" x2="1" y1="0" y2="0"><stop offset="0.000" stop-color="#3e26a8"/><stop offset="0.040" stop-color="#3e27aa"/><stop offset="0.080" stop-color="#3f29af"/><stop offset="0.120" stop-color="#402bb7"/><stop offset="0.160" stop-color="#422fc1"/><stop offset="0.200" stop-color="#4433cb"/><stop offset="0.240" stop-color="#4536d4"/><stop offset="0.280" stop-color="#463adb"/><stop offset="0.320" stop-color="#463de0"/><stop offset="0.360" stop-color="#473ee1"/><stop offset="0.400" stop-color="#473ee1"/><stop offset="0.440" stop-color="#463cdf"/><stop offset="0.480" stop-color="#4639da"/><stop offset="0.520" stop-color="#4536d3"/><stop offset="0.560" stop-color="#4332c9"/><stop offset="0.600" stop-color="#422ebf"/><stop offset="0.640" stop-color="#402bb6"/><stop offset="0.680" stop-color="#3f28ae"/><stop offset="0.720" stop-color="#3e27aa"/><stop offset="0.760" stop-color="#3e26a8"/><stop offset="0.800" stop-color="#3e27ab"/><stop offset="0.840" stop-color="#3f29b1"/><stop offset="0.880" stop-color="#412cb9"/><stop offset="0.920" stop-color="#422fc2"/><stop offset="0.960" stop-color="#4433cd"/><stop offset="1.000" stop-color="#4537d6"/></linearGradient><linearGradient id="s22" x1="0" x2="1" y1="0" y2="0"><stop offset="0.000" stop-color="#3e26a8"/><stop offset="0.040" stop-color="#3e27aa"/><stop offset="0.080" stop-color="#3f29b0"/><stop offset="0.120" stop-color="#412cba"/><stop offset="0.160" stop-color="#4330c5"/><stop offset="0.200" stop-color="#4536d3"/><stop offset="0.240" stop-color="#463cdf"/><stop offset="0.280" stop-color="#4744e8"/><stop offset="0.320" stop-color="#484cef"/><stop offset="0.360" stop-color="#4853f5"/><stop offset="0.400" stop-color="#4759f8"/><stop offset="0.440" stop-color="#465dfa"/><stop offset="0.480" stop-color="#4660fb"/><stop offset="0.520" stop-color="#4561fc"/><stop offset="0.560" stop-color="#4660fc"/><stop offset="0.600" stop-color="#465dfb"/><stop offset="0.640" stop-color="#4759f8"/><stop offset="0.680" stop-color="#4853f5"/><stop offset="0.720" stop-color="#484cf0"/><stop offset="0.760" stop-color="#4744e8"/><stop offset="0.800" stop-color="#463cdf"/><stop offset="0.840" stop-color="#4536d3"/><stop offset="0.880" stop-color="#4331c6"/><stop offset="0.920" stop-color="#412cba"/><stop offset="0.960" stop-color="#3f29b1"/><stop offset="1.000" stop-color="#3e27ab"/></linearGradient><linearGradient id="s23" x1="0" x2="1" y1="0" y2="0"><stop offset="0.000" stop-color="#3e26a8"/><stop offset="0.040" stop-color="#3e28ac"/><stop offset="0.080" stop-color="#3f29b0"/><stop offset="0.120" stop-color="#402ab4"/><stop offset="0.160" stop-color="#402bb8"/><stop offset="0.200" stop-color="#412dbb"/><stop offset="0.240" stop-color="#422ebf"/><stop offset="0.280" stop-color="#4230c3"/><stop offset="0.320" stop-color="#4433cd"/><stop offset="0.360" stop-color="#463adb"/><stop offset="0.400" stop-color="#4742e6"/><stop offset="0.440" stop-color="#484bef"/><stop offset="0.480" stop-color="#4854f5"/><stop offset="0.520" stop-color="#475cfa"/><stop offset="0.560" stop-color="#4465fd"/><stop offset="0.600" stop-color="#3678fe"/><stop offset="0.640" stop-color="#2d8af5"/><stop offset="0.680" stop-color="#269ae9"/><stop offset="0.720" stop-color="#21a4e3"/><stop offset="0.760" stop-color="#1da9e0"/><stop offset="0.800" stop-color="#18aedb"/><stop offset="0.840" stop-color="#0fb2d5"/><stop offset="0.880" stop-color="#0ab4d2"/><stop offset="0.920" stop-color="#07b5d0"/><stop offset="0.960" stop-color="#05b6ce"/><stop offset="1.000" stop-color="#03b7cc"/></linearGradient><linearGradient id="s24" x1="0" x2="1" y1="0" y2="0"><stop offset="0.000" stop-color="#3e26a8"/><stop offset="0.040" stop-color="#3f29af"/><stop offset="0.080" stop-color="#402bb6"/><stop offset="0.120" stop-color="#412dbd"/><stop offset="0.160" stop-color="#4537d6"/><stop offset="0.200" stop-color="#4745e9"/><stop offset="0.240" stop-color="#4854f5"/><stop offset="0.280" stop-color="#4563fc"/><stop offset="0.320" stop-color="#406dfe"/><stop offset="0.360" stop-color="#3777fe"/><stop offset="0.400" stop-color="#2f81fa"/><stop offset="0.440" stop-color="#2d8af5"/><stop offset="0.480" stop-color="#2895ec"/><stop offset="0.520" stop-color="#22a1e4"/><stop offset="0.560" stop-color="#1aacdd"/><stop offset="0.600" stop-color="#06b5cf"/><stop offset="0.640" stop-color="#0dbdbb"/><stop offset="0.680" stop-color="#2cc4a6"/><stop offset="0.720" stop-color="#42ca8b"/><stop offset="0.760" stop-color="#83cc57"/><stop offset="0.800" stop-color="#c6c22a"/><stop offset="0.840" stop-color="#f8ba3d"/><stop offset="0.880" stop-color="#fec735"/><stop offset="0.920" stop-color="#f9d82c"/><stop offset="0.960" stop-color="#f5e725"/><stop offset="1.000" stop-color="#f6f020"/></linearGradient><linearGradient id="s25" x1="0" x2="1" y1="0" y2="0"><stop offset="0.000" stop-color="#3e26a8"/><stop offset="0.040" stop-color="#402bb8"/><stop offset="0.080" stop-color="#4331c6"/><stop offset="0.120" stop-color="#4536d4"/><stop offset="0.160" stop-color="#463ee1"/><stop offset="0.200" stop-color="#4849ed"/><stop offset="0.240" stop-color="#4854f5"/><stop offset="0.280" stop-color="#465ffb"/><stop offset="0.320" stop-color="#4269fe"/><stop offset="0.360" stop-color="#3a73fe"/><stop offset="0.400" stop-color="#317dfc"/><stop offset="0.440" stop-color="#2e86f7"/><stop offset="0.480" stop-color="#2b91ef"/><stop offset="0.520" stop-color="#259ce7"/><stop offset="0.560" stop-color="#1ea7e1"/><stop offset="0.600" stop-color="#1babde"/><stop offset="0.640" stop-color="#17aeda"/><stop offset="0.680" stop-color="#10b2d5"/><stop offset="0.720" stop-color="#07b5d0"/><stop offset="0.760" stop-color="#01b7ca"/><stop offset="0.800" stop-color="#02bac5"/><stop offset="0.840" stop-color="#07bcc0"/><stop offset="0.880" stop-color="#10beba"/><stop offset="0.920" stop-color="#1ac0b5"/><stop offset="0.960" stop-color="#23c1af"/><stop offset="1.000" stop-color="#29c3aa"/></linearGradient><linearGradient id="s26" x1="0" x2="1" y1="0" y2="0"><stop offset="0.000" stop-color="#3e26a8"/><stop offset="0.040" stop-color="#3e27ac"/><stop offset="0.080" stop-color="#402ab5"/><stop offset="0.120" stop-color="#4230c4"/><stop offset="0.160" stop-color="#4537d6"/><stop offset="0.200" stop-color="#4742e6"/><stop offset="0.240" stop-color="#484ef1"/><stop offset="0.280" stop-color="#475bf9"/><stop offset="0.320" stop-color="#4368fe"/><stop offset="0.360" stop-color="#3974fe"/><stop offset="0.400" stop-color="#307ffb"/><stop offset="0.440" stop-color="#2e86f7"/><stop offset="0.480" stop-color="#2d8af4"/><stop offset="0.520" stop-color="#2d8cf3"/><stop offset="0.560" stop-color="#2d8af4"/><stop offset="0.600" stop-color="#2e86f7"/><stop offset="0.640" stop-color="#307ffb"/><stop offset="0.680" stop-color="#3975fe"/><stop offset="0.720" stop-color="#4368fe"/><stop offset="0.760" stop-color="#475cfa"/><stop offset="0.800" stop-color="#484ff2"/><stop offset="0.840" stop-color="#4742e6"/><stop offset="0.880" stop-color="#4537d7"/><stop offset="0.920" stop-color="#4230c4"/><stop offset="0.960" stop-color="#402bb6"/><stop offset="1.000" stop-color="#3e27ac"/></linearGradient><linearGradient id="s27" x1="0" x2="1" y1="0" y2="0"><stop offset="0.000" stop-color="#3e26a8"/><stop offset="0.040" stop-color="#3f28ae"/><stop offset="0.080" stop-color="#412ebe"/><stop offset="0.120" stop-color="#4536d5"/><stop offset="0.160" stop-color="#4744e9"/><stop offset="0.200" stop-color="#4854f6"/><stop offset="0.240" stop-color="#4464fd"/><stop offset="0.280" stop-color="#3b72ff"/><stop offset="0.320" stop-color="#317dfc"/><stop offset="0.360" stop-color="#2f82fa"/><stop offset="0.400" stop-color="#2f81fa"/><stop offset="0.440" stop-color="#327bfc"/><stop offset="0.480" stop-color="#3e70ff"/><stop offset="0.520" stop-color="#4561fc"/><stop offset="0.560" stop-color="#4852f4"/><stop offset="0.600" stop-color="#4742e6"/><stop offset="0.640" stop-color="#4435d0"/><stop offset="0.680" stop-color="#412cba"/><stop offset="0.720" stop-color="#3e28ac"/><stop offset="0.760" stop-color="#3e26a9"/><stop offset="0.800" stop-color="#3f29b0"/><stop offset="0.840" stop-color="#422fc1"/><stop offset="0.880" stop-color="#4539d8"/><stop offset="0.920" stop-color="#4747eb"/><stop offset="0.960" stop-color="#4757f7"/><stop offset="1.000" stop-color="#4367fd"/></linearGradient><linearGradient id="s28" x1="0" x2="1" y1="0" y2="0"><stop offset="0.000" stop-color="#3e26a8"/><stop offset="0.040" stop-color="#3f29b1"/><stop offset="0.080" stop-color="#4332c9"/><stop offset="0.120" stop-color="#4741e5"/><stop offset="0.160" stop-color="#4755f6"/><stop offset="0.200" stop-color="#4368fe"/><stop offset="0.240" stop-color="#3777fe"/><stop offset="0.280" stop-color="#317efb"/><stop offset="0.320" stop-color="#327cfc"/><stop offset="0.360" stop-color="#3c71ff"/><stop offset="0.400" stop-color="#4660fc"/><stop offset="0.440" stop-color="#484df0"/><stop offset="0.480" stop-color="#463adb"/><stop offset="0.520" stop-color="#412ebe"/><stop offset="0.560" stop-color="#3e27ab"/><stop offset="0.600" stop-color="#3e27aa"/><stop offset="0.640" stop-color="#412cba"/><stop offset="0.680" stop-color="#4537d6"/><stop offset="0.720" stop-color="#4849ed"/><stop offset="0.760" stop-color="#465dfa"/><stop offset="0.800" stop-color="#3e6fff"/><stop offset="0.840" stop-color="#337bfc"/><stop offset="0.880" stop-color="#307efb"/><stop offset="0.920" stop-color="#3579fd"/><stop offset="0.960" stop-color="#416bfe"/><stop offset="1.000" stop-color="#4758f8"/></linearGradient><linearGradient id="s29" x1="0" x2="1" y1="0" y2="0"><stop offset="0.000" stop-color="#3e26a8"/><stop offset="0.040" stop-color="#402bb6"/><stop offset="0.080" stop-color="#4538d7"/><stop offset="0.120" stop-color="#484ff2"/><stop offset="0.160" stop-color="#4367fd"/><stop offset="0.200" stop-color="#3579fd"/><stop offset="0.240" stop-color="#307efb"/><stop offset="0.280" stop-color="#3777fe"/><stop offset="0.320" stop-color="#4563fd"/><stop offset="0.360" stop-color="#484bef"/><stop offset="0.400" stop-color="#4435d2"/><stop offset="0.440" stop-color="#3f29b2"/><stop offset="0.480" stop-color="#3e26a9"/><stop offset="0.520" stop-color="#412cba"/><stop offset="0.560" stop-color="#463bdc"/><stop offset="0.600" stop-color="#4853f5"/><stop offset="0.640" stop-color="#426afe"/><stop offset="0.680" stop-color="#337afd"/><stop offset="0.720" stop-color="#317efb"/><stop offset="0.760" stop-color="#3974fe"/><stop offset="0.800" stop-color="#4660fb"/><stop offset="0.840" stop-color="#4747ec"/><stop offset="0.880" stop-color="#4433cc"/><stop offset="0.920" stop-color="#3f28af"/><stop offset="0.960" stop-color="#3e27aa"/><stop offset="1.000" stop-color="#422ebe"/></linearGradient></defs>
<g shape-rendering="crispEdges"><rect x="220.20" y="259.90" width="146.80" height="5.58" fill="url(#s0)"/><rect x="220.20" y="265.43" width="146.80" height="5.58" fill="url(#s1)"/><rect x="220.20" y="270.95" width="146.80" height="5.58" fill="url(#s2)"/><rect x="220.20" y="276.48" width="146.80" height="5.58" fill="url(#s3)"/><rect x="220.20" y="282.01" width="146.80" height="5.58" fill="url(#s4)"/><rect x="220.20" y="287.53" width="146.80" height="5.58" fill="url(#s5)"/><rect x="220.20" y="293.06" width="146.80" height="5.58" fill="url(#s6)"/><rect x="220.20" y="298.59" width="146.80" height="5.58" fill="url(#s7)"/><rect x="220.20" y="304.11" width="146.80" height="5.58" fill="url(#s8)"/><rect x="220.20" y="309.64" width="146.80" height="5.58" fill="url(#s9)"/><rect x="220.20" y="315.17" width="146.80" height="5.58" fill="url(#s10)"/><rect x="220.20" y="320.69" width="146.80" height="5.58" fill="url(#s11)"/><rect x="220.20" y="326.22" width="146.80" height="5.58" fill="url(#s12)"/><rect x="220.20" y="331.75" width="146.80" height="5.58" fill="url(#s13)"/><rect x="220.20" y="337.27" width="146.80" height="5.58" fill="url(#s14)"/><rect x="220.20" y="342.80" width="146.80" height="5.58" fill="url(#s15)"/><rect x="220.20" y="348.33" width="146.80" height="5.58" fill="url(#s16)"/><rect x="220.20" y="353.85" width="146.80" height="5.58" fill="url(#s17)"/><rect x="220.20" y="359.38" width="146.80" height="5.58" fill="url(#s18)"/><rect x="220.20" y="364.91" width="146.80" height="5.58" fill="url(#s19)"/><rect x="220.20" y="370.43" width="146.80" height="5.58" fill="url(#s20)"/><rect x="220.20" y="375.96" width="146.80" height="5.58" fill="url(#s21)"/><rect x="220.20" y="381.49" width="146.80" height="5.58" fill="url(#s22)"/><rect x="220.20" y="387.01" width="146.80" height="5.58" fill="url(#s23)"/><rect x="220.20" y="392.54" width="146.80" height="5.58" fill="url(#s24)"/><rect x="220.20" y="398.07" width="146.80" height="5.58" fill="url(#s25)"/><rect x="220.20" y="403.59" width="146.80" height="5.58" fill="url(#s26)"/><rect x="220.20" y="409.12" width="146.80" height="5.58" fill="url(#s27)"/><rect x="220.20" y="414.65" width="146.80" height="5.58" fill="url(#s28)"/><rect x="220.20" y="420.17" width="146.80" height="5.58" fill="url(#s29)"/></g>
<text x="119.6" y="291.3" font-family="'Liberation Serif', serif" font-size="18" fill="#fff" text-anchor="middle">Experiment</text>
<text x="294.2" y="291.8" font-family="'Liberation Serif', serif" font-size="18" fill="#fff" text-anchor="middle">Simulation</text>
<text x="45" y="294.4" font-family="'Liberation Serif', serif" font-size="18" text-anchor="end">3</text>
<text x="45" y="350.2" font-family="'Liberation Serif', serif" font-size="18" text-anchor="end">2</text>
<text x="45" y="406.0" font-family="'Liberation Serif', serif" font-size="18" text-anchor="end">1</text>
<text x="50.7" y="449.6" font-family="'Liberation Serif', serif" font-size="18" text-anchor="middle">0</text>
<text x="123.7" y="449.6" font-family="'Liberation Serif', serif" font-size="18" text-anchor="middle">100</text>
<text x="195.2" y="449.6" font-family="'Liberation Serif', serif" font-size="18" text-anchor="middle">200</text>
<text x="220.1" y="449.6" font-family="'Liberation Serif', serif" font-size="18" text-anchor="middle">0</text>
<text x="296.0" y="449.6" font-family="'Liberation Serif', serif" font-size="18" text-anchor="middle">100</text>
<text x="367.4" y="449.6" font-family="'Liberation Serif', serif" font-size="18" text-anchor="middle">200</text>
<text x="128.4" y="473.3" font-family="'Liberation Serif', serif" font-size="25" text-anchor="middle"><tspan font-style="italic">t</tspan> (ns)</text>
<text x="293.1" y="473.3" font-family="'Liberation Serif', serif" font-size="25" text-anchor="middle"><tspan font-style="italic">t</tspan> (ns)</text>
<text transform="translate(28.6 360.3) rotate(-90)" font-family="'Liberation Serif', serif" font-size="25" font-style="italic"><tspan x="0">ω</tspan><tspan x="17.3" font-size="32" font-style="normal" dy="2.5">/</tspan><tspan x="26.3" dy="-2.5">Ω</tspan></text>
<text x="417" y="234.5" font-family="'Liberation Serif', serif" font-size="24.5">(c)</text>
<rect x="483.1" y="229.6" width="203.6" height="197.1" fill="#fff" stroke="#111" stroke-width="1.8"/>
<path d="M584.9 426.7v-2.6M584.9 229.6v2.6M483.1 401.9h2.6M686.7 401.9h-2.6M483.1 352.6h2.6M686.7 352.6h-2.6M483.1 303.3h2.6M686.7 303.3h-2.6M483.1 254.0h2.6M686.7 254.0h-2.6" stroke="#111" stroke-width="1.1" fill="none"/>
<text x="475" y="260.2" font-family="'Liberation Serif', serif" font-size="18.5" text-anchor="end">0.3</text>
<text x="475" y="309.5" font-family="'Liberation Serif', serif" font-size="18.5" text-anchor="end">0.2</text>
<text x="475" y="358.8" font-family="'Liberation Serif', serif" font-size="18.5" text-anchor="end">0.1</text>
<text x="475" y="408.1" font-family="'Liberation Serif', serif" font-size="18.5" text-anchor="end">0</text>
<text x="483.1" y="449.8" font-family="'Liberation Serif', serif" font-size="17.5" text-anchor="middle">0</text>
<text x="584.9" y="449.8" font-family="'Liberation Serif', serif" font-size="17.5" text-anchor="middle">0.5</text>
<text x="685.0" y="449.8" font-family="'Liberation Serif', serif" font-size="17.5" text-anchor="middle">1</text>
<text transform="translate(438.3 333) rotate(-90)" font-family="'Liberation Serif', serif" font-size="25.4" text-anchor="middle">Quantum metric</text>
<text font-family="'Liberation Serif', serif" font-size="23" y="474.5"><tspan x="562.5" font-style="italic">θ</tspan><tspan x="575.3" font-size="32" dy="3.5">/</tspan><tspan x="585.5" font-style="italic" dy="-3.5">π</tspan></text>
<line x1="483.1" y1="274.3" x2="686.7" y2="274.3" stroke="#0a0ac8" stroke-width="1.5" stroke-dasharray="5.5 3.6"/>
<line x1="483.1" y1="401.9" x2="686.7" y2="401.9" stroke="#111" stroke-width="1.5" stroke-dasharray="5.5 3.6"/>
<polyline points="483.1,401.9 485.6,401.7 488.2,401.1 490.7,400.0 493.3,398.6 495.8,396.8 498.4,394.6 500.9,392.0 503.5,389.1 506.0,385.8 508.6,382.3 511.1,378.4 513.6,374.3 516.2,369.9 518.7,365.3 521.3,360.5 523.8,355.6 526.4,350.5 528.9,345.3 531.5,340.1 534.0,334.9 536.5,329.6 539.1,324.4 541.6,319.2 544.2,314.1 546.7,309.2 549.3,304.4 551.8,299.8 554.4,295.4 556.9,291.3 559.5,287.4 562.0,283.9 564.5,280.6 567.1,277.7 569.6,275.1 572.2,272.9 574.7,271.1 577.3,269.7 579.8,268.6 582.4,268.0 584.9,267.8 587.4,268.0 590.0,268.6 592.5,269.7 595.1,271.1 597.6,272.9 600.2,275.1 602.7,277.7 605.3,280.6 607.8,283.9 610.4,287.4 612.9,291.3 615.4,295.4 618.0,299.8 620.5,304.4 623.1,309.2 625.6,314.1 628.2,319.2 630.7,324.4 633.3,329.6 635.8,334.9 638.3,340.1 640.9,345.3 643.4,350.5 646.0,355.6 648.5,360.5 651.1,365.3 653.6,369.9 656.2,374.3 658.7,378.4 661.2,382.3 663.8,385.8 666.3,389.1 668.9,392.0 671.4,394.6 674.0,396.8 676.5,398.6 679.1,400.0 681.6,401.1 684.2,401.7 686.7,401.9" fill="none" stroke="#e0282c" stroke-width="2" stroke-dasharray="6.5 4.5"/>
<path d="M483.1 409.7V417.7M480.1 409.7h6.0M480.1 417.7h6.0M495.8 388.8V396.2M492.8 388.8h6.0M492.8 396.2h6.0M508.6 369.6V377.0M505.6 369.6h6.0M505.6 377.0h6.0M521.3 340.7V350.7M518.3 340.7h6.0M518.3 350.7h6.0M534.0 310.7V321.5M531.0 310.7h6.0M531.0 321.5h6.0M546.7 285.7V300.1M543.7 285.7h6.0M543.7 300.1h6.0M559.5 268.7V280.7M556.5 268.7h6.0M556.5 280.7h6.0M572.2 255.1V276.5M569.2 255.1h6.0M569.2 276.5h6.0M584.9 245.7V260.3M581.9 245.7h6.0M581.9 260.3h6.0M597.6 248.9V270.9M594.6 248.9h6.0M594.6 270.9h6.0M610.4 279.1V292.1M607.4 279.1h6.0M607.4 292.1h6.0M623.1 288.1V304.7M620.1 288.1h6.0M620.1 304.7h6.0M635.8 315.0V327.0M632.8 315.0h6.0M632.8 327.0h6.0M648.5 332.4V343.2M645.5 332.4h6.0M645.5 343.2h6.0M661.2 373.2V381.2M658.2 373.2h6.0M658.2 381.2h6.0M674.0 390.5V396.5M671.0 390.5h6.0M671.0 396.5h6.0M686.7 376.2V386.2M683.7 376.2h6.0M683.7 386.2h6.0" stroke="#e0282c" stroke-width="1.8" fill="none"/>
<circle cx="483.1" cy="413.7" r="2.5" fill="none" stroke="#e0282c" stroke-width="1.2"/>
<circle cx="495.8" cy="392.5" r="2.5" fill="none" stroke="#e0282c" stroke-width="1.2"/>
<circle cx="508.6" cy="373.3" r="2.5" fill="none" stroke="#e0282c" stroke-width="1.2"/>
<circle cx="521.3" cy="345.7" r="2.5" fill="none" stroke="#e0282c" stroke-width="1.2"/>
<circle cx="534.0" cy="316.1" r="2.5" fill="none" stroke="#e0282c" stroke-width="1.2"/>
<circle cx="546.7" cy="292.9" r="2.5" fill="none" stroke="#e0282c" stroke-width="1.2"/>
<circle cx="559.5" cy="274.7" r="2.5" fill="none" stroke="#e0282c" stroke-width="1.2"/>
<circle cx="572.2" cy="265.8" r="2.5" fill="none" stroke="#e0282c" stroke-width="1.2"/>
<circle cx="584.9" cy="253.0" r="2.5" fill="none" stroke="#e0282c" stroke-width="1.2"/>
<circle cx="597.6" cy="259.9" r="2.5" fill="none" stroke="#e0282c" stroke-width="1.2"/>
<circle cx="610.4" cy="285.6" r="2.5" fill="none" stroke="#e0282c" stroke-width="1.2"/>
<circle cx="623.1" cy="296.4" r="2.5" fill="none" stroke="#e0282c" stroke-width="1.2"/>
<circle cx="635.8" cy="321.0" r="2.5" fill="none" stroke="#e0282c" stroke-width="1.2"/>
<circle cx="648.5" cy="337.8" r="2.5" fill="none" stroke="#e0282c" stroke-width="1.2"/>
<circle cx="661.2" cy="377.2" r="2.5" fill="none" stroke="#e0282c" stroke-width="1.2"/>
<circle cx="674.0" cy="393.5" r="2.5" fill="none" stroke="#e0282c" stroke-width="1.2"/>
<circle cx="686.7" cy="381.2" r="2.5" fill="none" stroke="#e0282c" stroke-width="1.2"/>
<path d="M483.1 391.1V404.8M479.9 391.1h6.4M479.9 404.8h6.4M508.6 400.3V414.8M505.4 400.3h6.4M505.4 414.8h6.4M534.0 390.4V408.6M530.8 390.4h6.4M530.8 408.6h6.4M559.5 390.4V414.3M556.2 390.4h6.4M556.2 414.3h6.4M584.9 396.1V416.0M581.7 396.1h6.4M581.7 416.0h6.4M610.4 394.4V411.1M607.1 394.4h6.4M607.1 411.1h6.4M635.8 403.6V421.0M632.6 403.6h6.4M632.6 421.0h6.4M661.2 391.1V406.8M658.0 391.1h6.4M658.0 406.8h6.4M686.7 397.3V409.3M683.5 397.3h6.4M683.5 409.3h6.4" stroke="#111" stroke-width="1.9" fill="none"/>
<path d="M483.1 394.2l2.9 3.6l-2.9 3.6l-2.9 -3.6z" fill="none" stroke="#111" stroke-width="1"/>
<path d="M508.6 403.7l2.9 3.6l-2.9 3.6l-2.9 -3.6z" fill="none" stroke="#111" stroke-width="1"/>
<path d="M534.0 395.7l2.9 3.6l-2.9 3.6l-2.9 -3.6z" fill="none" stroke="#111" stroke-width="1"/>
<path d="M559.5 398.2l2.9 3.6l-2.9 3.6l-2.9 -3.6z" fill="none" stroke="#111" stroke-width="1"/>
<path d="M584.9 402.0l2.9 3.6l-2.9 3.6l-2.9 -3.6z" fill="none" stroke="#111" stroke-width="1"/>
<path d="M610.4 398.7l2.9 3.6l-2.9 3.6l-2.9 -3.6z" fill="none" stroke="#111" stroke-width="1"/>
<path d="M635.8 408.7l2.9 3.6l-2.9 3.6l-2.9 -3.6z" fill="none" stroke="#111" stroke-width="1"/>
<path d="M661.2 395.7l2.9 3.6l-2.9 3.6l-2.9 -3.6z" fill="none" stroke="#111" stroke-width="1"/>
<path d="M686.7 400.0l2.9 3.6l-2.9 3.6l-2.9 -3.6z" fill="none" stroke="#111" stroke-width="1"/>
<path d="M483.1 268.6V281.0M479.9 268.6h6.4M479.9 281.0h6.4M508.6 263.0V278.6M505.4 263.0h6.4M505.4 278.6h6.4M534.0 264.9V284.3M530.8 264.9h6.4M530.8 284.3h6.4M559.5 261.4V285.3M556.2 261.4h6.4M556.2 285.3h6.4M584.9 261.4V281.5M581.7 261.4h6.4M581.7 281.5h6.4M610.4 264.5V281.5M607.1 264.5h6.4M607.1 281.5h6.4M635.8 259.3V277.0M632.6 259.3h6.4M632.6 277.0h6.4M661.2 267.6V282.2M658.0 267.6h6.4M658.0 282.2h6.4M686.7 266.6V279.5M683.5 266.6h6.4M683.5 279.5h6.4" stroke="#0a0ac8" stroke-width="1.9" fill="none"/>
<rect x="480.4" y="272.2" width="5.4" height="5.4" fill="#0a0ac8"/>
<rect x="505.9" y="268.5" width="5.4" height="5.4" fill="#0a0ac8"/>
<rect x="531.3" y="272.2" width="5.4" height="5.4" fill="#0a0ac8"/>
<rect x="556.8" y="271.2" width="5.4" height="5.4" fill="#0a0ac8"/>
<rect x="582.2" y="269.1" width="5.4" height="5.4" fill="#0a0ac8"/>
<rect x="607.6" y="271.2" width="5.4" height="5.4" fill="#0a0ac8"/>
<rect x="633.1" y="266.0" width="5.4" height="5.4" fill="#0a0ac8"/>
<rect x="658.5" y="272.2" width="5.4" height="5.4" fill="#0a0ac8"/>
<rect x="684.0" y="270.5" width="5.4" height="5.4" fill="#0a0ac8"/>
<text x="610.5" y="248.3" font-family="'Liberation Serif', serif" font-size="22.5" font-style="italic" fill="#0a0ac8">g<tspan font-size="14.2" dx="1.8" dy="5" letter-spacing="0.5">θθ</tspan></text>
<text x="596.3" y="332.3" font-family="'Liberation Serif', serif" font-size="22.5" font-style="italic" fill="#e0282c">g<tspan font-size="14.2" dx="1.8" dy="5" letter-spacing="0.5">ϕϕ</tspan></text>
<text x="596.3" y="382.2" font-family="'Liberation Serif', serif" font-size="22.5" font-style="italic" fill="#111">g<tspan font-size="14.2" dx="1.8" dy="5" letter-spacing="0.5">θϕ</tspan></text>
<rect x="0" y="0" width="1.7" height="481" fill="#000"/>
<rect x="691" y="0" width="4" height="481" fill="#000"/>
</svg>
</body></html>
